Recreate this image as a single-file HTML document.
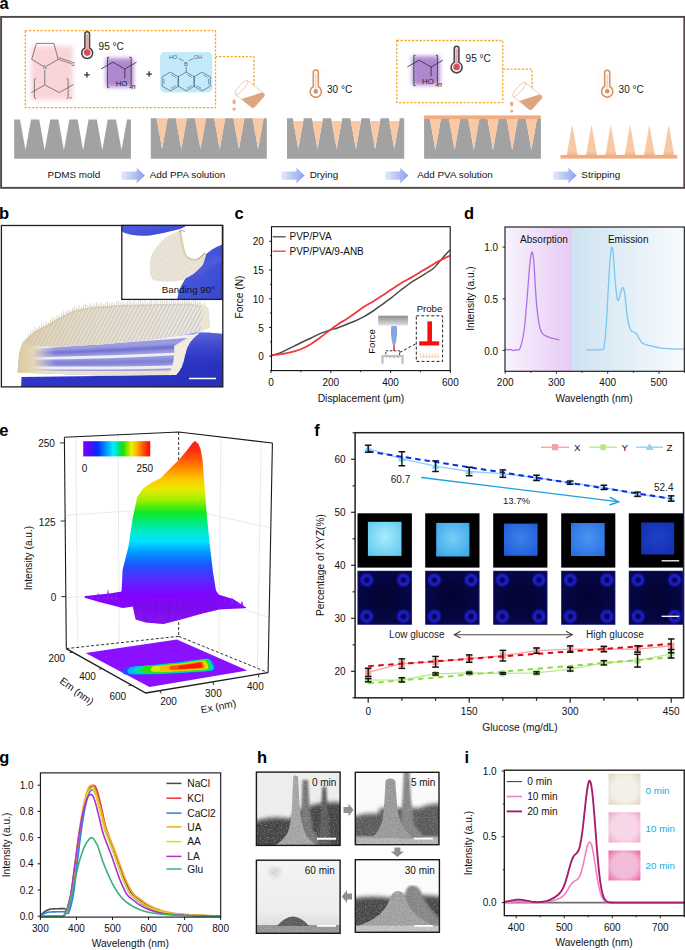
<!DOCTYPE html>
<html><head><meta charset="utf-8"><style>
html,body{margin:0;padding:0;background:#fff;}
svg{display:block;font-family:"Liberation Sans", sans-serif;}
</style></head><body>
<svg width="685" height="950" viewBox="0 0 685 950">
<rect width="685" height="950" fill="#fff"/>
<linearGradient id="arrowg" x1="0" x2="1" y1="0" y2="0"><stop offset="0" stop-color="#e6ebfb"/><stop offset="1" stop-color="#8aa0ee"/></linearGradient>
<filter id="blur2" x="-20%" y="-20%" width="140%" height="140%"><feGaussianBlur stdDeviation="2"/></filter>
<text x="-0.5" y="8.7" font-size="16.5" font-weight="bold" fill="#000">a</text>
<rect x="1.1" y="16.9" width="683.2" height="170.95" fill="none" stroke="#524747" stroke-width="1.9"/>
<rect x="25.3" y="30.6" width="190.2" height="77" fill="none" stroke="#f5a623" stroke-width="1.3" stroke-dasharray="2.2,1.6"/>
<path d="M215.5,56.6 L253.9,56.6 L253.9,86" fill="none" stroke="#f5a623" stroke-width="1.3" stroke-dasharray="2.2,1.6"/>
<rect x="396.8" y="40.5" width="106" height="62.2" fill="none" stroke="#f5a623" stroke-width="1.3" stroke-dasharray="2.2,1.6"/>
<path d="M502.8,69.2 L532,69.2 L532,90" fill="none" stroke="#f5a623" stroke-width="1.3" stroke-dasharray="2.2,1.6"/>
<rect x="31" y="46" width="42" height="54" fill="#f9d5da" filter="url(#blur2)"/>
<path d="M36.4,43.4 L53.9,43.4 L58.2,59.3 L44.8,67.2 L31.7,59.3 L36.4,43.4" fill="none" stroke="#5a5a5a" stroke-width="0.75"/>
<path d="M58.2,59.3 L71,63.6 M58.9,57.6 L71.6,61.9" fill="none" stroke="#5a5a5a" stroke-width="0.7"/>
<text x="71.2" y="66.4" font-size="4.6" fill="#444">O</text>
<rect x="43" y="64.8" width="4" height="4.5" fill="#f9d5da"/>
<text x="44.8" y="69.4" font-size="5" text-anchor="middle" fill="#444">N</text>
<path d="M44.8,70 L44.8,84.9 M31.4,92.6 L44.8,84.9 L59.4,92.6 L73.5,84.4" fill="none" stroke="#5a5a5a" stroke-width="0.75"/>
<path d="M36,78.5 Q34.4,78.5 34.4,80 L34.4,97 Q34.4,98.5 36,98.5" fill="none" stroke="#5a5a5a" stroke-width="0.75"/>
<path d="M66.5,78.5 Q68.1,78.5 68.1,80 L68.1,97 Q68.1,98.5 66.5,98.5" fill="none" stroke="#5a5a5a" stroke-width="0.75"/>
<text x="69.6" y="98.8" font-size="3.8" font-style="italic" fill="#444">n</text>
<path d="M84.9,34.1 L84.9,47.98 A5.5,5.5 0 1 0 89.5,47.98 L89.5,34.1 A2.3,2.3 0 0 0 84.9,34.1 Z" fill="#fdf4f5" stroke="#474747" stroke-width="1.6"/>
<rect x="86.05" y="34" width="2.3" height="17.8" fill="#eca3ac" rx="1"/>
<circle cx="87.2" cy="52.6" r="3.3" fill="#d84f5b"/>
<path d="M88.5,39.8 h0.8 M88.5,42.3 h0.8 M88.5,44.8 h0.8" fill="none" stroke="#7a5a5e" stroke-width="0.5"/>
<text x="98.6" y="50.2" font-size="10" fill="#1a1a1a">95 °C</text>
<path d="M84.2,74.9 h5.5 M86.95,72.1 v5.5 M146.4,74.1 h5.5 M149.15,71.3 v5.5" fill="none" stroke="#333" stroke-width="1.3"/>
<rect x="106" y="58.2" width="27.4" height="29" fill="#ad88d0" filter="url(#blur2)"/><path d="M109.2,57.3 L107.6,57.3 L107.6,87.6 L109.2,87.6" fill="none" stroke="#333" stroke-width="0.85"/><path d="M129.5,57.3 L131.1,57.3 L131.1,87.6 L129.5,87.6" fill="none" stroke="#333" stroke-width="0.85"/><path d="M101.1,68.9 L112.9,62.2 L124.8,69 L136.5,62.2 M124.8,69 L124.8,78.3" fill="none" stroke="#333" stroke-width="0.85"/><text x="115.8" y="85.6" font-size="7.7" fill="#222">HO</text><text x="131.6" y="88.7" font-size="7.2" font-style="italic" fill="#222">n</text>
<rect x="160.1" y="52.1" width="52.2" height="40.3" fill="#c4eafa" rx="4.5"/>
<path d="M170.3,72.1 L178.44,76.8 L178.44,86.2 L170.3,90.9 L162.16,86.2 L162.16,76.8 L170.3,72.1" fill="none" stroke="#466e82" stroke-width="0.75"/>
<path d="M186.2,72.1 L194.34,76.8 L194.34,86.2 L186.2,90.9 L178.06,86.2 L178.06,76.8 L186.2,72.1" fill="none" stroke="#466e82" stroke-width="0.75"/>
<path d="M202.1,72.1 L210.24,76.8 L210.24,86.2 L202.1,90.9 L193.96,86.2 L193.96,76.8 L202.1,72.1" fill="none" stroke="#466e82" stroke-width="0.75"/>
<path d="M171.06,74.61 L175.89,77.39 M163.95,84.29 L163.95,78.71 M175.89,85.61 L171.06,88.39 M186.96,74.61 L191.79,77.39 M191.79,85.61 L186.96,88.39 M202.86,74.61 L207.69,77.39 M208.45,78.71 L208.45,84.29 M201.34,88.39 L196.51,85.61 " fill="none" stroke="#466e82" stroke-width="0.6"/>
<path d="M186.2,72.1 L186.2,66.6" fill="none" stroke="#466e82" stroke-width="0.75"/>
<text x="186" y="65.8" font-size="5.8" text-anchor="middle" fill="#466e82">B</text>
<path d="M183.6,61 L178.6,58.4 M188.4,61 L193.4,58.4" fill="none" stroke="#466e82" stroke-width="0.7"/>
<text x="173.1" y="58.6" font-size="5.6" text-anchor="middle" fill="#466e82">HO</text>
<text x="197.9" y="58.6" font-size="5.6" text-anchor="middle" fill="#466e82">OH</text>
<g transform="translate(228,76)"><path d="M19.6,4.6 L36.2,17.8 Q37,19.5 35.6,21 L26.4,31.2 Q25.1,32.4 23.6,31.4 L7.4,18.4" fill="none" stroke="#e9b896" stroke-width="0.7"/><ellipse cx="13.5" cy="11.5" rx="9.2" ry="2.6" transform="rotate(-48.5 13.5 11.5)" fill="none" stroke="#e9b896" stroke-width="0.7"/><path d="M13.5,23 L33.7,16.6 L36.2,17.8 Q37,19.5 35.6,21 L26.4,31.2 Q25.1,32.4 23.6,31.4 Z" fill="#dda680"/><ellipse cx="6.1" cy="25.8" rx="1.6" ry="2.5" fill="#eeaa7d"/><circle cx="6.1" cy="33.1" r="1.6" fill="#eeaa7d"/></g>
<rect x="304.8" y="68" width="22" height="32" fill="#fefdfc"/>
<path d="M313.3,72.5 L313.3,86.77 A5.6,5.6 0 1 0 318.3,86.77 L318.3,72.5 A2.5,2.5 0 0 0 313.3,72.5 Z" fill="#ffffff" stroke="#d39468" stroke-width="1.6"/>
<line x1="315.8" y1="74" x2="315.8" y2="89.4" stroke="#e2b394" stroke-width="0.8"/>
<circle cx="315.8" cy="91.4" r="2.3" fill="#d39468"/>
<text x="327" y="92.7" font-size="10" fill="#1a1a1a">30 °C</text>
<rect x="412.3" y="56.2" width="27.4" height="29" fill="#ad88d0" filter="url(#blur2)"/><path d="M415.5,55.3 L413.9,55.3 L413.9,85.6 L415.5,85.6" fill="none" stroke="#333" stroke-width="0.85"/><path d="M435.8,55.3 L437.4,55.3 L437.4,85.6 L435.8,85.6" fill="none" stroke="#333" stroke-width="0.85"/><path d="M407.4,66.9 L419.2,60.2 L431.1,67 L442.8,60.2 M431.1,67 L431.1,76.3" fill="none" stroke="#333" stroke-width="0.85"/><text x="422.1" y="83.6" font-size="7.7" fill="#222">HO</text><text x="437.9" y="86.7" font-size="7.2" font-style="italic" fill="#222">n</text>
<path d="M454.3,48.5 L454.3,62.38 A5.5,5.5 0 1 0 458.9,62.38 L458.9,48.5 A2.3,2.3 0 0 0 454.3,48.5 Z" fill="#fdf4f5" stroke="#474747" stroke-width="1.6"/>
<rect x="455.45" y="48.4" width="2.3" height="17.8" fill="#eca3ac" rx="1"/>
<circle cx="456.6" cy="67" r="3.3" fill="#d84f5b"/>
<path d="M457.9,54.2 h0.8 M457.9,56.7 h0.8 M457.9,59.2 h0.8" fill="none" stroke="#7a5a5e" stroke-width="0.5"/>
<text x="465.6" y="62.1" font-size="10" fill="#1a1a1a">95 °C</text>
<g transform="translate(505.6,78)"><path d="M19.6,4.6 L36.2,17.8 Q37,19.5 35.6,21 L26.4,31.2 Q25.1,32.4 23.6,31.4 L7.4,18.4" fill="none" stroke="#e9b896" stroke-width="0.7"/><ellipse cx="13.5" cy="11.5" rx="9.2" ry="2.6" transform="rotate(-48.5 13.5 11.5)" fill="none" stroke="#e9b896" stroke-width="0.7"/><path d="M13.5,23 L33.7,16.6 L36.2,17.8 Q37,19.5 35.6,21 L26.4,31.2 Q25.1,32.4 23.6,31.4 Z" fill="#dda680"/><ellipse cx="6.1" cy="25.8" rx="1.6" ry="2.5" fill="#eeaa7d"/><circle cx="6.1" cy="33.1" r="1.6" fill="#eeaa7d"/></g>
<rect x="596.2" y="68.3" width="22" height="31.5" fill="#fefdfc"/>
<path d="M604.7,72.8 L604.7,86.57 A5.6,5.6 0 1 0 609.7,86.57 L609.7,72.8 A2.5,2.5 0 0 0 604.7,72.8 Z" fill="#ffffff" stroke="#d39468" stroke-width="1.6"/>
<line x1="607.2" y1="74.3" x2="607.2" y2="89.2" stroke="#e2b394" stroke-width="0.8"/>
<circle cx="607.2" cy="91.2" r="2.3" fill="#d39468"/>
<text x="618.6" y="92.8" font-size="10" fill="#1a1a1a">30 °C</text>
<path d="M14.2,158.8 L14.2,119.5 L20,119.5 L25.5,150.3 L31,119.5 L39.2,119.5 L44.7,150.3 L50.2,119.5 L58.4,119.5 L63.9,150.3 L69.4,119.5 L77.6,119.5 L83.1,150.3 L88.6,119.5 L96.8,119.5 L102.3,150.3 L107.8,119.5 L116,119.5 L121.5,150.3 L127,119.5 L130.9,119.5 L130.9,158.8Z" fill="#a2a2a2"/>
<path d="M150.8,158.8 L150.8,118.3 L156.6,118.3 L162.1,149.1 L167.6,118.3 L175.8,118.3 L181.3,149.1 L186.8,118.3 L195,118.3 L200.5,149.1 L206,118.3 L214.2,118.3 L219.7,149.1 L225.2,118.3 L233.4,118.3 L238.9,149.1 L244.4,118.3 L252.6,118.3 L258.1,149.1 L263.6,118.3 L266.8,118.3 L266.8,158.8Z" fill="#a2a2a2"/>
<path d="M156.6,118.3 L167.6,118.3 L162.1,149.1Z" fill="#f9c9a6"/>
<path d="M175.8,118.3 L186.8,118.3 L181.3,149.1Z" fill="#f9c9a6"/>
<path d="M195,118.3 L206,118.3 L200.5,149.1Z" fill="#f9c9a6"/>
<path d="M214.2,118.3 L225.2,118.3 L219.7,149.1Z" fill="#f9c9a6"/>
<path d="M233.4,118.3 L244.4,118.3 L238.9,149.1Z" fill="#f9c9a6"/>
<path d="M252.6,118.3 L263.6,118.3 L258.1,149.1Z" fill="#f9c9a6"/>
<path d="M287,158.8 L287,118.3 L292.8,118.3 L298.3,149.1 L303.8,118.3 L312,118.3 L317.5,149.1 L323,118.3 L331.2,118.3 L336.7,149.1 L342.2,118.3 L350.4,118.3 L355.9,149.1 L361.4,118.3 L369.6,118.3 L375.1,149.1 L380.6,118.3 L388.8,118.3 L394.3,149.1 L399.8,118.3 L404.2,118.3 L404.2,158.8Z" fill="#a2a2a2"/>
<path d="M293.26,120.9 L303.34,120.9 L298.3,149.1Z" fill="#f9c9a6"/>
<path d="M312.46,120.9 L322.54,120.9 L317.5,149.1Z" fill="#f9c9a6"/>
<path d="M331.66,120.9 L341.74,120.9 L336.7,149.1Z" fill="#f9c9a6"/>
<path d="M350.86,120.9 L360.94,120.9 L355.9,149.1Z" fill="#f9c9a6"/>
<path d="M370.06,120.9 L380.14,120.9 L375.1,149.1Z" fill="#f9c9a6"/>
<path d="M389.26,120.9 L399.34,120.9 L394.3,149.1Z" fill="#f9c9a6"/>
<rect x="424.1" y="115.4" width="116.8" height="3.8" fill="#f3ab7f"/>
<path d="M424.1,158.8 L424.1,119.1 L429.9,119.1 L435.4,149.9 L440.9,119.1 L449.1,119.1 L454.6,149.9 L460.1,119.1 L468.3,119.1 L473.8,149.9 L479.3,119.1 L487.5,119.1 L493,149.9 L498.5,119.1 L506.7,119.1 L512.2,149.9 L517.7,119.1 L525.9,119.1 L531.4,149.9 L536.9,119.1 L540.9,119.1 L540.9,158.8Z" fill="#a2a2a2"/>
<path d="M429.9,119.1 L440.9,119.1 L435.4,149.9Z" fill="#f9c9a6"/>
<path d="M449.1,119.1 L460.1,119.1 L454.6,149.9Z" fill="#f9c9a6"/>
<path d="M468.3,119.1 L479.3,119.1 L473.8,149.9Z" fill="#f9c9a6"/>
<path d="M487.5,119.1 L498.5,119.1 L493,149.9Z" fill="#f9c9a6"/>
<path d="M506.7,119.1 L517.7,119.1 L512.2,149.9Z" fill="#f9c9a6"/>
<path d="M525.9,119.1 L536.9,119.1 L531.4,149.9Z" fill="#f9c9a6"/>
<rect x="560.5" y="154.9" width="116.7" height="3.7" fill="#f3ab7f"/>
<path d="M566.8,155 L577.6,155 L572.2,124.6Z" fill="#f9c9a6"/>
<path d="M566.8,155 L577.6,155 L576.8,152.6 L567.6,152.6Z" fill="#f6bb92"/>
<path d="M586.1,155 L596.9,155 L591.5,124.6Z" fill="#f9c9a6"/>
<path d="M586.1,155 L596.9,155 L596.1,152.6 L586.9,152.6Z" fill="#f6bb92"/>
<path d="M605.4,155 L616.2,155 L610.8,124.6Z" fill="#f9c9a6"/>
<path d="M605.4,155 L616.2,155 L615.4,152.6 L606.2,152.6Z" fill="#f6bb92"/>
<path d="M624.7,155 L635.5,155 L630.1,124.6Z" fill="#f9c9a6"/>
<path d="M624.7,155 L635.5,155 L634.7,152.6 L625.5,152.6Z" fill="#f6bb92"/>
<path d="M644,155 L654.8,155 L649.4,124.6Z" fill="#f9c9a6"/>
<path d="M644,155 L654.8,155 L654,152.6 L644.8,152.6Z" fill="#f6bb92"/>
<path d="M663.3,155 L674.1,155 L668.7,124.6Z" fill="#f9c9a6"/>
<path d="M663.3,155 L674.1,155 L673.3,152.6 L664.1,152.6Z" fill="#f6bb92"/>
<text x="47.6" y="178.3" font-size="9.9" fill="#111">PDMS mold</text>
<path d="M121.2,171.5 L136.7,171.5 L136.7,167.7 L144.9,175.6 L136.7,183.5 L136.7,179.7 L121.2,179.7Z" fill="url(#arrowg)"/>
<text x="149.7" y="178.3" font-size="9.9" fill="#111">Add PPA solution</text>
<path d="M281.2,171.5 L296.4,171.5 L296.4,167.7 L304.6,175.6 L296.4,183.5 L296.4,179.7 L281.2,179.7Z" fill="url(#arrowg)"/>
<text x="309.7" y="178.3" font-size="9.9" fill="#111">Drying</text>
<path d="M384.8,171.5 L400.2,171.5 L400.2,167.7 L408.4,175.6 L400.2,183.5 L400.2,179.7 L384.8,179.7Z" fill="url(#arrowg)"/>
<text x="417.2" y="178.3" font-size="9.9" fill="#111">Add PVA solution</text>
<path d="M553,171.5 L568.4,171.5 L568.4,167.7 L576.6,175.6 L568.4,183.5 L568.4,179.7 L553,179.7Z" fill="url(#arrowg)"/>
<text x="581.3" y="178.3" font-size="9.9" fill="#111">Stripping</text>
<text x="234.5" y="219.2" font-size="16.5" font-weight="bold" fill="#000">c</text>
<clipPath id="clipc"><rect x="271.5" y="226.7" width="178.7" height="143.9"/></clipPath>
<g clip-path="url(#clipc)">
<path d="M270.6,355.7 C271.92,355.32 276.02,354.28 278.5,353.4 C280.98,352.52 282.87,351.62 285.5,350.4 C288.13,349.18 291.38,347.55 294.3,346.1 C297.22,344.65 300.08,343.1 303,341.7 C305.92,340.3 308.87,339.08 311.8,337.7 C314.73,336.32 317.68,334.63 320.6,333.4 C323.52,332.17 326.38,331.25 329.3,330.3 C332.22,329.35 335.18,328.72 338.1,327.7 C341.02,326.68 343.88,325.37 346.8,324.2 C349.72,323.03 352.67,322.02 355.6,320.7 C358.53,319.38 361.48,317.92 364.4,316.3 C367.32,314.68 370.18,312.93 373.1,311 C376.02,309.07 379,306.8 381.9,304.7 C384.8,302.6 387.32,300.85 390.5,298.4 C393.68,295.95 397.5,292.72 401,290 C404.5,287.28 408,284.47 411.5,282.1 C415,279.73 418.48,277.98 422,275.8 C425.52,273.62 429.97,271.02 432.6,269 C435.23,266.98 436.05,265.63 437.8,263.7 C439.55,261.77 441.52,259.23 443.1,257.4 C444.68,255.57 446.08,253.97 447.3,252.7 C448.52,251.43 449.88,250.28 450.4,249.8" fill="none" stroke="#4a4a4a" stroke-width="1.5"/>
<path d="M270.6,355.7 C271.92,355.5 276.02,354.88 278.5,354.5 C280.98,354.12 282.87,353.93 285.5,353.4 C288.13,352.87 291.38,352.15 294.3,351.3 C297.22,350.45 300.08,349.62 303,348.3 C305.92,346.98 308.87,345.23 311.8,343.4 C314.73,341.57 317.68,339.43 320.6,337.3 C323.52,335.17 326.38,332.78 329.3,330.6 C332.22,328.42 335.18,326.15 338.1,324.2 C341.02,322.25 343.88,320.8 346.8,318.9 C349.72,317 352.67,314.85 355.6,312.8 C358.53,310.75 361.48,308.5 364.4,306.6 C367.32,304.7 370.18,303.2 373.1,301.4 C376.02,299.6 379,297.7 381.9,295.8 C384.8,293.9 387.32,292.1 390.5,290 C393.68,287.9 397.5,285.3 401,283.2 C404.5,281.1 408,279.42 411.5,277.4 C415,275.38 418.48,273.2 422,271.1 C425.52,269 429.97,266.38 432.6,264.8 C435.23,263.22 436.05,262.57 437.8,261.6 C439.55,260.63 441.52,259.78 443.1,259 C444.68,258.22 446.08,257.45 447.3,256.9 C448.52,256.35 449.88,255.9 450.4,255.7" fill="none" stroke="#ee3a40" stroke-width="1.8"/>
</g>
<rect x="271.5" y="226.7" width="178.7" height="143.9" fill="none" stroke="#111" stroke-width="1.1"/>
<line x1="271" y1="370.6" x2="271" y2="373" stroke="#111" stroke-width="0.9"/>
<line x1="300.9" y1="370.6" x2="300.9" y2="372.1" stroke="#111" stroke-width="0.9"/>
<line x1="330.8" y1="370.6" x2="330.8" y2="373" stroke="#111" stroke-width="0.9"/>
<line x1="360.7" y1="370.6" x2="360.7" y2="372.1" stroke="#111" stroke-width="0.9"/>
<line x1="390.6" y1="370.6" x2="390.6" y2="373" stroke="#111" stroke-width="0.9"/>
<line x1="420.5" y1="370.6" x2="420.5" y2="372.1" stroke="#111" stroke-width="0.9"/>
<line x1="450.4" y1="370.6" x2="450.4" y2="373" stroke="#111" stroke-width="0.9"/>
<text x="271" y="386.3" font-size="10" text-anchor="middle" fill="#111">0</text>
<text x="330.8" y="386.3" font-size="10" text-anchor="middle" fill="#111">200</text>
<text x="390.6" y="386.3" font-size="10" text-anchor="middle" fill="#111">400</text>
<text x="450.4" y="386.3" font-size="10" text-anchor="middle" fill="#111">600</text>
<line x1="270" y1="370.56" x2="271.5" y2="370.56" stroke="#111" stroke-width="0.9"/>
<line x1="269.1" y1="356.2" x2="271.5" y2="356.2" stroke="#111" stroke-width="0.9"/>
<line x1="270" y1="341.84" x2="271.5" y2="341.84" stroke="#111" stroke-width="0.9"/>
<line x1="269.1" y1="327.47" x2="271.5" y2="327.47" stroke="#111" stroke-width="0.9"/>
<line x1="270" y1="313.11" x2="271.5" y2="313.11" stroke="#111" stroke-width="0.9"/>
<line x1="269.1" y1="298.75" x2="271.5" y2="298.75" stroke="#111" stroke-width="0.9"/>
<line x1="270" y1="284.39" x2="271.5" y2="284.39" stroke="#111" stroke-width="0.9"/>
<line x1="269.1" y1="270.02" x2="271.5" y2="270.02" stroke="#111" stroke-width="0.9"/>
<line x1="270" y1="255.66" x2="271.5" y2="255.66" stroke="#111" stroke-width="0.9"/>
<line x1="269.1" y1="241.3" x2="271.5" y2="241.3" stroke="#111" stroke-width="0.9"/>
<text x="263.8" y="360.3" font-size="10" text-anchor="end" fill="#111">0</text>
<text x="263.8" y="331.57" font-size="10" text-anchor="end" fill="#111">5</text>
<text x="263.8" y="302.85" font-size="10" text-anchor="end" fill="#111">10</text>
<text x="263.8" y="274.12" font-size="10" text-anchor="end" fill="#111">15</text>
<text x="263.8" y="245.4" font-size="10" text-anchor="end" fill="#111">20</text>
<text x="243.3" y="297" font-size="10.2" text-anchor="middle" fill="#111" transform="rotate(-90 243.3 297)">Force (N)</text>
<text x="361" y="401.8" font-size="10.3" text-anchor="middle" fill="#111">Displacement (μm)</text>
<line x1="272.7" y1="236.8" x2="285.7" y2="236.8" stroke="#4a4a4a" stroke-width="1.3"/>
<text x="289.5" y="240.2" font-size="10" fill="#111">PVP/PVA</text>
<line x1="272.7" y1="251.2" x2="285.7" y2="251.2" stroke="#ec3a3f" stroke-width="1.3"/>
<text x="289.5" y="254.6" font-size="10" fill="#111">PVP/PVA/9-ANB</text>
<linearGradient id="gbar" x1="0" x2="0" y1="0" y2="1"><stop offset="0" stop-color="#8c8c8c"/><stop offset="1" stop-color="#e0e0e0"/></linearGradient>
<rect x="378.2" y="315.7" width="29.7" height="9.8" fill="url(#gbar)"/>
<path d="M391.3,326 L396.8,326 Q398,333 395.4,344.5 L392.6,344.5 Q390,333 391.3,326 Z" fill="#88a6de"/>
<line x1="394" y1="344.5" x2="394" y2="351" stroke="#fb0d0d" stroke-width="1.3"/>
<text x="375.2" y="341.5" font-size="9.6" text-anchor="middle" fill="#111" transform="rotate(-90 375.2 341.5)">Force</text>
<rect x="385.8" y="350.8" width="13.8" height="6" fill="none" stroke="#222" stroke-width="0.9" stroke-dasharray="2.5,1.5"/>
<path d="M382.5,363.8 L382.5,356 L402.5,356 L402.5,363.8" fill="none" stroke="#b9bec8" stroke-width="2.2"/>
<line x1="386" y1="355.4" x2="399" y2="355.4" stroke="#f2b48d" stroke-width="1"/>
<path d="M399.6,352.5 L416.2,343.6" fill="none" stroke="#222" stroke-width="1" stroke-dasharray="3,2"/>
<rect x="416.3" y="315.8" width="26.3" height="45.6" fill="none" stroke="#222" stroke-width="1" stroke-dasharray="3,2"/>
<text x="429.5" y="311.8" font-size="9.6" text-anchor="middle" fill="#111">Probe</text>
<rect x="427.4" y="321.4" width="4.6" height="20.5" fill="#fb0d0d"/>
<rect x="419.2" y="341.3" width="20" height="4.2" fill="#fb0d0d"/>
<line x1="420.5" y1="353.5" x2="420.5" y2="356.8" stroke="#f5b48a" stroke-width="0.7"/>
<line x1="423.4" y1="353.5" x2="423.4" y2="356.8" stroke="#f5b48a" stroke-width="0.7"/>
<line x1="426.3" y1="353.5" x2="426.3" y2="356.8" stroke="#f5b48a" stroke-width="0.7"/>
<line x1="429.2" y1="353.5" x2="429.2" y2="356.8" stroke="#f5b48a" stroke-width="0.7"/>
<line x1="432.1" y1="353.5" x2="432.1" y2="356.8" stroke="#f5b48a" stroke-width="0.7"/>
<line x1="435" y1="353.5" x2="435" y2="356.8" stroke="#f5b48a" stroke-width="0.7"/>
<line x1="437.9" y1="353.5" x2="437.9" y2="356.8" stroke="#f5b48a" stroke-width="0.7"/>
<line x1="419.5" y1="357" x2="439.5" y2="357" stroke="#f8d2b8" stroke-width="1.2"/>
<text x="464" y="219" font-size="16.5" font-weight="bold" fill="#000">d</text>
<linearGradient id="gpur" x1="0" x2="1" y1="0" y2="0"><stop offset="0" stop-color="#f7f3fd"/><stop offset="1" stop-color="#e7caf4"/></linearGradient>
<linearGradient id="gblu" x1="0" x2="1" y1="0" y2="0"><stop offset="0" stop-color="#cde3f1"/><stop offset="1" stop-color="#f8fbfd"/></linearGradient>
<rect x="505" y="227" width="67" height="144.3" fill="url(#gpur)"/>
<rect x="572" y="227" width="112.3" height="144.3" fill="url(#gblu)"/>
<path d="M505.4,349.22 C505.85,349.31 507.2,349.72 508.1,349.76 C509,349.81 509.9,349.36 510.8,349.49 C511.7,349.63 512.6,350.53 513.5,350.57 C514.4,350.62 515.3,349.85 516.2,349.76 C517.1,349.67 518.23,350.35 518.9,350.03 C519.58,349.72 519.71,349.36 520.25,347.87 C520.79,346.39 521.47,344.27 522.14,341.12 C522.82,337.97 523.58,334.82 524.3,328.97 C525.02,323.12 525.79,313.89 526.47,306.02 C527.14,298.14 527.82,288.46 528.36,281.71 C528.9,274.96 529.26,270.01 529.71,265.51 C530.16,261.01 530.65,256.96 531.06,254.71 C531.46,252.46 531.78,251.78 532.14,252.01 C532.5,252.23 532.86,253.36 533.22,256.06 C533.58,258.76 533.94,263.03 534.3,268.21 C534.66,273.38 534.97,280.81 535.38,287.11 C535.78,293.41 536.23,300.61 536.73,306.02 C537.22,311.42 537.72,315.56 538.35,319.52 C538.98,323.48 539.7,327.3 540.51,329.78 C541.32,332.26 542.08,333.25 543.21,334.37 C544.33,335.5 545.68,335.86 547.26,336.53 C548.83,337.21 550.63,337.88 552.66,338.42 C554.69,338.96 558.29,339.55 559.41,339.77" fill="none" stroke="#b26ee6" stroke-width="1.3"/>
<path d="M586.42,349.76 C589.12,349.72 599.65,350.26 602.62,349.49 C605.59,348.73 603.7,348.37 604.24,345.17 C604.78,341.98 605.32,337.3 605.86,330.32 C606.4,323.34 606.94,312.77 607.48,303.31 C608.02,293.86 608.61,281.71 609.1,273.61 C609.6,265.51 610.05,258.98 610.45,254.71 C610.86,250.43 611.17,248.85 611.53,247.95 C611.89,247.05 612.25,247.28 612.61,249.3 C612.97,251.33 613.29,255.16 613.69,260.11 C614.1,265.06 614.55,273.16 615.04,279.01 C615.54,284.86 616.17,291.61 616.66,295.21 C617.16,298.81 617.56,300.16 618.01,300.61 C618.46,301.06 618.87,299.49 619.36,297.91 C619.86,296.34 620.44,292.87 620.98,291.16 C621.52,289.45 622.11,287.88 622.6,287.65 C623.1,287.43 623.5,288.1 623.95,289.81 C624.4,291.52 624.85,294.31 625.3,297.91 C625.75,301.51 626.16,307.37 626.65,311.42 C627.15,315.47 627.69,319.29 628.27,322.22 C628.86,325.14 629.49,327.39 630.16,328.97 C630.84,330.55 631.51,331.09 632.33,331.67 C633.14,332.26 634.26,332.03 635.03,332.48 C635.79,332.93 636.24,333.38 636.92,334.37 C637.59,335.36 638.27,337.07 639.08,338.42 C639.89,339.77 640.65,341.44 641.78,342.47 C642.9,343.51 644.25,344.05 645.83,344.63 C647.4,345.22 648.98,345.44 651.23,345.98 C653.48,346.52 656.63,347.42 659.33,347.87 C662.03,348.32 663.29,348.46 667.43,348.68 C671.57,348.91 681.38,349.13 684.17,349.22" fill="none" stroke="#79c6f2" stroke-width="1.3"/>
<rect x="505" y="227" width="179.3" height="144.3" fill="none" stroke="#111" stroke-width="1.1"/>
<line x1="505.2" y1="371.3" x2="505.2" y2="373.7" stroke="#111" stroke-width="0.9"/>
<line x1="530.82" y1="371.3" x2="530.82" y2="372.8" stroke="#111" stroke-width="0.9"/>
<line x1="556.45" y1="371.3" x2="556.45" y2="373.7" stroke="#111" stroke-width="0.9"/>
<line x1="582.08" y1="371.3" x2="582.08" y2="372.8" stroke="#111" stroke-width="0.9"/>
<line x1="607.7" y1="371.3" x2="607.7" y2="373.7" stroke="#111" stroke-width="0.9"/>
<line x1="633.33" y1="371.3" x2="633.33" y2="372.8" stroke="#111" stroke-width="0.9"/>
<line x1="658.95" y1="371.3" x2="658.95" y2="373.7" stroke="#111" stroke-width="0.9"/>
<line x1="684.57" y1="371.3" x2="684.57" y2="372.8" stroke="#111" stroke-width="0.9"/>
<text x="505.2" y="386.3" font-size="10" text-anchor="middle" fill="#111">200</text>
<text x="556.45" y="386.3" font-size="10" text-anchor="middle" fill="#111">300</text>
<text x="607.7" y="386.3" font-size="10" text-anchor="middle" fill="#111">400</text>
<text x="658.95" y="386.3" font-size="10" text-anchor="middle" fill="#111">500</text>
<line x1="502.6" y1="350.4" x2="505" y2="350.4" stroke="#111" stroke-width="0.9"/>
<line x1="502.6" y1="298.75" x2="505" y2="298.75" stroke="#111" stroke-width="0.9"/>
<line x1="502.6" y1="247.1" x2="505" y2="247.1" stroke="#111" stroke-width="0.9"/>
<text x="498.2" y="354.6" font-size="10" text-anchor="end" fill="#111">0.0</text>
<text x="498.2" y="302.95" font-size="10" text-anchor="end" fill="#111">0.5</text>
<text x="498.2" y="251.3" font-size="10" text-anchor="end" fill="#111">1.0</text>
<text x="473.5" y="298.5" font-size="10.2" text-anchor="middle" fill="#111" transform="rotate(-90 473.5 298.5)">Intensity (a.u.)</text>
<text x="594" y="401.6" font-size="10.2" text-anchor="middle" fill="#111">Wavelength (nm)</text>
<text x="544" y="243.2" font-size="10" text-anchor="middle" fill="#111">Absorption</text>
<text x="628.2" y="243.2" font-size="10" text-anchor="middle" fill="#111">Emission</text>
<text x="-1" y="218.8" font-size="16.5" font-weight="bold" fill="#000">b</text>
<clipPath id="clipb"><rect x="1.4" y="225.5" width="221.4" height="161.4"/></clipPath>
<linearGradient id="ggloveL" x1="0" x2="1" y1="0" y2="1"><stop offset="0" stop-color="#5060e4"/><stop offset="0.5" stop-color="#4454da"/><stop offset="1" stop-color="#3444cc"/></linearGradient>
<linearGradient id="gglove" x1="0" x2="1" y1="0" y2="1"><stop offset="0" stop-color="#3b43d6"/><stop offset="0.5" stop-color="#2e35c8"/><stop offset="1" stop-color="#2630b8"/></linearGradient>
<pattern id="pneedle" width="3.4" height="40" patternUnits="userSpaceOnUse" patternTransform="rotate(28)"><rect width="3.4" height="40" fill="#e4e1db"/><line x1="1.1" y1="0" x2="1.1" y2="40" stroke="#b3aea5" stroke-width="0.6"/><line x1="2.6" y1="0" x2="2.6" y2="40" stroke="#fbfaf8" stroke-width="0.8"/></pattern>
<linearGradient id="gfieldtint" x1="0" x2="1" y1="0" y2="0"><stop offset="0" stop-color="#d8c49a" stop-opacity="0.75"/><stop offset="0.35" stop-color="#d9ccb0" stop-opacity="0.45"/><stop offset="1" stop-color="#d6d2cc" stop-opacity="0.1"/></linearGradient>
<pattern id="pstripe" width="2.4" height="40" patternUnits="userSpaceOnUse" patternTransform="rotate(18)"><rect width="2.4" height="40" fill="#f0ebdf"/><line x1="0.7" y1="0" x2="0.7" y2="40" stroke="#c2bba9" stroke-width="0.5"/></pattern>
<filter id="bl1"><feGaussianBlur stdDeviation="0.8"/></filter>
<filter id="bl05b"><feGaussianBlur stdDeviation="0.45"/></filter>
<g clip-path="url(#clipb)">
<rect x="1.4" y="225.5" width="221.4" height="161.4" fill="#ffffff"/>
<path d="M182,337 Q190,333.5 196,332.6 Q210,332.6 224,334 L224,389 L21,389 L21.5,377 L100,376 L176,374.5 Z" fill="url(#gglove)"/>
<linearGradient id="gblhi" x1="0" x2="0" y1="332" y2="365" gradientUnits="userSpaceOnUse"><stop offset="0" stop-color="#6470e0" stop-opacity="0.85"/><stop offset="1" stop-color="#3a44cc" stop-opacity="0"/></linearGradient>
<path d="M182,337 Q190,333.5 196,332.6 Q210,332.6 224,334 L224,365 L182,365 Z" fill="url(#gblhi)"/>
<path d="M17.5,372.5 L19.3,352.8 L22.8,342.3 L30,346 L60,346.5 L100,344.5 L150,340 L201,332 Q188,340 185,355 Q183,368 176,375 L100,375.5 Z" fill="#9a9be0"/>
<clipPath id="clipbody"><path d="M17.5,372.5 L19.3,352.8 L22.8,342.3 L30,346 L60,346.5 L100,344.5 L150,340 L201,332 Q188,340 185,355 Q183,368 176,375 L100,375.5 Z"/></clipPath>
<g clip-path="url(#clipbody)">
<path d="M20,347 L200,334 L200,337 L20,350 Z" fill="#f2f1f4" filter="url(#bl05b)"/>
<path d="M30,352 Q110,349 195,344 L195,348 Q110,353 30,355 Z" fill="#6e70d2" filter="url(#bl1)"/>
<path d="M28,357.5 Q110,356 192,352 L191,354.5 Q110,359 28,360 Z" fill="#eeeef6" filter="url(#bl05b)"/>
<path d="M28,361 Q110,361 188,358 L186,363 Q110,365.5 28,365 Z" fill="#7f82d6" filter="url(#bl1)"/>
<path d="M24,366 Q110,367.5 184,365 L183,368 Q110,370.5 24,369 Z" fill="#f0eef0" filter="url(#bl05b)"/>
<path d="M20,370 Q110,372 180,370 L178,376 L18,376 Z" fill="#e8e2cf" filter="url(#bl05b)"/>
<linearGradient id="gbeige" x1="15" x2="55" y1="0" y2="0" gradientUnits="userSpaceOnUse"><stop offset="0" stop-color="#d8c89c"/><stop offset="0.45" stop-color="#e2d6b6"/><stop offset="1" stop-color="#e8e4dc" stop-opacity="0"/></linearGradient>
<rect x="15" y="338" width="45" height="40" fill="url(#gbeige)"/>
<path d="M174,346 Q186,338 201,331 Q190,342 187,356 Q185,369 178,376 L168,376 Q176,360 174,346 Z" fill="#f1ecdf" filter="url(#bl05b)"/>
</g>
<path d="M22.8,342.3 L35,331 L45.5,326 L57.8,318.5 L73.6,310.5 L91,307 L120,305 L190,303.5 L205,306 L208.3,308.5 L210,327.4 L199.6,331.8 L150,340 L100,344.5 L60,346.5 L30,346 Z" fill="url(#pneedle)"/>
<path d="M22.8,342.3 L35,331 L45.5,326 L57.8,318.5 L73.6,310.5 L91,307 L120,305 L190,303.5 L205,306 L208.3,308.5 L210,327.4 L199.6,331.8 L150,340 L100,344.5 L60,346.5 L30,346 Z" fill="url(#gfieldtint)"/>
<path d="M26,341.34 L26.3,337.14 M28.2,339.3 L28.5,333.9 M30.4,337.26 L30.7,330.66 M32.6,335.22 L32.9,330.42 M34.8,333.19 L35.1,327.19 M37,332.05 L37.3,327.85 M39.2,331 L39.5,325.6 M41.4,329.95 L41.7,323.35 M43.6,328.9 L43.9,324.1 M45.8,327.82 L46.1,321.82 M48,326.48 L48.3,322.28 M50.2,325.13 L50.5,319.73 M52.4,323.79 L52.7,317.19 M54.6,322.45 L54.9,317.65 M56.8,321.11 L57.1,315.11 M59,319.89 L59.3,315.69 M61.2,318.78 L61.5,313.38 M63.4,317.66 L63.7,311.06 M65.6,316.55 L65.9,311.75 M67.8,315.44 L68.1,309.44 M70,314.32 L70.3,310.12 M72.2,313.21 L72.5,307.81 M74.4,312.34 L74.7,305.74 M76.6,311.9 L76.9,307.1 M78.8,311.45 L79.1,305.45 M81,311.01 L81.3,306.81 M83.2,310.57 L83.5,305.17 M85.4,310.13 L85.7,303.53 M87.6,309.68 L87.9,304.88 M89.8,309.24 L90.1,303.24 M92,308.93 L92.3,304.73 M94.2,308.78 L94.5,303.38 M96.4,308.63 L96.7,302.03 M98.6,308.48 L98.9,303.68 M100.8,308.32 L101.1,302.32 M103,308.17 L103.3,303.97 M105.2,308.02 L105.5,302.62 M107.4,307.87 L107.7,301.27 M109.6,307.72 L109.9,302.92 M111.8,307.57 L112.1,301.57 M114,307.41 L114.3,303.21 M116.2,307.26 L116.5,301.86 M118.4,307.11 L118.7,300.51 M120.6,306.99 L120.9,302.19 M122.8,306.94 L123.1,300.94 M125,306.89 L125.3,302.69 M127.2,306.85 L127.5,301.45 M129.4,306.8 L129.7,300.2 M131.6,306.75 L131.9,301.95 M133.8,306.7 L134.1,300.7 M136,306.66 L136.3,302.46 M138.2,306.61 L138.5,301.21 M140.4,306.56 L140.7,299.96 M142.6,306.52 L142.9,301.72 M144.8,306.47 L145.1,300.47 M147,306.42 L147.3,302.22 M149.2,306.37 L149.5,300.97 M151.4,306.33 L151.7,299.73 M153.6,306.28 L153.9,301.48 M155.8,306.23 L156.1,300.23 M158,306.19 L158.3,301.99 M160.2,306.14 L160.5,300.74 M162.4,306.09 L162.7,299.49 M164.6,306.04 L164.9,301.24 M166.8,306 L167.1,300 M169,305.95 L169.3,301.75 M171.2,305.9 L171.5,300.5 M173.4,305.86 L173.7,299.26 M175.6,305.81 L175.9,301.01 M177.8,305.76 L178.1,299.76 M180,305.71 L180.3,301.51 M182.2,305.67 L182.5,300.27 M184.4,305.62 L184.7,299.02 M186.6,305.57 L186.9,300.77 M188.8,305.53 L189.1,299.53 M191,305.67 L191.3,301.47 M193.2,306.03 L193.5,300.63 M195.4,306.4 L195.7,299.8 M197.6,306.77 L197.9,301.97 M199.8,307.13 L200.1,301.13 M202,307.5 L202.3,303.3 M204.2,307.87 L204.5,302.47 " fill="none" stroke="#c2b597" stroke-width="0.55"/>
<path d="M199.6,331.8 L210,327.4 L208.3,308 L205,305 L201,306 L203,318 Z" fill="#ebe4d0" filter="url(#bl05b)"/>
<line x1="189" y1="378.5" x2="216" y2="378.5" stroke="#ffffff" stroke-width="1.5"/>
</g>
<rect x="1.4" y="225.5" width="221.4" height="161.4" fill="none" stroke="#231f20" stroke-width="1.3"/>
<clipPath id="clipbi"><rect x="121.8" y="225.4" width="100.6" height="74"/></clipPath>
<g clip-path="url(#clipbi)">
<rect x="121.8" y="225.4" width="100.6" height="74" fill="#ffffff"/>
<path d="M121,224 L188,224 Q186,227 180,229 Q165,233 150,235.5 Q140,236.5 130,234.5 Q124,233 121,231 Z" fill="url(#ggloveL)"/>
<path d="M177,301 Q178,290 184.4,280.2 Q188,273 192,268 Q196,263 201.2,258.8 Q206,254 212,249.6 Q217,246.5 224,244 L224,301 Z" fill="url(#ggloveL)"/>
<path d="M196,272 Q205,262 216,256 L222,255 L222,262 Q210,266 200,276 Z" fill="#5a64e0" opacity="0.5" filter="url(#bl1)"/>
<path d="M150.7,257.3 Q153,251 156.8,246.5 Q161,241 166,237.3 Q172,233.5 178.2,231.2 L181.3,229.7 Q183,240 185.9,257.3 Q190,261 193.6,260.3 Q199,260 205,252.7 Q206.5,254 205.8,255.7 Q204.5,261 202.8,264.9 Q198,270 193.6,274.1 Q188,278 181.3,280.2 Q173,282 166,281.8 Q159,281.5 153.7,280.2 Q150,277 149.9,272.6 Q149.5,264 150.7,257.3 Z" fill="url(#pstripe)"/>
<path d="M180,231 Q181,245 186,256 Q191,261 197,259.5 Q202,257 205,252.7" fill="none" stroke="#d8cba8" stroke-width="1.8"/>
<path d="M179,231.5 Q182.5,229 185,232" fill="none" stroke="#8f8a80" stroke-width="0.8"/>
<path d="M197,259.5 Q202,257 205,252.7" fill="none" stroke="#a9a08a" stroke-width="0.6"/>
</g>
<rect x="121.8" y="225.4" width="100.6" height="74" fill="none" stroke="#231f20" stroke-width="1.3"/>
<text x="161.7" y="292.9" font-size="9.8" fill="#111">Banding 90°</text>
<text x="-0.8" y="436.2" font-size="16.5" font-weight="bold" fill="#000">e</text>
<line x1="75.83" y1="436.68" x2="77.54" y2="647.37" stroke="#dcdcdc" stroke-width="0.6"/>
<line x1="118.12" y1="434.76" x2="119.13" y2="642.82" stroke="#dcdcdc" stroke-width="0.6"/>
<line x1="220.86" y1="436.95" x2="218.93" y2="652.63" stroke="#dcdcdc" stroke-width="0.6"/>
<line x1="261.16" y1="441.68" x2="257.37" y2="668.24" stroke="#dcdcdc" stroke-width="0.6"/>
<line x1="65.1" y1="515.42" x2="178.7" y2="507.59" stroke="#dcdcdc" stroke-width="0.6"/>
<line x1="178.7" y1="507.59" x2="270.81" y2="527.95" stroke="#dcdcdc" stroke-width="0.6"/>
<line x1="65.84" y1="597.86" x2="178.7" y2="587.27" stroke="#dcdcdc" stroke-width="0.6"/>
<line x1="178.7" y1="587.27" x2="269.13" y2="617.5" stroke="#dcdcdc" stroke-width="0.6"/>
<line x1="178.7" y1="432" x2="178.7" y2="636.3" stroke="#333" stroke-width="1" stroke-dasharray="3,2"/>
<line x1="66.3" y1="648.6" x2="178.7" y2="636.3" stroke="#333" stroke-width="1" stroke-dasharray="3,2"/>
<line x1="178.7" y1="636.3" x2="268.1" y2="672.6" stroke="#333" stroke-width="1" stroke-dasharray="3,2"/>
<linearGradient id="grain" gradientUnits="userSpaceOnUse" x1="0" y1="441" x2="0" y2="615"><stop offset="0" stop-color="#f01e1e"/><stop offset="0.06" stop-color="#ff3010"/><stop offset="0.14" stop-color="#ff7a00"/><stop offset="0.22" stop-color="#ffc800"/><stop offset="0.28" stop-color="#e8ea00"/><stop offset="0.34" stop-color="#9cf000"/><stop offset="0.41" stop-color="#10e820"/><stop offset="0.47" stop-color="#00ea80"/><stop offset="0.53" stop-color="#00e8d8"/><stop offset="0.58" stop-color="#00e0ff"/><stop offset="0.64" stop-color="#0098ff"/><stop offset="0.72" stop-color="#2050ff"/><stop offset="0.8" stop-color="#5a28ff"/><stop offset="0.89" stop-color="#8200ff"/><stop offset="1" stop-color="#8a10f0"/></linearGradient>
<linearGradient id="gcb" x1="0" x2="1" y1="0" y2="0"><stop offset="0" stop-color="#8000ff"/><stop offset="0.12" stop-color="#4010ff"/><stop offset="0.22" stop-color="#0030ff"/><stop offset="0.33" stop-color="#0090ff"/><stop offset="0.45" stop-color="#00f0ff"/><stop offset="0.55" stop-color="#00e060"/><stop offset="0.6" stop-color="#20e000"/><stop offset="0.72" stop-color="#f0f000"/><stop offset="0.8" stop-color="#ffb000"/><stop offset="0.9" stop-color="#ff5000"/><stop offset="1" stop-color="#ff0000"/></linearGradient>
<path d="M85.6,652.9 L176.9,639.4 L247.3,670.4 L149.5,686.9Z" fill="#8a10ff"/>
<filter id="bl06"><feGaussianBlur stdDeviation="0.6"/></filter>
<path d="M122.1,671.2 C122.35,670.84 123.27,669.09 124,668.5 C124.73,667.91 124.2,667.27 127.6,666.8 C131,666.33 142.69,665.64 149.5,665 C156.31,664.36 171.17,662.88 178.7,662 C186.23,661.12 201.63,658.64 206,658.4 C210.37,658.16 210.27,658.99 211.5,660.2 C212.73,661.41 215.2,666.03 215.2,667.5 C215.2,668.97 215.39,670.47 211.5,671.2 C207.61,671.93 194.27,672.52 186,673 C177.73,673.48 157.29,674.56 149.5,674.8 C141.71,675.04 131.11,674.97 127.6,674.8 C124.09,674.63 123.93,673.98 123.2,673.5 C122.47,673.02 122.25,671.51 122.1,671.2Z" fill="#2a50ff" filter="url(#bl06)"/>
<path d="M127.34,670.84 C127.58,670.5 128.43,668.86 129.11,668.3 C129.79,667.75 129.3,667.14 132.46,666.7 C135.62,666.27 146.49,665.61 152.82,665.01 C159.16,664.41 172.97,663.02 179.98,662.19 C186.99,661.36 201.3,659.03 205.37,658.8 C209.44,658.58 209.34,659.36 210.49,660.5 C211.63,661.64 213.93,665.98 213.93,667.36 C213.93,668.74 214.11,670.15 210.49,670.84 C206.86,671.53 194.46,672.08 186.77,672.54 C179.08,672.99 160.07,674 152.82,674.23 C145.58,674.45 135.72,674.39 132.46,674.23 C129.2,674.07 129.05,673.46 128.37,673.01 C127.68,672.55 127.48,671.13 127.34,670.84Z" fill="#00b8ff" filter="url(#bl06)"/>
<path d="M134.08,670.38 C134.3,670.07 135.06,668.56 135.68,668.05 C136.3,667.54 135.85,666.99 138.7,666.58 C141.56,666.18 151.38,665.58 157.1,665.03 C162.82,664.47 175.3,663.2 181.63,662.44 C187.96,661.67 200.89,659.53 204.56,659.32 C208.23,659.12 208.15,659.83 209.18,660.88 C210.21,661.93 212.29,665.92 212.29,667.19 C212.29,668.45 212.45,669.75 209.18,670.38 C205.91,671.02 194.7,671.52 187.76,671.94 C180.82,672.35 163.64,673.29 157.1,673.49 C150.56,673.7 141.65,673.64 138.7,673.49 C135.76,673.34 135.62,672.79 135.01,672.37 C134.39,671.96 134.21,670.65 134.08,670.38Z" fill="#00e0a0" filter="url(#bl06)"/>
<path d="M141.57,669.87 C141.76,669.59 142.44,668.23 142.98,667.77 C143.52,667.31 143.13,666.81 145.64,666.45 C148.16,666.08 156.81,665.54 161.85,665.04 C166.89,664.55 177.88,663.39 183.46,662.71 C189.03,662.02 200.42,660.09 203.66,659.9 C206.9,659.72 206.82,660.36 207.73,661.31 C208.64,662.25 210.47,665.85 210.47,666.99 C210.47,668.13 210.61,669.3 207.73,669.87 C204.85,670.45 194.98,670.9 188.86,671.28 C182.74,671.65 167.61,672.49 161.85,672.68 C156.09,672.87 148.24,672.81 145.64,672.68 C143.05,672.54 142.93,672.04 142.39,671.67 C141.85,671.29 141.68,670.11 141.57,669.87Z" fill="#30e000" filter="url(#bl06)"/>
<path d="M150.56,669.26 C150.72,669.02 151.29,667.83 151.74,667.43 C152.19,667.04 151.86,666.6 153.97,666.28 C156.08,665.97 163.33,665.5 167.55,665.06 C171.77,664.63 180.98,663.63 185.65,663.03 C190.32,662.44 199.87,660.76 202.58,660.6 C205.29,660.43 205.23,660.99 205.99,661.82 C206.75,662.64 208.28,665.76 208.28,666.76 C208.28,667.75 208.4,668.77 205.99,669.26 C203.58,669.76 195.31,670.16 190.18,670.48 C185.05,670.81 172.38,671.54 167.55,671.7 C162.72,671.86 156.15,671.82 153.97,671.7 C151.8,671.58 151.7,671.14 151.24,670.82 C150.79,670.49 150.65,669.47 150.56,669.26Z" fill="#d8ec00" filter="url(#bl06)"/>
<path d="M159.55,668.65 C159.68,668.44 160.13,667.43 160.5,667.1 C160.87,666.76 160.6,666.39 162.3,666.12 C164,665.85 169.84,665.45 173.25,665.09 C176.66,664.72 184.08,663.87 187.85,663.36 C191.62,662.85 199.31,661.43 201.5,661.29 C203.69,661.15 203.64,661.63 204.25,662.33 C204.86,663.02 206.1,665.68 206.1,666.52 C206.1,667.37 206.2,668.23 204.25,668.65 C202.3,669.07 195.63,669.41 191.5,669.69 C187.37,669.96 177.14,670.58 173.25,670.72 C169.36,670.86 164.05,670.82 162.3,670.72 C160.55,670.62 160.47,670.25 160.1,669.97 C159.73,669.7 159.62,668.83 159.55,668.65Z" fill="#ffb000" filter="url(#bl06)"/>
<path d="M169.29,667.99 C169.38,667.82 169.72,667.01 169.99,666.73 C170.26,666.46 170.06,666.16 171.32,665.94 C172.58,665.73 176.9,665.4 179.43,665.11 C181.95,664.81 187.44,664.12 190.23,663.71 C193.02,663.3 198.71,662.15 200.33,662.04 C201.95,661.93 201.91,662.31 202.37,662.88 C202.82,663.44 203.73,665.59 203.73,666.27 C203.73,666.95 203.81,667.65 202.37,667.99 C200.92,668.33 195.99,668.6 192.93,668.82 C189.87,669.05 182.31,669.55 179.43,669.66 C176.54,669.77 172.62,669.74 171.32,669.66 C170.02,669.58 169.97,669.28 169.69,669.06 C169.42,668.83 169.34,668.13 169.29,667.99Z" fill="#ff5000" filter="url(#bl06)"/>
<path d="M178.28,667.38 C178.34,667.24 178.57,666.61 178.75,666.4 C178.93,666.18 178.8,665.95 179.65,665.78 C180.5,665.61 183.42,665.36 185.12,665.13 C186.83,664.9 190.54,664.36 192.43,664.04 C194.31,663.72 198.16,662.82 199.25,662.74 C200.34,662.65 200.32,662.95 200.62,663.39 C200.93,663.83 201.55,665.5 201.55,666.03 C201.55,666.57 201.6,667.11 200.62,667.38 C199.65,667.64 196.32,667.85 194.25,668.03 C192.18,668.2 187.07,668.59 185.12,668.68 C183.18,668.77 180.53,668.74 179.65,668.68 C178.77,668.62 178.73,668.38 178.55,668.21 C178.37,668.03 178.31,667.49 178.28,667.38Z" fill="#ff1800" filter="url(#bl06)"/>
<path d="M84.6,596.3 L100,594.5 L110,593.5 L121.5,591.5 L122.6,570 L128.4,546.8 L132.8,517.6 L137.2,497 L143,488.4 L151.8,482.6 L160.5,478.2 L166.4,472.3 L172.2,466.5 L179.5,459.2 L186.8,450.4 L192.5,443 L195,441.1 L198.5,444 L200.5,449 L202.5,459.2 L204.5,485 L207,517.6 L210,546.8 L213,572 L216,590.4 L218.9,594.8 L233.5,599.2 L246.6,608 L218.9,609.4 L201.4,613.8 L181,619.6 L163.4,624 L145.9,622.6 L135.7,619.6 L132.8,606.5 L122.6,608 L99.2,602.1 L84.6,597.7Z" fill="url(#grain)"/>
<clipPath id="clipmt"><path d="M84.6,596.3 L100,594.5 L110,593.5 L121.5,591.5 L122.6,570 L128.4,546.8 L132.8,517.6 L137.2,497 L143,488.4 L151.8,482.6 L160.5,478.2 L166.4,472.3 L172.2,466.5 L179.5,459.2 L186.8,450.4 L192.5,443 L195,441.1 L198.5,444 L200.5,449 L202.5,459.2 L204.5,485 L207,517.6 L210,546.8 L213,572 L216,590.4 L218.9,594.8 L233.5,599.2 L246.6,608 L218.9,609.4 L201.4,613.8 L181,619.6 L163.4,624 L145.9,622.6 L135.7,619.6 L132.8,606.5 L122.6,608 L99.2,602.1 L84.6,597.7Z"/></clipPath>
<g clip-path="url(#clipmt)"><path d="M120,604 Q150,598 218.9,593.5 L250,606 L250,630 L120,630 Z" fill="#7a10f0" opacity="0.35"/><path d="M134.32,600.91 L134.62,618.51 M136.17,603.22 L136.47,615.66 M138.26,603.04 L138.56,612.37 M140.73,600.42 L141.03,612.91 M142.82,604.96 L143.12,613.24 M144.72,603.76 L145.02,621.48 M147.18,602.38 L147.48,621.76 M148.75,605.15 L149.05,614.9 M150.94,600.71 L151.24,615.08 M153.72,601.08 L154.02,617.82 M155.64,602.23 L155.94,617.48 M157.16,600.36 L157.46,614.06 M159.88,602.57 L160.18,615.14 M161.89,602.72 L162.19,614.85 M164.19,604.19 L164.49,614.11 M166.07,603.15 L166.37,620.27 M168.33,601.73 L168.63,621.14 M169.82,602.51 L170.12,618.79 M171.95,602.93 L172.25,611.44 M174.57,604.59 L174.87,616.56 M176.88,601.88 L177.18,617.6 M178.69,603.48 L178.99,615.07 M181.04,605.67 L181.34,615.06 M182.96,600.36 L183.26,617.18 M185.05,605.96 L185.35,618.22 M186.78,602.31 L187.08,616.54 M188.62,602.77 L188.92,611.39 M190.82,600.35 L191.12,617.22 M192.93,601.49 L193.23,613.28 M195.77,600.48 L196.07,613.63 M197.55,605.3 L197.85,617.19 M199.96,601.67 L200.26,612.96 M201.56,605.31 L201.86,618.25 M203.45,601.06 L203.75,610.84 M205.63,602.91 L205.93,614.24 M207.76,600.02 L208.06,612.37 M209.97,603.4 L210.27,617.53 M212.39,603.09 L212.69,613.98 M214.48,600.32 L214.78,616.64 M216.68,605.25 L216.98,615.44 " fill="none" stroke="#6a08d8" stroke-width="0.7" opacity="0.55"/></g>
<path d="M90.4,599.12 L92,595.12 L93.6,599.12 Z M96.4,599.24 L98,592.24 L99.6,599.24 Z M102.4,599.36 L104,594.36 L105.6,599.36 Z M106.4,599.44 L108,588.44 L109.6,599.44 Z M110.4,599.52 L112,593.52 L113.6,599.52 Z M114.4,599.6 L116,591.6 L117.6,599.6 Z M223.4,602.25 L225,597.25 L226.6,602.25 Z M230.4,604 L232,597 L233.6,604 Z M236.4,605.5 L238,601.5 L239.6,605.5 Z M240.4,606.5 L242,600.5 L243.6,606.5 Z " fill="#8a18f8"/>
<path d="M64.4,437.2 L178.7,432 L272.4,443" fill="none" stroke="#1a1a1a" stroke-width="1.1"/>
<line x1="64.4" y1="437.2" x2="66.3" y2="648.6" stroke="#1a1a1a" stroke-width="1.1"/>
<line x1="272.4" y1="443" x2="268.1" y2="672.6" stroke="#1a1a1a" stroke-width="1.1"/>
<path d="M66.3,648.6 L145.8,693 L268.1,672.6" fill="none" stroke="#1a1a1a" stroke-width="1.3"/>
<line x1="59.95" y1="442.9" x2="64.45" y2="442.9" stroke="#1a1a1a" stroke-width="0.9"/>
<text x="54.85" y="447.4" font-size="10" text-anchor="end" fill="#111">250</text>
<line x1="60.65" y1="521" x2="65.15" y2="521" stroke="#1a1a1a" stroke-width="0.9"/>
<text x="55.55" y="525.5" font-size="10" text-anchor="end" fill="#111">125</text>
<line x1="61.33" y1="596.6" x2="65.83" y2="596.6" stroke="#1a1a1a" stroke-width="0.9"/>
<text x="56.23" y="601.1" font-size="10" text-anchor="end" fill="#111">0</text>
<text x="32.3" y="558" font-size="10.2" text-anchor="middle" fill="#111" transform="rotate(-90 32.3 558)">Intensity (a.u.)</text>
<line x1="72.66" y1="652.15" x2="69.66" y2="652.65" stroke="#1a1a1a" stroke-width="0.9"/>
<line x1="102.08" y1="668.58" x2="99.08" y2="669.08" stroke="#1a1a1a" stroke-width="0.9"/>
<line x1="131.49" y1="685.01" x2="128.49" y2="685.51" stroke="#1a1a1a" stroke-width="0.9"/>
<text x="56.8" y="661.6" font-size="10" text-anchor="middle" fill="#111">200</text>
<text x="87.6" y="680.4" font-size="10" text-anchor="middle" fill="#111">400</text>
<text x="117.8" y="699.6" font-size="10" text-anchor="middle" fill="#111">600</text>
<text x="74.7" y="694" font-size="10.2" text-anchor="middle" fill="#111" transform="rotate(36 74.7 694)">Em (nm)</text>
<line x1="160.48" y1="690.55" x2="160.98" y2="693.55" stroke="#1a1a1a" stroke-width="0.9"/>
<line x1="213.07" y1="681.78" x2="213.57" y2="684.78" stroke="#1a1a1a" stroke-width="0.9"/>
<line x1="258.32" y1="674.23" x2="258.82" y2="677.23" stroke="#1a1a1a" stroke-width="0.9"/>
<text x="168.6" y="704.8" font-size="10" text-anchor="middle" fill="#111">200</text>
<text x="213.4" y="697.4" font-size="10" text-anchor="middle" fill="#111">300</text>
<text x="255.4" y="689.6" font-size="10" text-anchor="middle" fill="#111">400</text>
<text x="219" y="710" font-size="10.2" text-anchor="middle" fill="#111" transform="rotate(-11 219 710)">Ex (nm)</text>
<rect x="83.2" y="441.2" width="67" height="15.2" fill="url(#gcb)"/>
<text x="81.7" y="472.2" font-size="10" fill="#111">0</text>
<text x="153.2" y="472.2" font-size="10" text-anchor="end" fill="#111">250</text>
<text x="314.2" y="436.2" font-size="16.5" font-weight="bold" fill="#000">f</text>
<rect x="355.1" y="432.7" width="328.5" height="265.1" fill="none" stroke="#222" stroke-width="1.5"/>
<line x1="368.2" y1="697.8" x2="368.2" y2="702.8" stroke="#222" stroke-width="1.2"/>
<line x1="401.87" y1="697.8" x2="401.87" y2="700.8" stroke="#222" stroke-width="1.2"/>
<line x1="435.53" y1="697.8" x2="435.53" y2="700.8" stroke="#222" stroke-width="1.2"/>
<line x1="469.2" y1="697.8" x2="469.2" y2="702.8" stroke="#222" stroke-width="1.2"/>
<line x1="502.87" y1="697.8" x2="502.87" y2="700.8" stroke="#222" stroke-width="1.2"/>
<line x1="536.53" y1="697.8" x2="536.53" y2="700.8" stroke="#222" stroke-width="1.2"/>
<line x1="570.2" y1="697.8" x2="570.2" y2="702.8" stroke="#222" stroke-width="1.2"/>
<line x1="603.87" y1="697.8" x2="603.87" y2="700.8" stroke="#222" stroke-width="1.2"/>
<line x1="637.53" y1="697.8" x2="637.53" y2="700.8" stroke="#222" stroke-width="1.2"/>
<line x1="671.2" y1="697.8" x2="671.2" y2="702.8" stroke="#222" stroke-width="1.2"/>
<text x="368.2" y="715" font-size="10" text-anchor="middle" fill="#111">0</text>
<text x="469.2" y="715" font-size="10" text-anchor="middle" fill="#111">150</text>
<text x="570.2" y="715" font-size="10" text-anchor="middle" fill="#111">300</text>
<text x="671.2" y="715" font-size="10" text-anchor="middle" fill="#111">450</text>
<line x1="352.6" y1="697.8" x2="355.1" y2="697.8" stroke="#222" stroke-width="1.2"/>
<line x1="351.1" y1="671.3" x2="355.1" y2="671.3" stroke="#222" stroke-width="1.2"/>
<line x1="352.6" y1="644.8" x2="355.1" y2="644.8" stroke="#222" stroke-width="1.2"/>
<line x1="351.1" y1="618.3" x2="355.1" y2="618.3" stroke="#222" stroke-width="1.2"/>
<line x1="352.6" y1="591.8" x2="355.1" y2="591.8" stroke="#222" stroke-width="1.2"/>
<line x1="351.1" y1="565.3" x2="355.1" y2="565.3" stroke="#222" stroke-width="1.2"/>
<line x1="352.6" y1="538.8" x2="355.1" y2="538.8" stroke="#222" stroke-width="1.2"/>
<line x1="351.1" y1="512.3" x2="355.1" y2="512.3" stroke="#222" stroke-width="1.2"/>
<line x1="352.6" y1="485.8" x2="355.1" y2="485.8" stroke="#222" stroke-width="1.2"/>
<line x1="351.1" y1="459.3" x2="355.1" y2="459.3" stroke="#222" stroke-width="1.2"/>
<line x1="352.6" y1="432.8" x2="355.1" y2="432.8" stroke="#222" stroke-width="1.2"/>
<text x="345.5" y="674.9" font-size="10" text-anchor="end" fill="#111">20</text>
<text x="345.5" y="621.9" font-size="10" text-anchor="end" fill="#111">30</text>
<text x="345.5" y="568.9" font-size="10" text-anchor="end" fill="#111">40</text>
<text x="345.5" y="515.9" font-size="10" text-anchor="end" fill="#111">50</text>
<text x="345.5" y="462.9" font-size="10" text-anchor="end" fill="#111">60</text>
<text x="323.8" y="565" font-size="10.2" text-anchor="middle" fill="#111" transform="rotate(-90 323.8 565)">Percentage of XYZ(%)</text>
<text x="520" y="730.5" font-size="10.2" text-anchor="middle" fill="#111">Glucose (mg/dL)</text>
<filter id="glow"><feGaussianBlur stdDeviation="0.7"/></filter>
<radialGradient id="gnavy" cx="0.5" cy="0.5" r="0.7"><stop offset="0" stop-color="#030330"/><stop offset="1" stop-color="#080850"/></radialGradient>
<filter id="glow2" x="-50%" y="-50%" width="200%" height="200%"><feGaussianBlur stdDeviation="1.0"/></filter>
<rect x="357.5" y="513.3" width="54.4" height="54.3" fill="#000000"/>
<radialGradient id="gsq0" cx="0.5" cy="0.45" r="0.7"><stop offset="0" stop-color="#a8ecfb"/><stop offset="1" stop-color="#5cc8f0"/></radialGradient>
<rect x="367.9" y="521.8" width="33.6" height="34.1" fill="url(#gsq0)" filter="url(#glow)"/>
<rect x="357.5" y="570.8" width="54.4" height="53.9" fill="url(#gnavy)"/>
<rect x="358" y="571.3" width="53.4" height="52.9" fill="none" stroke="#2a2ad0" stroke-width="0.8" opacity="0.35"/>
<circle cx="366.7" cy="580" r="4.7" fill="none" stroke="#2626ff" stroke-width="2.7" filter="url(#glow2)"/>
<circle cx="366.7" cy="616.4" r="4.7" fill="none" stroke="#2626ff" stroke-width="2.7" filter="url(#glow2)"/>
<circle cx="403.5" cy="580" r="4.7" fill="none" stroke="#2626ff" stroke-width="2.7" filter="url(#glow2)"/>
<circle cx="403.5" cy="616.4" r="4.7" fill="none" stroke="#2626ff" stroke-width="2.7" filter="url(#glow2)"/>
<rect x="425.2" y="513.3" width="54.3" height="54.3" fill="#000000"/>
<radialGradient id="gsq1" cx="0.5" cy="0.45" r="0.7"><stop offset="0" stop-color="#78cdf6"/><stop offset="1" stop-color="#3aa6ea"/></radialGradient>
<rect x="436.2" y="522.9" width="33.2" height="33.6" fill="url(#gsq1)" filter="url(#glow)"/>
<rect x="425.2" y="570.8" width="54.3" height="53.9" fill="url(#gnavy)"/>
<rect x="425.7" y="571.3" width="53.3" height="52.9" fill="none" stroke="#2a2ad0" stroke-width="0.8" opacity="0.35"/>
<circle cx="434.4" cy="580" r="4.7" fill="none" stroke="#2626ff" stroke-width="2.7" filter="url(#glow2)"/>
<circle cx="434.4" cy="616.4" r="4.7" fill="none" stroke="#2626ff" stroke-width="2.7" filter="url(#glow2)"/>
<circle cx="471.1" cy="580" r="4.7" fill="none" stroke="#2626ff" stroke-width="2.7" filter="url(#glow2)"/>
<circle cx="471.1" cy="616.4" r="4.7" fill="none" stroke="#2626ff" stroke-width="2.7" filter="url(#glow2)"/>
<rect x="493.2" y="513.3" width="54.2" height="54.3" fill="#000000"/>
<radialGradient id="gsq2" cx="0.5" cy="0.45" r="0.7"><stop offset="0" stop-color="#3c82ea"/><stop offset="1" stop-color="#1f5ad8"/></radialGradient>
<rect x="504" y="523.6" width="33.6" height="32.2" fill="url(#gsq2)" filter="url(#glow)"/>
<rect x="493.2" y="570.8" width="54.2" height="53.9" fill="url(#gnavy)"/>
<rect x="493.7" y="571.3" width="53.2" height="52.9" fill="none" stroke="#2a2ad0" stroke-width="0.8" opacity="0.35"/>
<circle cx="502.4" cy="580" r="4.7" fill="none" stroke="#2626ff" stroke-width="2.7" filter="url(#glow2)"/>
<circle cx="502.4" cy="616.4" r="4.7" fill="none" stroke="#2626ff" stroke-width="2.7" filter="url(#glow2)"/>
<circle cx="539" cy="580" r="4.7" fill="none" stroke="#2626ff" stroke-width="2.7" filter="url(#glow2)"/>
<circle cx="539" cy="616.4" r="4.7" fill="none" stroke="#2626ff" stroke-width="2.7" filter="url(#glow2)"/>
<rect x="561.2" y="513.3" width="54.1" height="54.3" fill="#000000"/>
<radialGradient id="gsq3" cx="0.5" cy="0.45" r="0.7"><stop offset="0" stop-color="#4a96f0"/><stop offset="1" stop-color="#276ee2"/></radialGradient>
<rect x="571" y="523" width="33.7" height="33" fill="url(#gsq3)" filter="url(#glow)"/>
<rect x="561.2" y="570.8" width="54.1" height="53.9" fill="url(#gnavy)"/>
<rect x="561.7" y="571.3" width="53.1" height="52.9" fill="none" stroke="#2a2ad0" stroke-width="0.8" opacity="0.35"/>
<circle cx="570.4" cy="580" r="4.7" fill="none" stroke="#2626ff" stroke-width="2.7" filter="url(#glow2)"/>
<circle cx="570.4" cy="616.4" r="4.7" fill="none" stroke="#2626ff" stroke-width="2.7" filter="url(#glow2)"/>
<circle cx="606.9" cy="580" r="4.7" fill="none" stroke="#2626ff" stroke-width="2.7" filter="url(#glow2)"/>
<circle cx="606.9" cy="616.4" r="4.7" fill="none" stroke="#2626ff" stroke-width="2.7" filter="url(#glow2)"/>
<rect x="628.8" y="513.3" width="54.2" height="54.3" fill="#000000"/>
<radialGradient id="gsq4" cx="0.5" cy="0.45" r="0.7"><stop offset="0" stop-color="#1e40c8"/><stop offset="1" stop-color="#1530b0"/></radialGradient>
<rect x="641.2" y="522.5" width="33" height="32" fill="url(#gsq4)" filter="url(#glow)"/>
<rect x="628.8" y="570.8" width="54.2" height="53.9" fill="url(#gnavy)"/>
<rect x="629.3" y="571.3" width="53.2" height="52.9" fill="none" stroke="#2a2ad0" stroke-width="0.8" opacity="0.35"/>
<circle cx="638" cy="580" r="4.7" fill="none" stroke="#2626ff" stroke-width="2.7" filter="url(#glow2)"/>
<circle cx="638" cy="616.4" r="4.7" fill="none" stroke="#2626ff" stroke-width="2.7" filter="url(#glow2)"/>
<circle cx="674.6" cy="580" r="4.7" fill="none" stroke="#2626ff" stroke-width="2.7" filter="url(#glow2)"/>
<circle cx="674.6" cy="616.4" r="4.7" fill="none" stroke="#2626ff" stroke-width="2.7" filter="url(#glow2)"/>
<line x1="661.6" y1="560.8" x2="679.2" y2="560.8" stroke="#ffffff" stroke-width="1.3"/>
<line x1="661.6" y1="616.3" x2="679.2" y2="616.3" stroke="#ffffff" stroke-width="1.3"/>
<text x="400.5" y="482.5" font-size="10" text-anchor="middle" fill="#222">60.7</text>
<text x="663.8" y="490.9" font-size="10" text-anchor="middle" fill="#222">52.4</text>
<text x="516.5" y="503.6" font-size="9.6" text-anchor="middle" fill="#222">13.7%</text>
<line x1="421.2" y1="477.5" x2="617.5" y2="501.6" stroke="#1f9fe3" stroke-width="1.4"/>
<path d="M609.8,497.2 L618.6,501.8 L609.4,505.0" fill="none" stroke="#1f9fe3" stroke-width="1.4"/>
<text x="416.9" y="637.9" font-size="10" text-anchor="middle" fill="#222">Low glucose</text>
<text x="614.9" y="637.9" font-size="10" text-anchor="middle" fill="#222">High glucose</text>
<line x1="455" y1="634.7" x2="571.5" y2="634.7" stroke="#4a4040" stroke-width="1.1"/>
<path d="M460.5,631.3 L454.2,634.7 L460.5,638.1 M566,631.3 L572.3,634.7 L566,638.1" fill="none" stroke="#4a4040" stroke-width="1.1"/>
<path d="M368.2,448.7 L401.87,458.77 L435.53,466.19 L469.2,471.49 L502.87,473.61 L536.53,477.85 L570.2,482.62 L603.87,487.39 L637.53,494.28 L671.2,498.52" fill="none" stroke="#8ed2f7" stroke-width="1.3"/><path d="M364.1,451.3 L372.3,451.3 L368.2,444.8Z" fill="#8ed2f7"/><path d="M397.77,461.37 L405.97,461.37 L401.87,454.87Z" fill="#8ed2f7"/><path d="M431.43,468.79 L439.63,468.79 L435.53,462.29Z" fill="#8ed2f7"/><path d="M465.1,474.09 L473.3,474.09 L469.2,467.59Z" fill="#8ed2f7"/><path d="M498.77,476.21 L506.97,476.21 L502.87,469.71Z" fill="#8ed2f7"/><path d="M532.43,480.45 L540.63,480.45 L536.53,473.95Z" fill="#8ed2f7"/><path d="M566.1,485.22 L574.3,485.22 L570.2,478.72Z" fill="#8ed2f7"/><path d="M599.77,489.99 L607.97,489.99 L603.87,483.49Z" fill="#8ed2f7"/><path d="M633.43,496.88 L641.63,496.88 L637.53,490.38Z" fill="#8ed2f7"/><path d="M667.1,501.12 L675.3,501.12 L671.2,494.62Z" fill="#8ed2f7"/>
<path d="M368.2,672.36 L401.87,663.62 L435.53,661.76 L469.2,658.58 L502.87,655.66 L536.53,650.63 L570.2,649.04 L603.87,649.04 L637.53,649.04 L671.2,645.86" fill="none" stroke="#f8a0a0" stroke-width="1.3"/><rect x="365.1" y="669.06" width="6.2" height="6.6" fill="#f8a0a0"/><rect x="398.77" y="660.32" width="6.2" height="6.6" fill="#f8a0a0"/><rect x="432.43" y="658.46" width="6.2" height="6.6" fill="#f8a0a0"/><rect x="466.1" y="655.28" width="6.2" height="6.6" fill="#f8a0a0"/><rect x="499.77" y="652.37" width="6.2" height="6.6" fill="#f8a0a0"/><rect x="533.43" y="647.33" width="6.2" height="6.6" fill="#f8a0a0"/><rect x="567.1" y="645.74" width="6.2" height="6.6" fill="#f8a0a0"/><rect x="600.77" y="645.74" width="6.2" height="6.6" fill="#f8a0a0"/><rect x="634.43" y="645.74" width="6.2" height="6.6" fill="#f8a0a0"/><rect x="668.1" y="642.56" width="6.2" height="6.6" fill="#f8a0a0"/>
<path d="M368.2,680.2 L401.87,679.89 L435.53,673.95 L469.2,672.89 L502.87,673.42 L536.53,672.89 L570.2,669.18 L603.87,662.82 L637.53,660.7 L671.2,653.81" fill="none" stroke="#b6ea88" stroke-width="1.3"/><circle cx="368.2" cy="680.2" r="3.3" fill="#b6ea88"/><circle cx="401.87" cy="679.89" r="3.3" fill="#b6ea88"/><circle cx="435.53" cy="673.95" r="3.3" fill="#b6ea88"/><circle cx="469.2" cy="672.89" r="3.3" fill="#b6ea88"/><circle cx="502.87" cy="673.42" r="3.3" fill="#b6ea88"/><circle cx="536.53" cy="672.89" r="3.3" fill="#b6ea88"/><circle cx="570.2" cy="669.18" r="3.3" fill="#b6ea88"/><circle cx="603.87" cy="662.82" r="3.3" fill="#b6ea88"/><circle cx="637.53" cy="660.7" r="3.3" fill="#b6ea88"/><circle cx="671.2" cy="653.81" r="3.3" fill="#b6ea88"/>
<line x1="368.2" y1="451.51" x2="671.2" y2="498.68" stroke="#1428e6" stroke-width="2" stroke-dasharray="5.5,4"/>
<line x1="368.2" y1="666.21" x2="671.2" y2="644" stroke="#d40a14" stroke-width="2" stroke-dasharray="5.5,4.5"/>
<line x1="368.2" y1="683.28" x2="671.2" y2="657.2" stroke="#8ed84a" stroke-width="2" stroke-dasharray="5.5,4.5"/>
<line x1="368.2" y1="445.2" x2="368.2" y2="452.2" stroke="#111" stroke-width="1.4"/><line x1="364.9" y1="445.2" x2="371.5" y2="445.2" stroke="#111" stroke-width="1.5"/><line x1="364.9" y1="452.2" x2="371.5" y2="452.2" stroke="#111" stroke-width="1.5"/><line x1="401.87" y1="451.77" x2="401.87" y2="465.77" stroke="#111" stroke-width="1.4"/><line x1="398.57" y1="451.77" x2="405.17" y2="451.77" stroke="#111" stroke-width="1.5"/><line x1="398.57" y1="465.77" x2="405.17" y2="465.77" stroke="#111" stroke-width="1.5"/><line x1="435.53" y1="460.89" x2="435.53" y2="471.49" stroke="#111" stroke-width="1.4"/><line x1="432.23" y1="460.89" x2="438.83" y2="460.89" stroke="#111" stroke-width="1.5"/><line x1="432.23" y1="471.49" x2="438.83" y2="471.49" stroke="#111" stroke-width="1.5"/><line x1="469.2" y1="467.25" x2="469.2" y2="475.73" stroke="#111" stroke-width="1.4"/><line x1="465.9" y1="467.25" x2="472.5" y2="467.25" stroke="#111" stroke-width="1.5"/><line x1="465.9" y1="475.73" x2="472.5" y2="475.73" stroke="#111" stroke-width="1.5"/><line x1="502.87" y1="469.9" x2="502.87" y2="477.32" stroke="#111" stroke-width="1.4"/><line x1="499.57" y1="469.9" x2="506.17" y2="469.9" stroke="#111" stroke-width="1.5"/><line x1="499.57" y1="477.32" x2="506.17" y2="477.32" stroke="#111" stroke-width="1.5"/><line x1="536.53" y1="475.2" x2="536.53" y2="480.5" stroke="#111" stroke-width="1.4"/><line x1="533.23" y1="475.2" x2="539.83" y2="475.2" stroke="#111" stroke-width="1.5"/><line x1="533.23" y1="480.5" x2="539.83" y2="480.5" stroke="#111" stroke-width="1.5"/><line x1="570.2" y1="481.03" x2="570.2" y2="484.21" stroke="#111" stroke-width="1.4"/><line x1="566.9" y1="481.03" x2="573.5" y2="481.03" stroke="#111" stroke-width="1.5"/><line x1="566.9" y1="484.21" x2="573.5" y2="484.21" stroke="#111" stroke-width="1.5"/><line x1="603.87" y1="485.27" x2="603.87" y2="489.51" stroke="#111" stroke-width="1.4"/><line x1="600.57" y1="485.27" x2="607.17" y2="485.27" stroke="#111" stroke-width="1.5"/><line x1="600.57" y1="489.51" x2="607.17" y2="489.51" stroke="#111" stroke-width="1.5"/><line x1="637.53" y1="492.16" x2="637.53" y2="496.4" stroke="#111" stroke-width="1.4"/><line x1="634.23" y1="492.16" x2="640.83" y2="492.16" stroke="#111" stroke-width="1.5"/><line x1="634.23" y1="496.4" x2="640.83" y2="496.4" stroke="#111" stroke-width="1.5"/><line x1="671.2" y1="495.87" x2="671.2" y2="501.17" stroke="#111" stroke-width="1.4"/><line x1="667.9" y1="495.87" x2="674.5" y2="495.87" stroke="#111" stroke-width="1.5"/><line x1="667.9" y1="501.17" x2="674.5" y2="501.17" stroke="#111" stroke-width="1.5"/>
<line x1="368.2" y1="668.23" x2="368.2" y2="676.49" stroke="#111" stroke-width="1.4"/><line x1="364.9" y1="668.23" x2="371.5" y2="668.23" stroke="#111" stroke-width="1.5"/><line x1="364.9" y1="676.49" x2="371.5" y2="676.49" stroke="#111" stroke-width="1.5"/><line x1="401.87" y1="658.84" x2="401.87" y2="668.38" stroke="#111" stroke-width="1.4"/><line x1="398.57" y1="658.84" x2="405.17" y2="658.84" stroke="#111" stroke-width="1.5"/><line x1="398.57" y1="668.38" x2="405.17" y2="668.38" stroke="#111" stroke-width="1.5"/><line x1="435.53" y1="656.46" x2="435.53" y2="667.06" stroke="#111" stroke-width="1.4"/><line x1="432.23" y1="656.46" x2="438.83" y2="656.46" stroke="#111" stroke-width="1.5"/><line x1="432.23" y1="667.06" x2="438.83" y2="667.06" stroke="#111" stroke-width="1.5"/><line x1="469.2" y1="654.87" x2="469.2" y2="662.29" stroke="#111" stroke-width="1.4"/><line x1="465.9" y1="654.87" x2="472.5" y2="654.87" stroke="#111" stroke-width="1.5"/><line x1="465.9" y1="662.29" x2="472.5" y2="662.29" stroke="#111" stroke-width="1.5"/><line x1="502.87" y1="650.37" x2="502.87" y2="660.96" stroke="#111" stroke-width="1.4"/><line x1="499.57" y1="650.37" x2="506.17" y2="650.37" stroke="#111" stroke-width="1.5"/><line x1="499.57" y1="660.96" x2="506.17" y2="660.96" stroke="#111" stroke-width="1.5"/><line x1="536.53" y1="647.98" x2="536.53" y2="653.28" stroke="#111" stroke-width="1.4"/><line x1="533.23" y1="647.98" x2="539.83" y2="647.98" stroke="#111" stroke-width="1.5"/><line x1="533.23" y1="653.28" x2="539.83" y2="653.28" stroke="#111" stroke-width="1.5"/><line x1="570.2" y1="645.86" x2="570.2" y2="652.22" stroke="#111" stroke-width="1.4"/><line x1="566.9" y1="645.86" x2="573.5" y2="645.86" stroke="#111" stroke-width="1.5"/><line x1="566.9" y1="652.22" x2="573.5" y2="652.22" stroke="#111" stroke-width="1.5"/><line x1="603.87" y1="646.39" x2="603.87" y2="651.69" stroke="#111" stroke-width="1.4"/><line x1="600.57" y1="646.39" x2="607.17" y2="646.39" stroke="#111" stroke-width="1.5"/><line x1="600.57" y1="651.69" x2="607.17" y2="651.69" stroke="#111" stroke-width="1.5"/><line x1="637.53" y1="645.86" x2="637.53" y2="652.22" stroke="#111" stroke-width="1.4"/><line x1="634.23" y1="645.86" x2="640.83" y2="645.86" stroke="#111" stroke-width="1.5"/><line x1="634.23" y1="652.22" x2="640.83" y2="652.22" stroke="#111" stroke-width="1.5"/><line x1="671.2" y1="638.97" x2="671.2" y2="652.75" stroke="#111" stroke-width="1.4"/><line x1="667.9" y1="638.97" x2="674.5" y2="638.97" stroke="#111" stroke-width="1.5"/><line x1="667.9" y1="652.75" x2="674.5" y2="652.75" stroke="#111" stroke-width="1.5"/>
<line x1="368.2" y1="678.61" x2="368.2" y2="681.79" stroke="#111" stroke-width="1.4"/><line x1="364.9" y1="678.61" x2="371.5" y2="678.61" stroke="#111" stroke-width="1.5"/><line x1="364.9" y1="681.79" x2="371.5" y2="681.79" stroke="#111" stroke-width="1.5"/><line x1="401.87" y1="677.77" x2="401.87" y2="682.01" stroke="#111" stroke-width="1.4"/><line x1="398.57" y1="677.77" x2="405.17" y2="677.77" stroke="#111" stroke-width="1.5"/><line x1="398.57" y1="682.01" x2="405.17" y2="682.01" stroke="#111" stroke-width="1.5"/><line x1="435.53" y1="672.89" x2="435.53" y2="675.01" stroke="#111" stroke-width="1.4"/><line x1="432.23" y1="672.89" x2="438.83" y2="672.89" stroke="#111" stroke-width="1.5"/><line x1="432.23" y1="675.01" x2="438.83" y2="675.01" stroke="#111" stroke-width="1.5"/><line x1="469.2" y1="672.09" x2="469.2" y2="673.68" stroke="#111" stroke-width="1.4"/><line x1="465.9" y1="672.09" x2="472.5" y2="672.09" stroke="#111" stroke-width="1.5"/><line x1="465.9" y1="673.68" x2="472.5" y2="673.68" stroke="#111" stroke-width="1.5"/><line x1="502.87" y1="672.62" x2="502.87" y2="674.21" stroke="#111" stroke-width="1.4"/><line x1="499.57" y1="672.62" x2="506.17" y2="672.62" stroke="#111" stroke-width="1.5"/><line x1="499.57" y1="674.21" x2="506.17" y2="674.21" stroke="#111" stroke-width="1.5"/><line x1="536.53" y1="671.83" x2="536.53" y2="673.95" stroke="#111" stroke-width="1.4"/><line x1="533.23" y1="671.83" x2="539.83" y2="671.83" stroke="#111" stroke-width="1.5"/><line x1="533.23" y1="673.95" x2="539.83" y2="673.95" stroke="#111" stroke-width="1.5"/><line x1="570.2" y1="667.32" x2="570.2" y2="671.03" stroke="#111" stroke-width="1.4"/><line x1="566.9" y1="667.32" x2="573.5" y2="667.32" stroke="#111" stroke-width="1.5"/><line x1="566.9" y1="671.03" x2="573.5" y2="671.03" stroke="#111" stroke-width="1.5"/><line x1="603.87" y1="660.7" x2="603.87" y2="664.94" stroke="#111" stroke-width="1.4"/><line x1="600.57" y1="660.7" x2="607.17" y2="660.7" stroke="#111" stroke-width="1.5"/><line x1="600.57" y1="664.94" x2="607.17" y2="664.94" stroke="#111" stroke-width="1.5"/><line x1="637.53" y1="654.34" x2="637.53" y2="667.06" stroke="#111" stroke-width="1.4"/><line x1="634.23" y1="654.34" x2="640.83" y2="654.34" stroke="#111" stroke-width="1.5"/><line x1="634.23" y1="667.06" x2="640.83" y2="667.06" stroke="#111" stroke-width="1.5"/><line x1="671.2" y1="649.57" x2="671.2" y2="658.05" stroke="#111" stroke-width="1.4"/><line x1="667.9" y1="649.57" x2="674.5" y2="649.57" stroke="#111" stroke-width="1.5"/><line x1="667.9" y1="658.05" x2="674.5" y2="658.05" stroke="#111" stroke-width="1.5"/>
<line x1="541" y1="447.2" x2="569" y2="447.2" stroke="#f8a0a0" stroke-width="1.4"/>
<rect x="552" y="444.1" width="6.2" height="6.2" fill="#f8a0a0"/>
<text x="574" y="450.5" font-size="9.8" fill="#111">X</text>
<line x1="589.5" y1="447.2" x2="617" y2="447.2" stroke="#b6ea88" stroke-width="1.4"/>
<circle cx="603.2" cy="447.2" r="3.3" fill="#b6ea88"/>
<text x="621.6" y="450.5" font-size="9.8" fill="#111">Y</text>
<line x1="636.2" y1="447.2" x2="663" y2="447.2" stroke="#8ed2f7" stroke-width="1.4"/>
<path d="M645.5,450 L653.7,450 L649.6,443.3Z" fill="#8ed2f7"/>
<text x="666.6" y="450.5" font-size="9.8" fill="#111">Z</text>
<text x="-0.8" y="763.2" font-size="16.5" font-weight="bold" fill="#000">g</text>
<clipPath id="clipg"><rect x="40.4" y="772.9" width="180.3" height="144.2"/></clipPath>
<g clip-path="url(#clipg)">
<path d="M40.4,915.15 C40.52,915.05 40.88,914.73 41.12,914.52 C41.36,914.32 41.6,914.11 41.84,913.92 C42.08,913.72 42.32,913.52 42.56,913.34 C42.8,913.15 43.04,912.96 43.28,912.79 C43.52,912.61 43.76,912.44 44,912.27 C44.25,912.1 44.49,911.93 44.73,911.76 C44.97,911.58 45.21,911.41 45.45,911.24 C45.69,911.06 45.93,910.89 46.17,910.73 C46.41,910.58 46.65,910.42 46.89,910.28 C47.13,910.15 47.37,910.02 47.61,909.91 C47.85,909.81 48.09,909.73 48.33,909.65 C48.57,909.57 48.81,909.52 49.05,909.46 C49.29,909.4 49.53,909.35 49.77,909.3 C50.01,909.25 50.25,909.2 50.49,909.16 C50.73,909.12 50.97,909.09 51.21,909.06 C51.46,909.03 51.7,909.01 51.94,909 C52.18,908.98 52.42,908.97 52.66,908.95 C52.9,908.94 53.14,908.92 53.38,908.91 C53.62,908.9 53.86,908.88 54.1,908.87 C54.34,908.86 54.58,908.85 54.82,908.83 C55.06,908.82 55.3,908.81 55.54,908.8 C55.78,908.79 56.02,908.78 56.26,908.77 C56.5,908.76 56.74,908.75 56.98,908.74 C57.22,908.73 57.46,908.72 57.7,908.71 C57.94,908.71 58.18,908.7 58.42,908.69 C58.67,908.68 58.91,908.68 59.15,908.67 C59.39,908.66 59.63,908.66 59.87,908.65 C60.11,908.65 60.35,908.64 60.59,908.64 C60.83,908.63 61.07,908.63 61.31,908.62 C61.55,908.62 61.79,908.62 62.03,908.61 C62.27,908.61 62.51,908.61 62.75,908.61 C62.99,908.61 63.23,908.6 63.47,908.6 C63.71,908.6 63.95,908.56 64.19,908.6 C64.43,908.65 64.67,908.71 64.91,908.87 C65.15,909.02 65.39,909.27 65.63,909.51 C65.88,909.75 66.12,910.01 66.36,910.31 C66.6,910.6 66.84,911.25 67.08,911.3 C67.32,911.36 67.56,911.11 67.8,910.65 C68.04,910.19 68.28,909.31 68.52,908.54 C68.76,907.77 69,906.93 69.24,906.04 C69.48,905.15 69.72,904.19 69.96,903.19 C70.2,902.19 70.44,901.13 70.68,900.03 C70.92,898.93 71.16,897.81 71.4,896.6 C71.64,895.39 71.88,894.19 72.12,892.75 C72.36,891.32 72.6,889.69 72.84,887.98 C73.09,886.27 73.33,884.39 73.57,882.5 C73.81,880.6 74.05,878.59 74.29,876.6 C74.53,874.61 74.77,872.56 75.01,870.58 C75.25,868.6 75.49,866.63 75.73,864.72 C75.97,862.81 76.21,861.01 76.45,859.12 C76.69,857.22 76.93,855.27 77.17,853.33 C77.41,851.39 77.65,849.4 77.89,847.45 C78.13,845.5 78.37,843.54 78.61,841.63 C78.85,839.72 79.09,837.83 79.33,836.01 C79.57,834.19 79.81,832.42 80.06,830.74 C80.3,829.06 80.54,827.5 80.78,825.93 C81.02,824.35 81.26,822.82 81.5,821.31 C81.74,819.8 81.98,818.3 82.22,816.86 C82.46,815.41 82.7,813.99 82.94,812.63 C83.18,811.27 83.42,809.96 83.66,808.71 C83.9,807.47 84.14,806.28 84.38,805.17 C84.62,804.06 84.86,803.07 85.1,802.06 C85.34,801.04 85.58,800.07 85.82,799.1 C86.06,798.14 86.3,797.17 86.54,796.27 C86.78,795.36 87.02,794.47 87.26,793.66 C87.51,792.85 87.75,792.08 87.99,791.4 C88.23,790.72 88.47,790.09 88.71,789.58 C88.95,789.06 89.19,788.68 89.43,788.31 C89.67,787.93 89.91,787.61 90.15,787.31 C90.39,787 90.63,786.71 90.87,786.49 C91.11,786.26 91.35,786.06 91.59,785.96 C91.83,785.87 92.07,785.86 92.31,785.9 C92.55,785.94 92.79,786.07 93.03,786.21 C93.27,786.35 93.51,786.45 93.75,786.72 C93.99,786.99 94.23,787.38 94.47,787.82 C94.72,788.26 94.96,788.81 95.2,789.35 C95.44,789.89 95.68,790.43 95.92,791.06 C96.16,791.69 96.4,792.4 96.64,793.16 C96.88,793.91 97.12,794.74 97.36,795.59 C97.6,796.44 97.84,797.35 98.08,798.26 C98.32,799.18 98.56,800.13 98.8,801.07 C99.04,802.01 99.28,802.98 99.52,803.92 C99.76,804.86 100,805.76 100.24,806.7 C100.48,807.65 100.72,808.58 100.96,809.56 C101.2,810.55 101.44,811.58 101.69,812.61 C101.93,813.65 102.17,814.71 102.41,815.76 C102.65,816.8 102.89,817.86 103.13,818.88 C103.37,819.9 103.61,820.92 103.85,821.88 C104.09,822.84 104.33,823.78 104.57,824.65 C104.81,825.52 105.05,826.32 105.29,827.1 C105.53,827.87 105.77,828.6 106.01,829.31 C106.25,830.02 106.49,830.71 106.73,831.37 C106.97,832.04 107.21,832.69 107.45,833.33 C107.69,833.97 107.93,834.59 108.17,835.22 C108.41,835.84 108.65,836.46 108.9,837.08 C109.14,837.7 109.38,838.33 109.62,838.96 C109.86,839.58 110.1,840.22 110.34,840.84 C110.58,841.46 110.82,842.07 111.06,842.67 C111.3,843.28 111.54,843.87 111.78,844.47 C112.02,845.07 112.26,845.66 112.5,846.26 C112.74,846.85 112.98,847.45 113.22,848.06 C113.46,848.67 113.7,849.28 113.94,849.91 C114.18,850.53 114.42,851.17 114.66,851.82 C114.9,852.47 115.14,853.14 115.38,853.82 C115.62,854.5 115.86,855.19 116.1,855.89 C116.35,856.59 116.59,857.3 116.83,858.01 C117.07,858.71 117.31,859.43 117.55,860.13 C117.79,860.84 118.03,861.55 118.27,862.25 C118.51,862.95 118.75,863.64 118.99,864.32 C119.23,865 119.47,865.66 119.71,866.34 C119.95,867.01 120.19,867.69 120.43,868.38 C120.67,869.06 120.91,869.74 121.15,870.42 C121.39,871.11 121.63,871.79 121.87,872.47 C122.11,873.14 122.35,873.82 122.59,874.48 C122.83,875.14 123.07,875.8 123.31,876.44 C123.56,877.08 123.8,877.72 124.04,878.33 C124.28,878.94 124.52,879.55 124.76,880.12 C125,880.7 125.24,881.26 125.48,881.8 C125.72,882.35 125.96,882.86 126.2,883.38 C126.44,883.9 126.68,884.43 126.92,884.94 C127.16,885.46 127.4,885.97 127.64,886.47 C127.88,886.97 128.12,887.47 128.36,887.95 C128.6,888.43 128.84,888.91 129.08,889.36 C129.32,889.82 129.56,890.26 129.8,890.68 C130.04,891.1 130.28,891.51 130.53,891.89 C130.77,892.27 131.01,892.64 131.25,892.97 C131.49,893.3 131.73,893.61 131.97,893.9 C132.21,894.18 132.45,894.44 132.69,894.68 C132.93,894.93 133.17,895.16 133.41,895.38 C133.65,895.61 133.89,895.82 134.13,896.02 C134.37,896.22 134.61,896.41 134.85,896.6 C135.09,896.79 135.33,896.96 135.57,897.14 C135.81,897.32 136.05,897.49 136.29,897.66 C136.53,897.83 136.77,898 137.01,898.17 C137.25,898.35 137.49,898.52 137.73,898.69 C137.98,898.87 138.22,899.05 138.46,899.24 C138.7,899.42 138.94,899.62 139.18,899.81 C139.42,900 139.66,900.19 139.9,900.38 C140.14,900.57 140.38,900.76 140.62,900.95 C140.86,901.14 141.1,901.33 141.34,901.52 C141.58,901.71 141.82,901.9 142.06,902.08 C142.3,902.27 142.54,902.45 142.78,902.63 C143.02,902.8 143.26,902.98 143.5,903.15 C143.74,903.32 143.98,903.49 144.22,903.65 C144.46,903.82 144.7,903.97 144.94,904.12 C145.19,904.28 145.43,904.42 145.67,904.56 C145.91,904.71 146.15,904.85 146.39,904.99 C146.63,905.13 146.87,905.27 147.11,905.41 C147.35,905.55 147.59,905.68 147.83,905.81 C148.07,905.95 148.31,906.08 148.55,906.21 C148.79,906.34 149.03,906.47 149.27,906.59 C149.51,906.72 149.75,906.84 149.99,906.96 C150.23,907.08 150.47,907.2 150.71,907.32 C150.95,907.44 151.19,907.55 151.43,907.66 C151.67,907.78 151.91,907.89 152.16,908 C152.4,908.1 152.64,908.21 152.88,908.31 C153.12,908.42 153.36,908.52 153.6,908.62 C153.84,908.72 154.08,908.81 154.32,908.91 C154.56,909 154.8,909.09 155.04,909.18 C155.28,909.28 155.52,909.36 155.76,909.45 C156,909.54 156.24,909.63 156.48,909.71 C156.72,909.8 156.96,909.88 157.2,909.97 C157.44,910.05 157.68,910.13 157.92,910.21 C158.16,910.29 158.4,910.37 158.64,910.45 C158.88,910.53 159.12,910.61 159.36,910.68 C159.61,910.76 159.85,910.83 160.09,910.9 C160.33,910.98 160.57,911.05 160.81,911.12 C161.05,911.19 161.29,911.25 161.53,911.32 C161.77,911.39 162.01,911.45 162.25,911.51 C162.49,911.58 162.73,911.64 162.97,911.7 C163.21,911.76 163.45,911.82 163.69,911.87 C163.93,911.93 164.17,911.98 164.41,912.04 C164.65,912.09 164.89,912.14 165.13,912.2 C165.37,912.25 165.61,912.3 165.85,912.35 C166.09,912.4 166.33,912.45 166.57,912.5 C166.82,912.55 167.06,912.6 167.3,912.65 C167.54,912.7 167.78,912.74 168.02,912.79 C168.26,912.84 168.5,912.88 168.74,912.92 C168.98,912.97 169.22,913.01 169.46,913.05 C169.7,913.1 169.94,913.14 170.18,913.18 C170.42,913.22 170.66,913.26 170.9,913.3 C171.14,913.33 171.38,913.37 171.62,913.4 C171.86,913.44 172.1,913.47 172.34,913.51 C172.58,913.54 172.82,913.57 173.06,913.6 C173.3,913.63 173.54,913.66 173.78,913.69 C174.03,913.72 174.27,913.74 174.51,913.77 C174.75,913.79 174.99,913.82 175.23,913.84 C175.47,913.87 175.71,913.89 175.95,913.92 C176.19,913.94 176.43,913.96 176.67,913.99 C176.91,914.01 177.15,914.03 177.39,914.06 C177.63,914.08 177.87,914.1 178.11,914.12 C178.35,914.15 178.59,914.17 178.83,914.19 C179.07,914.21 179.31,914.23 179.55,914.25 C179.79,914.27 180.03,914.29 180.27,914.31 C180.51,914.34 180.75,914.35 181,914.37 C181.24,914.39 181.48,914.41 181.72,914.43 C181.96,914.45 182.2,914.47 182.44,914.49 C182.68,914.51 182.92,914.52 183.16,914.54 C183.4,914.56 183.64,914.58 183.88,914.6 C184.12,914.61 184.36,914.63 184.6,914.65 C184.84,914.66 185.08,914.68 185.32,914.7 C185.56,914.71 185.8,914.73 186.04,914.74 C186.28,914.76 186.52,914.77 186.76,914.79 C187,914.8 187.24,914.82 187.48,914.83 C187.72,914.85 187.96,914.86 188.21,914.88 C188.45,914.89 188.69,914.91 188.93,914.92 C189.17,914.93 189.41,914.95 189.65,914.96 C189.89,914.97 190.13,914.99 190.37,915 C190.61,915.01 190.85,915.02 191.09,915.04 C191.33,915.05 191.57,915.06 191.81,915.07 C192.05,915.08 192.29,915.1 192.53,915.11 C192.77,915.12 193.01,915.13 193.25,915.14 C193.49,915.15 193.73,915.16 193.97,915.18 C194.21,915.19 194.45,915.2 194.69,915.21 C194.93,915.22 195.17,915.23 195.41,915.24 C195.66,915.25 195.9,915.26 196.14,915.27 C196.38,915.28 196.62,915.29 196.86,915.3 C197.1,915.31 197.34,915.32 197.58,915.33 C197.82,915.34 198.06,915.35 198.3,915.36 C198.54,915.37 198.78,915.38 199.02,915.39 C199.26,915.4 199.5,915.41 199.74,915.42 C199.98,915.43 200.22,915.44 200.46,915.45 C200.7,915.46 200.94,915.47 201.18,915.48 C201.42,915.49 201.66,915.49 201.9,915.5 C202.14,915.51 202.38,915.52 202.62,915.53 C202.87,915.54 203.11,915.55 203.35,915.55 C203.59,915.56 203.83,915.57 204.07,915.58 C204.31,915.59 204.55,915.59 204.79,915.6 C205.03,915.61 205.27,915.62 205.51,915.62 C205.75,915.63 205.99,915.64 206.23,915.65 C206.47,915.65 206.71,915.66 206.95,915.67 C207.19,915.67 207.43,915.68 207.67,915.69 C207.91,915.69 208.15,915.7 208.39,915.71 C208.63,915.71 208.87,915.72 209.11,915.73 C209.35,915.73 209.59,915.74 209.84,915.74 C210.08,915.75 210.32,915.75 210.56,915.76 C210.8,915.76 211.04,915.77 211.28,915.77 C211.52,915.78 211.76,915.78 212,915.79 C212.24,915.79 212.48,915.8 212.72,915.8 C212.96,915.81 213.2,915.81 213.44,915.82 C213.68,915.82 213.92,915.82 214.16,915.83 C214.4,915.83 214.64,915.84 214.88,915.84 C215.12,915.85 215.36,915.85 215.6,915.85 C215.84,915.86 216.08,915.86 216.32,915.87 C216.56,915.87 216.8,915.87 217.04,915.88 C217.29,915.88 217.53,915.89 217.77,915.89 C218.01,915.9 218.25,915.9 218.49,915.9 C218.73,915.91 218.97,915.91 219.21,915.92 C219.45,915.92 219.69,915.92 219.93,915.93 C220.17,915.93 220.53,915.94 220.65,915.94" fill="none" stroke="#4b4b4b" stroke-width="1.6"/>
<path d="M40.4,916.2 C40.52,916.2 40.88,916.2 41.12,916.2 C41.36,916.2 41.6,916.2 41.84,916.2 C42.08,916.2 42.32,916.2 42.56,916.2 C42.8,916.2 43.04,916.2 43.28,916.2 C43.52,916.2 43.76,916.2 44,916.2 C44.25,916.2 44.49,916.2 44.73,916.2 C44.97,916.2 45.21,916.2 45.45,916.2 C45.69,916.2 45.93,916.2 46.17,916.2 C46.41,916.2 46.65,916.2 46.89,916.2 C47.13,916.2 47.37,916.2 47.61,916.2 C47.85,916.2 48.09,916.2 48.33,916.2 C48.57,916.2 48.81,916.2 49.05,916.2 C49.29,916.2 49.53,916.2 49.77,916.2 C50.01,916.2 50.25,916.2 50.49,916.2 C50.73,916.2 50.97,916.2 51.21,916.2 C51.46,916.2 51.7,916.2 51.94,916.2 C52.18,916.2 52.42,916.2 52.66,916.2 C52.9,916.2 53.14,916.2 53.38,916.2 C53.62,916.2 53.86,916.2 54.1,916.2 C54.34,916.2 54.58,916.2 54.82,916.2 C55.06,916.2 55.3,916.2 55.54,916.2 C55.78,916.2 56.02,916.2 56.26,916.2 C56.5,916.2 56.74,916.2 56.98,916.2 C57.22,916.2 57.46,916.2 57.7,916.2 C57.94,916.2 58.18,916.2 58.42,916.2 C58.67,916.2 58.91,916.2 59.15,916.2 C59.39,916.2 59.63,916.2 59.87,916.2 C60.11,916.2 60.35,916.2 60.59,916.2 C60.83,916.2 61.07,916.2 61.31,916.2 C61.55,916.2 61.79,916.2 62.03,916.2 C62.27,916.2 62.51,916.27 62.75,916.2 C62.99,916.13 63.23,916.02 63.47,915.8 C63.71,915.57 63.95,915.21 64.19,914.83 C64.43,914.46 64.67,913.99 64.91,913.54 C65.15,913.08 65.39,912.62 65.63,912.12 C65.88,911.63 66.12,911.16 66.36,910.59 C66.6,910.02 66.84,909.39 67.08,908.71 C67.32,908.03 67.56,907.29 67.8,906.51 C68.04,905.73 68.28,904.9 68.52,904.03 C68.76,903.16 69,902.24 69.24,901.29 C69.48,900.33 69.72,899.34 69.96,898.32 C70.2,897.29 70.44,896.3 70.68,895.15 C70.92,894 71.16,892.8 71.4,891.44 C71.64,890.08 71.88,888.56 72.12,886.99 C72.36,885.42 72.6,883.73 72.84,882.02 C73.09,880.31 73.33,878.51 73.57,876.72 C73.81,874.94 74.05,873.1 74.29,871.32 C74.53,869.53 74.77,867.73 75.01,866 C75.25,864.28 75.49,862.65 75.73,860.96 C75.97,859.26 76.21,857.57 76.45,855.84 C76.69,854.11 76.93,852.34 77.17,850.59 C77.41,848.84 77.65,847.06 77.89,845.32 C78.13,843.57 78.37,841.83 78.61,840.13 C78.85,838.43 79.09,836.74 79.33,835.12 C79.57,833.5 79.81,831.91 80.06,830.4 C80.3,828.89 80.54,827.48 80.78,826.06 C81.02,824.64 81.26,823.27 81.5,821.9 C81.74,820.53 81.98,819.17 82.22,817.85 C82.46,816.53 82.7,815.23 82.94,813.97 C83.18,812.72 83.42,811.49 83.66,810.31 C83.9,809.14 84.14,808 84.38,806.92 C84.62,805.84 84.86,804.81 85.1,803.85 C85.34,802.88 85.58,802.01 85.82,801.11 C86.06,800.21 86.3,799.33 86.54,798.46 C86.78,797.59 87.02,796.73 87.26,795.91 C87.51,795.09 87.75,794.29 87.99,793.54 C88.23,792.79 88.47,792.07 88.71,791.42 C88.95,790.77 89.19,790.16 89.43,789.63 C89.67,789.1 89.91,788.64 90.15,788.25 C90.39,787.86 90.63,787.58 90.87,787.27 C91.11,786.97 91.35,786.67 91.59,786.42 C91.83,786.16 92.07,785.91 92.31,785.73 C92.55,785.54 92.79,785.37 93.03,785.29 C93.27,785.21 93.51,785.2 93.75,785.25 C93.99,785.31 94.23,785.44 94.47,785.61 C94.72,785.77 94.96,785.91 95.2,786.24 C95.44,786.57 95.68,787.07 95.92,787.58 C96.16,788.09 96.4,788.68 96.64,789.3 C96.88,789.93 97.12,790.57 97.36,791.31 C97.6,792.06 97.84,792.9 98.08,793.78 C98.32,794.65 98.56,795.61 98.8,796.57 C99.04,797.54 99.28,798.57 99.52,799.58 C99.76,800.6 100,801.65 100.24,802.67 C100.48,803.69 100.72,804.7 100.96,805.71 C101.2,806.73 101.44,807.72 101.69,808.79 C101.93,809.85 102.17,810.97 102.41,812.09 C102.65,813.21 102.89,814.37 103.13,815.5 C103.37,816.64 103.61,817.79 103.85,818.89 C104.09,819.99 104.33,821.08 104.57,822.1 C104.81,823.12 105.05,824.11 105.29,825.02 C105.53,825.92 105.77,826.75 106.01,827.56 C106.25,828.37 106.49,829.14 106.73,829.89 C106.97,830.64 107.21,831.35 107.45,832.06 C107.69,832.77 107.93,833.45 108.17,834.13 C108.41,834.82 108.65,835.48 108.9,836.16 C109.14,836.83 109.38,837.51 109.62,838.19 C109.86,838.87 110.1,839.57 110.34,840.24 C110.58,840.91 110.82,841.57 111.06,842.23 C111.3,842.89 111.54,843.53 111.78,844.18 C112.02,844.83 112.26,845.47 112.5,846.12 C112.74,846.77 112.98,847.42 113.22,848.08 C113.46,848.75 113.7,849.42 113.94,850.1 C114.18,850.79 114.42,851.49 114.66,852.21 C114.9,852.93 115.14,853.67 115.38,854.42 C115.62,855.16 115.86,855.93 116.1,856.69 C116.35,857.45 116.59,858.23 116.83,859 C117.07,859.77 117.31,860.54 117.55,861.3 C117.79,862.06 118.03,862.82 118.27,863.57 C118.51,864.31 118.75,865.03 118.99,865.76 C119.23,866.5 119.47,867.23 119.71,867.97 C119.95,868.71 120.19,869.45 120.43,870.19 C120.67,870.93 120.91,871.68 121.15,872.41 C121.39,873.14 121.63,873.87 121.87,874.59 C122.11,875.3 122.35,876.01 122.59,876.7 C122.83,877.39 123.07,878.07 123.31,878.73 C123.56,879.38 123.8,880.02 124.04,880.63 C124.28,881.24 124.52,881.82 124.76,882.4 C125,882.97 125.24,883.53 125.48,884.1 C125.72,884.66 125.96,885.22 126.2,885.77 C126.44,886.32 126.68,886.87 126.92,887.4 C127.16,887.93 127.4,888.45 127.64,888.95 C127.88,889.45 128.12,889.94 128.36,890.4 C128.6,890.86 128.84,891.31 129.08,891.72 C129.32,892.14 129.56,892.53 129.8,892.89 C130.04,893.25 130.28,893.58 130.53,893.89 C130.77,894.19 131.01,894.46 131.25,894.72 C131.49,894.99 131.73,895.23 131.97,895.46 C132.21,895.7 132.45,895.92 132.69,896.13 C132.93,896.34 133.17,896.55 133.41,896.74 C133.65,896.94 133.89,897.13 134.13,897.32 C134.37,897.51 134.61,897.69 134.85,897.88 C135.09,898.06 135.33,898.25 135.57,898.44 C135.81,898.63 136.05,898.82 136.29,899.02 C136.53,899.22 136.77,899.43 137.01,899.63 C137.25,899.84 137.49,900.04 137.73,900.25 C137.98,900.46 138.22,900.67 138.46,900.87 C138.7,901.08 138.94,901.29 139.18,901.49 C139.42,901.7 139.66,901.9 139.9,902.1 C140.14,902.3 140.38,902.49 140.62,902.69 C140.86,902.88 141.1,903.07 141.34,903.25 C141.58,903.43 141.82,903.61 142.06,903.78 C142.3,903.95 142.54,904.12 142.78,904.28 C143.02,904.44 143.26,904.59 143.5,904.75 C143.74,904.9 143.98,905.05 144.22,905.2 C144.46,905.35 144.7,905.5 144.94,905.65 C145.19,905.79 145.43,905.94 145.67,906.08 C145.91,906.22 146.15,906.36 146.39,906.5 C146.63,906.63 146.87,906.77 147.11,906.9 C147.35,907.03 147.59,907.16 147.83,907.29 C148.07,907.42 148.31,907.54 148.55,907.66 C148.79,907.78 149.03,907.9 149.27,908.02 C149.51,908.14 149.75,908.25 149.99,908.36 C150.23,908.47 150.47,908.58 150.71,908.69 C150.95,908.79 151.19,908.89 151.43,909 C151.67,909.1 151.91,909.19 152.16,909.29 C152.4,909.39 152.64,909.48 152.88,909.58 C153.12,909.67 153.36,909.76 153.6,909.86 C153.84,909.95 154.08,910.04 154.32,910.13 C154.56,910.21 154.8,910.3 155.04,910.39 C155.28,910.47 155.52,910.55 155.76,910.64 C156,910.72 156.24,910.8 156.48,910.88 C156.72,910.96 156.96,911.03 157.2,911.11 C157.44,911.18 157.68,911.26 157.92,911.33 C158.16,911.4 158.4,911.47 158.64,911.54 C158.88,911.6 159.12,911.67 159.36,911.73 C159.61,911.8 159.85,911.86 160.09,911.92 C160.33,911.98 160.57,912.04 160.81,912.09 C161.05,912.15 161.29,912.21 161.53,912.26 C161.77,912.32 162.01,912.38 162.25,912.43 C162.49,912.48 162.73,912.54 162.97,912.59 C163.21,912.64 163.45,912.69 163.69,912.74 C163.93,912.79 164.17,912.84 164.41,912.89 C164.65,912.94 164.89,912.99 165.13,913.03 C165.37,913.08 165.61,913.12 165.85,913.17 C166.09,913.21 166.33,913.25 166.57,913.29 C166.82,913.33 167.06,913.37 167.3,913.41 C167.54,913.45 167.78,913.49 168.02,913.52 C168.26,913.56 168.5,913.59 168.74,913.62 C168.98,913.65 169.22,913.68 169.46,913.71 C169.7,913.74 169.94,913.77 170.18,913.79 C170.42,913.82 170.66,913.85 170.9,913.88 C171.14,913.9 171.38,913.93 171.62,913.95 C171.86,913.98 172.1,914 172.34,914.03 C172.58,914.05 172.82,914.08 173.06,914.1 C173.3,914.13 173.54,914.15 173.78,914.17 C174.03,914.2 174.27,914.22 174.51,914.24 C174.75,914.27 174.99,914.29 175.23,914.31 C175.47,914.33 175.71,914.35 175.95,914.37 C176.19,914.4 176.43,914.42 176.67,914.44 C176.91,914.46 177.15,914.48 177.39,914.5 C177.63,914.52 177.87,914.54 178.11,914.56 C178.35,914.57 178.59,914.59 178.83,914.61 C179.07,914.63 179.31,914.65 179.55,914.67 C179.79,914.68 180.03,914.7 180.27,914.72 C180.51,914.74 180.75,914.75 181,914.77 C181.24,914.79 181.48,914.8 181.72,914.82 C181.96,914.83 182.2,914.85 182.44,914.87 C182.68,914.88 182.92,914.9 183.16,914.91 C183.4,914.93 183.64,914.94 183.88,914.95 C184.12,914.97 184.36,914.98 184.6,915 C184.84,915.01 185.08,915.02 185.32,915.04 C185.56,915.05 185.8,915.06 186.04,915.08 C186.28,915.09 186.52,915.1 186.76,915.12 C187,915.13 187.24,915.14 187.48,915.15 C187.72,915.16 187.96,915.18 188.21,915.19 C188.45,915.2 188.69,915.21 188.93,915.22 C189.17,915.23 189.41,915.25 189.65,915.26 C189.89,915.27 190.13,915.28 190.37,915.29 C190.61,915.3 190.85,915.31 191.09,915.32 C191.33,915.34 191.57,915.35 191.81,915.36 C192.05,915.37 192.29,915.38 192.53,915.39 C192.77,915.4 193.01,915.41 193.25,915.42 C193.49,915.43 193.73,915.44 193.97,915.45 C194.21,915.46 194.45,915.47 194.69,915.48 C194.93,915.49 195.17,915.5 195.41,915.51 C195.66,915.52 195.9,915.53 196.14,915.54 C196.38,915.54 196.62,915.55 196.86,915.56 C197.1,915.57 197.34,915.58 197.58,915.59 C197.82,915.6 198.06,915.6 198.3,915.61 C198.54,915.62 198.78,915.63 199.02,915.64 C199.26,915.64 199.5,915.65 199.74,915.66 C199.98,915.67 200.22,915.68 200.46,915.68 C200.7,915.69 200.94,915.7 201.18,915.7 C201.42,915.71 201.66,915.72 201.9,915.72 C202.14,915.73 202.38,915.74 202.62,915.74 C202.87,915.75 203.11,915.75 203.35,915.76 C203.59,915.77 203.83,915.77 204.07,915.78 C204.31,915.78 204.55,915.79 204.79,915.79 C205.03,915.8 205.27,915.8 205.51,915.81 C205.75,915.81 205.99,915.82 206.23,915.82 C206.47,915.83 206.71,915.83 206.95,915.83 C207.19,915.84 207.43,915.84 207.67,915.85 C207.91,915.85 208.15,915.86 208.39,915.86 C208.63,915.87 208.87,915.87 209.11,915.88 C209.35,915.88 209.59,915.88 209.84,915.89 C210.08,915.89 210.32,915.9 210.56,915.9 C210.8,915.91 211.04,915.91 211.28,915.92 C211.52,915.92 211.76,915.92 212,915.93 C212.24,915.93 212.48,915.94 212.72,915.94 C212.96,915.95 213.2,915.95 213.44,915.95 C213.68,915.96 213.92,915.96 214.16,915.97 C214.4,915.97 214.64,915.97 214.88,915.98 C215.12,915.98 215.36,915.99 215.6,915.99 C215.84,915.99 216.08,916 216.32,916 C216.56,916.01 216.8,916.01 217.04,916.01 C217.29,916.02 217.53,916.02 217.77,916.03 C218.01,916.03 218.25,916.03 218.49,916.04 C218.73,916.04 218.97,916.04 219.21,916.05 C219.45,916.05 219.69,916.05 219.93,916.06 C220.17,916.06 220.53,916.07 220.65,916.07" fill="none" stroke="#e8333a" stroke-width="1.6"/>
<path d="M40.4,915.68 C40.52,915.6 40.88,915.36 41.12,915.21 C41.36,915.05 41.6,914.91 41.84,914.76 C42.08,914.62 42.32,914.48 42.56,914.35 C42.8,914.22 43.04,914.09 43.28,913.97 C43.52,913.85 43.76,913.73 44,913.62 C44.25,913.51 44.49,913.41 44.73,913.31 C44.97,913.22 45.21,913.13 45.45,913.04 C45.69,912.96 45.93,912.89 46.17,912.81 C46.41,912.74 46.65,912.66 46.89,912.59 C47.13,912.52 47.37,912.44 47.61,912.38 C47.85,912.31 48.09,912.25 48.33,912.2 C48.57,912.15 48.81,912.11 49.05,912.07 C49.29,912.04 49.53,912.02 49.77,912.01 C50.01,911.99 50.25,911.99 50.49,911.98 C50.73,911.97 50.97,911.96 51.21,911.96 C51.46,911.95 51.7,911.94 51.94,911.93 C52.18,911.92 52.42,911.92 52.66,911.91 C52.9,911.9 53.14,911.9 53.38,911.89 C53.62,911.88 53.86,911.88 54.1,911.87 C54.34,911.86 54.58,911.86 54.82,911.85 C55.06,911.85 55.3,911.84 55.54,911.84 C55.78,911.83 56.02,911.83 56.26,911.82 C56.5,911.82 56.74,911.81 56.98,911.81 C57.22,911.81 57.46,911.8 57.7,911.8 C57.94,911.79 58.18,911.79 58.42,911.79 C58.67,911.78 58.91,911.78 59.15,911.78 C59.39,911.78 59.63,911.77 59.87,911.77 C60.11,911.77 60.35,911.77 60.59,911.76 C60.83,911.76 61.07,911.76 61.31,911.76 C61.55,911.76 61.79,911.76 62.03,911.75 C62.27,911.75 62.51,911.75 62.75,911.75 C62.99,911.75 63.23,911.75 63.47,911.75 C63.71,911.75 63.95,911.75 64.19,911.75 C64.43,911.75 64.67,911.72 64.91,911.75 C65.15,911.78 65.39,911.82 65.63,911.93 C65.88,912.04 66.12,912.22 66.36,912.39 C66.6,912.57 66.84,912.79 67.08,912.99 C67.32,913.19 67.56,913.56 67.8,913.58 C68.04,913.6 68.28,913.49 68.52,913.14 C68.76,912.79 69,912.09 69.24,911.47 C69.48,910.85 69.72,910.18 69.96,909.42 C70.2,908.66 70.44,907.81 70.68,906.91 C70.92,906.01 71.16,905.03 71.4,904 C71.64,902.97 71.88,901.88 72.12,900.74 C72.36,899.6 72.6,898.44 72.84,897.17 C73.09,895.9 73.33,894.64 73.57,893.12 C73.81,891.6 74.05,889.85 74.29,888.04 C74.53,886.22 74.77,884.22 75.01,882.22 C75.25,880.21 75.49,878.08 75.73,876 C75.97,873.93 76.21,871.78 76.45,869.75 C76.69,867.72 76.93,865.78 77.17,863.8 C77.41,861.82 77.65,859.87 77.89,857.87 C78.13,855.86 78.37,853.8 78.61,851.76 C78.85,849.73 79.09,847.66 79.33,845.66 C79.57,843.65 79.81,841.64 80.06,839.72 C80.3,837.8 80.54,835.91 80.78,834.14 C81.02,832.36 81.26,830.71 81.5,829.06 C81.74,827.41 81.98,825.82 82.22,824.24 C82.46,822.67 82.7,821.1 82.94,819.6 C83.18,818.1 83.42,816.63 83.66,815.23 C83.9,813.82 84.14,812.47 84.38,811.2 C84.62,809.93 84.86,808.74 85.1,807.61 C85.34,806.49 85.58,805.49 85.82,804.46 C86.06,803.42 86.3,802.4 86.54,801.41 C86.78,800.43 87.02,799.46 87.26,798.56 C87.51,797.66 87.75,796.79 87.99,796.02 C88.23,795.25 88.47,794.54 88.71,793.94 C88.95,793.34 89.19,792.86 89.43,792.43 C89.67,792 89.91,791.69 90.15,791.37 C90.39,791.04 90.63,790.72 90.87,790.47 C91.11,790.23 91.35,790.01 91.59,789.9 C91.83,789.8 92.07,789.79 92.31,789.83 C92.55,789.87 92.79,790.01 93.03,790.15 C93.27,790.29 93.51,790.4 93.75,790.68 C93.99,790.96 94.23,791.38 94.47,791.83 C94.72,792.28 94.96,792.83 95.2,793.38 C95.44,793.93 95.68,794.48 95.92,795.13 C96.16,795.78 96.4,796.51 96.64,797.28 C96.88,798.06 97.12,798.9 97.36,799.77 C97.6,800.63 97.84,801.55 98.08,802.47 C98.32,803.39 98.56,804.35 98.8,805.29 C99.04,806.23 99.28,807.19 99.52,808.13 C99.76,809.06 100,809.94 100.24,810.89 C100.48,811.84 100.72,812.81 100.96,813.82 C101.2,814.82 101.44,815.87 101.69,816.91 C101.93,817.95 102.17,819.01 102.41,820.05 C102.65,821.08 102.89,822.13 103.13,823.13 C103.37,824.12 103.61,825.11 103.85,826.03 C104.09,826.95 104.33,827.82 104.57,828.64 C104.81,829.46 105.05,830.2 105.29,830.94 C105.53,831.68 105.77,832.38 106.01,833.06 C106.25,833.75 106.49,834.4 106.73,835.05 C106.97,835.7 107.21,836.33 107.45,836.96 C107.69,837.59 107.93,838.2 108.17,838.82 C108.41,839.44 108.65,840.06 108.9,840.68 C109.14,841.31 109.38,841.95 109.62,842.57 C109.86,843.19 110.1,843.81 110.34,844.41 C110.58,845.02 110.82,845.61 111.06,846.21 C111.3,846.81 111.54,847.4 111.78,847.99 C112.02,848.59 112.26,849.18 112.5,849.79 C112.74,850.39 112.98,851 113.22,851.62 C113.46,852.24 113.7,852.87 113.94,853.52 C114.18,854.17 114.42,854.83 114.66,855.5 C114.9,856.18 115.14,856.87 115.38,857.57 C115.62,858.26 115.86,858.97 116.1,859.67 C116.35,860.38 116.59,861.09 116.83,861.8 C117.07,862.5 117.31,863.21 117.55,863.91 C117.79,864.6 118.03,865.29 118.27,865.97 C118.51,866.65 118.75,867.31 118.99,867.98 C119.23,868.66 119.47,869.34 119.71,870.02 C119.95,870.7 120.19,871.38 120.43,872.06 C120.67,872.74 120.91,873.42 121.15,874.09 C121.39,874.77 121.63,875.44 121.87,876.09 C122.11,876.75 122.35,877.4 122.59,878.04 C122.83,878.67 123.07,879.3 123.31,879.9 C123.56,880.51 123.8,881.1 124.04,881.67 C124.28,882.23 124.52,882.77 124.76,883.3 C125,883.84 125.24,884.35 125.48,884.87 C125.72,885.39 125.96,885.91 126.2,886.42 C126.44,886.93 126.68,887.43 126.92,887.93 C127.16,888.42 127.4,888.91 127.64,889.38 C127.88,889.85 128.12,890.31 128.36,890.75 C128.6,891.19 128.84,891.62 129.08,892.02 C129.32,892.42 129.56,892.81 129.8,893.16 C130.04,893.52 130.28,893.86 130.53,894.16 C130.77,894.47 131.01,894.74 131.25,895.01 C131.49,895.27 131.73,895.51 131.97,895.74 C132.21,895.97 132.45,896.19 132.69,896.4 C132.93,896.61 133.17,896.8 133.41,896.99 C133.65,897.18 133.89,897.37 134.13,897.55 C134.37,897.72 134.61,897.9 134.85,898.07 C135.09,898.24 135.33,898.41 135.57,898.58 C135.81,898.75 136.05,898.92 136.29,899.1 C136.53,899.27 136.77,899.45 137.01,899.63 C137.25,899.82 137.49,900.01 137.73,900.2 C137.98,900.39 138.22,900.58 138.46,900.77 C138.7,900.96 138.94,901.15 139.18,901.34 C139.42,901.53 139.66,901.72 139.9,901.91 C140.14,902.1 140.38,902.28 140.62,902.47 C140.86,902.65 141.1,902.83 141.34,903.01 C141.58,903.19 141.82,903.37 142.06,903.54 C142.3,903.71 142.54,903.88 142.78,904.04 C143.02,904.2 143.26,904.36 143.5,904.51 C143.74,904.66 143.98,904.8 144.22,904.95 C144.46,905.09 144.7,905.23 144.94,905.37 C145.19,905.51 145.43,905.65 145.67,905.78 C145.91,905.92 146.15,906.06 146.39,906.19 C146.63,906.32 146.87,906.45 147.11,906.58 C147.35,906.71 147.59,906.83 147.83,906.96 C148.07,907.08 148.31,907.2 148.55,907.33 C148.79,907.45 149.03,907.56 149.27,907.68 C149.51,907.79 149.75,907.91 149.99,908.02 C150.23,908.13 150.47,908.24 150.71,908.35 C150.95,908.45 151.19,908.56 151.43,908.66 C151.67,908.76 151.91,908.86 152.16,908.96 C152.4,909.05 152.64,909.15 152.88,909.24 C153.12,909.33 153.36,909.42 153.6,909.51 C153.84,909.6 154.08,909.69 154.32,909.78 C154.56,909.86 154.8,909.95 155.04,910.03 C155.28,910.12 155.52,910.2 155.76,910.28 C156,910.36 156.24,910.45 156.48,910.52 C156.72,910.6 156.96,910.68 157.2,910.76 C157.44,910.83 157.68,910.91 157.92,910.98 C158.16,911.05 158.4,911.13 158.64,911.2 C158.88,911.27 159.12,911.34 159.36,911.4 C159.61,911.47 159.85,911.54 160.09,911.6 C160.33,911.66 160.57,911.73 160.81,911.79 C161.05,911.85 161.29,911.91 161.53,911.96 C161.77,912.02 162.01,912.08 162.25,912.13 C162.49,912.18 162.73,912.24 162.97,912.29 C163.21,912.34 163.45,912.39 163.69,912.44 C163.93,912.5 164.17,912.55 164.41,912.6 C164.65,912.64 164.89,912.69 165.13,912.74 C165.37,912.79 165.61,912.84 165.85,912.88 C166.09,912.93 166.33,912.97 166.57,913.02 C166.82,913.06 167.06,913.11 167.3,913.15 C167.54,913.19 167.78,913.23 168.02,913.27 C168.26,913.31 168.5,913.35 168.74,913.39 C168.98,913.42 169.22,913.46 169.46,913.5 C169.7,913.53 169.94,913.57 170.18,913.6 C170.42,913.63 170.66,913.66 170.9,913.69 C171.14,913.72 171.38,913.75 171.62,913.78 C171.86,913.8 172.1,913.83 172.34,913.85 C172.58,913.88 172.82,913.9 173.06,913.93 C173.3,913.95 173.54,913.98 173.78,914 C174.03,914.03 174.27,914.05 174.51,914.07 C174.75,914.1 174.99,914.12 175.23,914.14 C175.47,914.16 175.71,914.19 175.95,914.21 C176.19,914.23 176.43,914.25 176.67,914.27 C176.91,914.29 177.15,914.31 177.39,914.34 C177.63,914.36 177.87,914.38 178.11,914.4 C178.35,914.42 178.59,914.44 178.83,914.45 C179.07,914.47 179.31,914.49 179.55,914.51 C179.79,914.53 180.03,914.55 180.27,914.57 C180.51,914.58 180.75,914.6 181,914.62 C181.24,914.64 181.48,914.65 181.72,914.67 C181.96,914.69 182.2,914.7 182.44,914.72 C182.68,914.74 182.92,914.75 183.16,914.77 C183.4,914.79 183.64,914.8 183.88,914.82 C184.12,914.83 184.36,914.85 184.6,914.86 C184.84,914.88 185.08,914.89 185.32,914.9 C185.56,914.92 185.8,914.93 186.04,914.95 C186.28,914.96 186.52,914.97 186.76,914.99 C187,915 187.24,915.01 187.48,915.03 C187.72,915.04 187.96,915.05 188.21,915.06 C188.45,915.08 188.69,915.09 188.93,915.1 C189.17,915.11 189.41,915.13 189.65,915.14 C189.89,915.15 190.13,915.16 190.37,915.17 C190.61,915.18 190.85,915.19 191.09,915.2 C191.33,915.22 191.57,915.23 191.81,915.24 C192.05,915.25 192.29,915.26 192.53,915.27 C192.77,915.28 193.01,915.29 193.25,915.3 C193.49,915.31 193.73,915.32 193.97,915.33 C194.21,915.34 194.45,915.35 194.69,915.36 C194.93,915.37 195.17,915.38 195.41,915.39 C195.66,915.4 195.9,915.41 196.14,915.42 C196.38,915.43 196.62,915.44 196.86,915.45 C197.1,915.46 197.34,915.47 197.58,915.48 C197.82,915.49 198.06,915.49 198.3,915.5 C198.54,915.51 198.78,915.52 199.02,915.53 C199.26,915.54 199.5,915.55 199.74,915.56 C199.98,915.56 200.22,915.57 200.46,915.58 C200.7,915.59 200.94,915.6 201.18,915.6 C201.42,915.61 201.66,915.62 201.9,915.63 C202.14,915.63 202.38,915.64 202.62,915.65 C202.87,915.66 203.11,915.66 203.35,915.67 C203.59,915.68 203.83,915.69 204.07,915.69 C204.31,915.7 204.55,915.71 204.79,915.71 C205.03,915.72 205.27,915.72 205.51,915.73 C205.75,915.74 205.99,915.74 206.23,915.75 C206.47,915.75 206.71,915.76 206.95,915.77 C207.19,915.77 207.43,915.78 207.67,915.78 C207.91,915.79 208.15,915.79 208.39,915.8 C208.63,915.8 208.87,915.81 209.11,915.81 C209.35,915.82 209.59,915.82 209.84,915.82 C210.08,915.83 210.32,915.83 210.56,915.84 C210.8,915.84 211.04,915.84 211.28,915.85 C211.52,915.85 211.76,915.86 212,915.86 C212.24,915.87 212.48,915.87 212.72,915.87 C212.96,915.88 213.2,915.88 213.44,915.89 C213.68,915.89 213.92,915.89 214.16,915.9 C214.4,915.9 214.64,915.91 214.88,915.91 C215.12,915.91 215.36,915.92 215.6,915.92 C215.84,915.93 216.08,915.93 216.32,915.93 C216.56,915.94 216.8,915.94 217.04,915.95 C217.29,915.95 217.53,915.95 217.77,915.96 C218.01,915.96 218.25,915.97 218.49,915.97 C218.73,915.97 218.97,915.98 219.21,915.98 C219.45,915.99 219.69,915.99 219.93,915.99 C220.17,916 220.53,916 220.65,916" fill="none" stroke="#2f7fe0" stroke-width="1.6"/>
<path d="M40.4,916.2 C40.52,916.2 40.88,916.2 41.12,916.2 C41.36,916.2 41.6,916.2 41.84,916.2 C42.08,916.2 42.32,916.2 42.56,916.2 C42.8,916.2 43.04,916.2 43.28,916.2 C43.52,916.2 43.76,916.2 44,916.2 C44.25,916.2 44.49,916.2 44.73,916.2 C44.97,916.2 45.21,916.2 45.45,916.2 C45.69,916.2 45.93,916.2 46.17,916.2 C46.41,916.2 46.65,916.2 46.89,916.2 C47.13,916.2 47.37,916.2 47.61,916.2 C47.85,916.2 48.09,916.2 48.33,916.2 C48.57,916.2 48.81,916.2 49.05,916.2 C49.29,916.2 49.53,916.2 49.77,916.2 C50.01,916.2 50.25,916.2 50.49,916.2 C50.73,916.2 50.97,916.2 51.21,916.2 C51.46,916.2 51.7,916.2 51.94,916.2 C52.18,916.2 52.42,916.2 52.66,916.2 C52.9,916.2 53.14,916.2 53.38,916.2 C53.62,916.2 53.86,916.2 54.1,916.2 C54.34,916.2 54.58,916.2 54.82,916.2 C55.06,916.2 55.3,916.2 55.54,916.2 C55.78,916.2 56.02,916.2 56.26,916.2 C56.5,916.2 56.74,916.2 56.98,916.2 C57.22,916.2 57.46,916.2 57.7,916.2 C57.94,916.2 58.18,916.2 58.42,916.2 C58.67,916.2 58.91,916.2 59.15,916.2 C59.39,916.2 59.63,916.2 59.87,916.2 C60.11,916.2 60.35,916.2 60.59,916.2 C60.83,916.2 61.07,916.2 61.31,916.2 C61.55,916.2 61.79,916.2 62.03,916.2 C62.27,916.2 62.51,916.2 62.75,916.2 C62.99,916.2 63.23,916.22 63.47,916.2 C63.71,916.18 63.95,916.24 64.19,916.08 C64.43,915.92 64.67,915.62 64.91,915.25 C65.15,914.89 65.39,914.38 65.63,913.89 C65.88,913.4 66.12,912.87 66.36,912.32 C66.6,911.78 66.84,911.26 67.08,910.62 C67.32,909.99 67.56,909.28 67.8,908.5 C68.04,907.73 68.28,906.89 68.52,905.99 C68.76,905.09 69,904.13 69.24,903.12 C69.48,902.12 69.72,901.05 69.96,899.95 C70.2,898.84 70.44,897.72 70.68,896.5 C70.92,895.28 71.16,894.08 71.4,892.64 C71.64,891.19 71.88,889.55 72.12,887.83 C72.36,886.12 72.6,884.23 72.84,882.33 C73.09,880.42 73.33,878.4 73.57,876.4 C73.81,874.4 74.05,872.34 74.29,870.35 C74.53,868.36 74.77,866.38 75.01,864.46 C75.25,862.54 75.49,860.74 75.73,858.83 C75.97,856.92 76.21,854.97 76.45,853.01 C76.69,851.06 76.93,849.07 77.17,847.11 C77.41,845.15 77.65,843.17 77.89,841.26 C78.13,839.34 78.37,837.43 78.61,835.61 C78.85,833.78 79.09,832 79.33,830.31 C79.57,828.62 79.81,827.05 80.06,825.47 C80.3,823.89 80.54,822.35 80.78,820.83 C81.02,819.31 81.26,817.81 81.5,816.36 C81.74,814.9 81.98,813.48 82.22,812.11 C82.46,810.75 82.7,809.42 82.94,808.17 C83.18,806.92 83.42,805.73 83.66,804.61 C83.9,803.5 84.14,802.5 84.38,801.48 C84.62,800.47 84.86,799.48 85.1,798.51 C85.34,797.54 85.58,796.58 85.82,795.66 C86.06,794.75 86.3,793.86 86.54,793.05 C86.78,792.23 87.02,791.45 87.26,790.77 C87.51,790.08 87.75,789.46 87.99,788.94 C88.23,788.42 88.47,788.04 88.71,787.66 C88.95,787.28 89.19,786.97 89.43,786.66 C89.67,786.36 89.91,786.06 90.15,785.83 C90.39,785.61 90.63,785.41 90.87,785.31 C91.11,785.21 91.35,785.21 91.59,785.24 C91.83,785.28 92.07,785.4 92.31,785.52 C92.55,785.65 92.79,785.74 93.03,785.97 C93.27,786.21 93.51,786.54 93.75,786.93 C93.99,787.32 94.23,787.83 94.47,788.33 C94.72,788.82 94.96,789.32 95.2,789.9 C95.44,790.47 95.68,791.09 95.92,791.78 C96.16,792.46 96.4,793.21 96.64,793.99 C96.88,794.77 97.12,795.6 97.36,796.45 C97.6,797.29 97.84,798.18 98.08,799.07 C98.32,799.96 98.56,800.87 98.8,801.77 C99.04,802.67 99.28,803.58 99.52,804.47 C99.76,805.36 100,806.2 100.24,807.11 C100.48,808.01 100.72,808.94 100.96,809.9 C101.2,810.85 101.44,811.85 101.69,812.84 C101.93,813.83 102.17,814.84 102.41,815.83 C102.65,816.83 102.89,817.83 103.13,818.8 C103.37,819.77 103.61,820.73 103.85,821.64 C104.09,822.55 104.33,823.44 104.57,824.26 C104.81,825.09 105.05,825.85 105.29,826.59 C105.53,827.33 105.77,828.02 106.01,828.7 C106.25,829.39 106.49,830.04 106.73,830.68 C106.97,831.33 107.21,831.94 107.45,832.56 C107.69,833.17 107.93,833.77 108.17,834.36 C108.41,834.96 108.65,835.55 108.9,836.14 C109.14,836.73 109.38,837.32 109.62,837.92 C109.86,838.52 110.1,839.13 110.34,839.72 C110.58,840.32 110.82,840.91 111.06,841.49 C111.3,842.07 111.54,842.64 111.78,843.21 C112.02,843.78 112.26,844.34 112.5,844.91 C112.74,845.48 112.98,846.04 113.22,846.62 C113.46,847.19 113.7,847.76 113.94,848.35 C114.18,848.93 114.42,849.52 114.66,850.12 C114.9,850.72 115.14,851.34 115.38,851.96 C115.62,852.59 115.86,853.24 116.1,853.89 C116.35,854.54 116.59,855.2 116.83,855.87 C117.07,856.53 117.31,857.21 117.55,857.88 C117.79,858.56 118.03,859.24 118.27,859.91 C118.51,860.58 118.75,861.26 118.99,861.92 C119.23,862.59 119.47,863.25 119.71,863.9 C119.95,864.55 120.19,865.18 120.43,865.82 C120.67,866.46 120.91,867.11 121.15,867.76 C121.39,868.4 121.63,869.06 121.87,869.71 C122.11,870.36 122.35,871.01 122.59,871.65 C122.83,872.3 123.07,872.95 123.31,873.58 C123.56,874.22 123.8,874.85 124.04,875.47 C124.28,876.09 124.52,876.7 124.76,877.3 C125,877.9 125.24,878.49 125.48,879.05 C125.72,879.62 125.96,880.18 126.2,880.71 C126.44,881.25 126.68,881.75 126.92,882.26 C127.16,882.77 127.4,883.26 127.64,883.75 C127.88,884.25 128.12,884.75 128.36,885.23 C128.6,885.72 128.84,886.21 129.08,886.68 C129.32,887.15 129.56,887.62 129.8,888.08 C130.04,888.53 130.28,888.98 130.53,889.41 C130.77,889.84 131.01,890.25 131.25,890.65 C131.49,891.05 131.73,891.44 131.97,891.8 C132.21,892.16 132.45,892.51 132.69,892.83 C132.93,893.15 133.17,893.44 133.41,893.72 C133.65,893.99 133.89,894.24 134.13,894.48 C134.37,894.72 134.61,894.94 134.85,895.16 C135.09,895.37 135.33,895.57 135.57,895.77 C135.81,895.97 136.05,896.15 136.29,896.34 C136.53,896.52 136.77,896.69 137.01,896.86 C137.25,897.03 137.49,897.2 137.73,897.36 C137.98,897.53 138.22,897.69 138.46,897.85 C138.7,898.01 138.94,898.18 139.18,898.34 C139.42,898.51 139.66,898.67 139.9,898.85 C140.14,899.02 140.38,899.2 140.62,899.38 C140.86,899.56 141.1,899.74 141.34,899.92 C141.58,900.1 141.82,900.28 142.06,900.47 C142.3,900.65 142.54,900.83 142.78,901.01 C143.02,901.19 143.26,901.37 143.5,901.55 C143.74,901.73 143.98,901.91 144.22,902.08 C144.46,902.26 144.7,902.43 144.94,902.6 C145.19,902.77 145.43,902.94 145.67,903.1 C145.91,903.26 146.15,903.42 146.39,903.58 C146.63,903.73 146.87,903.88 147.11,904.03 C147.35,904.17 147.59,904.31 147.83,904.45 C148.07,904.59 148.31,904.72 148.55,904.86 C148.79,904.99 149.03,905.12 149.27,905.26 C149.51,905.39 149.75,905.52 149.99,905.64 C150.23,905.77 150.47,905.9 150.71,906.02 C150.95,906.15 151.19,906.27 151.43,906.39 C151.67,906.51 151.91,906.63 152.16,906.75 C152.4,906.87 152.64,906.98 152.88,907.1 C153.12,907.21 153.36,907.32 153.6,907.43 C153.84,907.54 154.08,907.65 154.32,907.75 C154.56,907.86 154.8,907.96 155.04,908.07 C155.28,908.17 155.52,908.27 155.76,908.36 C156,908.46 156.24,908.56 156.48,908.65 C156.72,908.74 156.96,908.83 157.2,908.92 C157.44,909.01 157.68,909.1 157.92,909.19 C158.16,909.27 158.4,909.36 158.64,909.44 C158.88,909.52 159.12,909.61 159.36,909.69 C159.61,909.77 159.85,909.85 160.09,909.93 C160.33,910.01 160.57,910.09 160.81,910.16 C161.05,910.24 161.29,910.32 161.53,910.39 C161.77,910.47 162.01,910.54 162.25,910.61 C162.49,910.68 162.73,910.76 162.97,910.82 C163.21,910.89 163.45,910.96 163.69,911.03 C163.93,911.1 164.17,911.16 164.41,911.23 C164.65,911.29 164.89,911.35 165.13,911.41 C165.37,911.48 165.61,911.54 165.85,911.59 C166.09,911.65 166.33,911.71 166.57,911.77 C166.82,911.82 167.06,911.87 167.3,911.93 C167.54,911.98 167.78,912.03 168.02,912.08 C168.26,912.13 168.5,912.18 168.74,912.23 C168.98,912.28 169.22,912.33 169.46,912.38 C169.7,912.42 169.94,912.47 170.18,912.52 C170.42,912.57 170.66,912.61 170.9,912.66 C171.14,912.7 171.38,912.75 171.62,912.79 C171.86,912.83 172.1,912.88 172.34,912.92 C172.58,912.96 172.82,913 173.06,913.04 C173.3,913.08 173.54,913.12 173.78,913.16 C174.03,913.2 174.27,913.24 174.51,913.27 C174.75,913.31 174.99,913.34 175.23,913.38 C175.47,913.41 175.71,913.44 175.95,913.48 C176.19,913.51 176.43,913.54 176.67,913.57 C176.91,913.6 177.15,913.62 177.39,913.65 C177.63,913.68 177.87,913.7 178.11,913.73 C178.35,913.75 178.59,913.78 178.83,913.8 C179.07,913.82 179.31,913.85 179.55,913.87 C179.79,913.9 180.03,913.92 180.27,913.94 C180.51,913.96 180.75,913.99 181,914.01 C181.24,914.03 181.48,914.05 181.72,914.07 C181.96,914.09 182.2,914.12 182.44,914.14 C182.68,914.16 182.92,914.18 183.16,914.2 C183.4,914.22 183.64,914.24 183.88,914.26 C184.12,914.28 184.36,914.3 184.6,914.32 C184.84,914.34 185.08,914.35 185.32,914.37 C185.56,914.39 185.8,914.41 186.04,914.43 C186.28,914.45 186.52,914.46 186.76,914.48 C187,914.5 187.24,914.52 187.48,914.53 C187.72,914.55 187.96,914.57 188.21,914.58 C188.45,914.6 188.69,914.62 188.93,914.63 C189.17,914.65 189.41,914.66 189.65,914.68 C189.89,914.69 190.13,914.71 190.37,914.72 C190.61,914.74 190.85,914.75 191.09,914.77 C191.33,914.78 191.57,914.8 191.81,914.81 C192.05,914.83 192.29,914.84 192.53,914.85 C192.77,914.87 193.01,914.88 193.25,914.89 C193.49,914.91 193.73,914.92 193.97,914.93 C194.21,914.95 194.45,914.96 194.69,914.97 C194.93,914.98 195.17,915 195.41,915.01 C195.66,915.02 195.9,915.03 196.14,915.04 C196.38,915.05 196.62,915.07 196.86,915.08 C197.1,915.09 197.34,915.1 197.58,915.11 C197.82,915.12 198.06,915.13 198.3,915.14 C198.54,915.15 198.78,915.16 199.02,915.17 C199.26,915.19 199.5,915.2 199.74,915.21 C199.98,915.22 200.22,915.23 200.46,915.24 C200.7,915.25 200.94,915.26 201.18,915.27 C201.42,915.28 201.66,915.29 201.9,915.3 C202.14,915.31 202.38,915.32 202.62,915.33 C202.87,915.33 203.11,915.34 203.35,915.35 C203.59,915.36 203.83,915.37 204.07,915.38 C204.31,915.39 204.55,915.4 204.79,915.41 C205.03,915.42 205.27,915.43 205.51,915.44 C205.75,915.44 205.99,915.45 206.23,915.46 C206.47,915.47 206.71,915.48 206.95,915.49 C207.19,915.5 207.43,915.5 207.67,915.51 C207.91,915.52 208.15,915.53 208.39,915.54 C208.63,915.54 208.87,915.55 209.11,915.56 C209.35,915.57 209.59,915.58 209.84,915.58 C210.08,915.59 210.32,915.6 210.56,915.61 C210.8,915.61 211.04,915.62 211.28,915.63 C211.52,915.63 211.76,915.64 212,915.65 C212.24,915.65 212.48,915.66 212.72,915.67 C212.96,915.67 213.2,915.68 213.44,915.69 C213.68,915.69 213.92,915.7 214.16,915.7 C214.4,915.71 214.64,915.72 214.88,915.72 C215.12,915.73 215.36,915.73 215.6,915.74 C215.84,915.74 216.08,915.75 216.32,915.75 C216.56,915.76 216.8,915.77 217.04,915.77 C217.29,915.77 217.53,915.78 217.77,915.78 C218.01,915.79 218.25,915.79 218.49,915.8 C218.73,915.8 218.97,915.81 219.21,915.81 C219.45,915.81 219.69,915.82 219.93,915.82 C220.17,915.83 220.53,915.83 220.65,915.83" fill="none" stroke="#f0a92a" stroke-width="1.6"/>
<path d="M40.4,916.2 C40.52,916.2 40.88,916.2 41.12,916.2 C41.36,916.2 41.6,916.2 41.84,916.2 C42.08,916.2 42.32,916.2 42.56,916.2 C42.8,916.2 43.04,916.2 43.28,916.2 C43.52,916.2 43.76,916.2 44,916.2 C44.25,916.2 44.49,916.2 44.73,916.2 C44.97,916.2 45.21,916.2 45.45,916.2 C45.69,916.2 45.93,916.2 46.17,916.2 C46.41,916.2 46.65,916.2 46.89,916.2 C47.13,916.2 47.37,916.2 47.61,916.2 C47.85,916.2 48.09,916.2 48.33,916.2 C48.57,916.2 48.81,916.2 49.05,916.2 C49.29,916.2 49.53,916.2 49.77,916.2 C50.01,916.2 50.25,916.2 50.49,916.2 C50.73,916.2 50.97,916.2 51.21,916.2 C51.46,916.2 51.7,916.2 51.94,916.2 C52.18,916.2 52.42,916.2 52.66,916.2 C52.9,916.2 53.14,916.2 53.38,916.2 C53.62,916.2 53.86,916.2 54.1,916.2 C54.34,916.2 54.58,916.2 54.82,916.2 C55.06,916.2 55.3,916.2 55.54,916.2 C55.78,916.2 56.02,916.2 56.26,916.2 C56.5,916.2 56.74,916.2 56.98,916.2 C57.22,916.2 57.46,916.2 57.7,916.2 C57.94,916.2 58.18,916.2 58.42,916.2 C58.67,916.2 58.91,916.2 59.15,916.2 C59.39,916.2 59.63,916.2 59.87,916.2 C60.11,916.2 60.35,916.2 60.59,916.2 C60.83,916.2 61.07,916.2 61.31,916.2 C61.55,916.2 61.79,916.2 62.03,916.2 C62.27,916.2 62.51,916.2 62.75,916.2 C62.99,916.2 63.23,916.22 63.47,916.2 C63.71,916.18 63.95,916.24 64.19,916.08 C64.43,915.93 64.67,915.63 64.91,915.28 C65.15,914.92 65.39,914.43 65.63,913.95 C65.88,913.47 66.12,912.95 66.36,912.42 C66.6,911.89 66.84,911.38 67.08,910.76 C67.32,910.14 67.56,909.45 67.8,908.7 C68.04,907.94 68.28,907.12 68.52,906.24 C68.76,905.37 69,904.43 69.24,903.45 C69.48,902.47 69.72,901.43 69.96,900.35 C70.2,899.28 70.44,898.18 70.68,896.99 C70.92,895.81 71.16,894.63 71.4,893.22 C71.64,891.82 71.88,890.22 72.12,888.54 C72.36,886.87 72.6,885.03 72.84,883.17 C73.09,881.31 73.33,879.34 73.57,877.4 C73.81,875.45 74.05,873.44 74.29,871.49 C74.53,869.55 74.77,867.62 75.01,865.75 C75.25,863.88 75.49,862.12 75.73,860.26 C75.97,858.4 76.21,856.5 76.45,854.59 C76.69,852.69 76.93,850.74 77.17,848.83 C77.41,846.92 77.65,845 77.89,843.13 C78.13,841.26 78.37,839.4 78.61,837.62 C78.85,835.84 79.09,834.1 79.33,832.45 C79.57,830.81 79.81,829.28 80.06,827.74 C80.3,826.2 80.54,824.7 80.78,823.22 C81.02,821.74 81.26,820.27 81.5,818.85 C81.74,817.43 81.98,816.04 82.22,814.71 C82.46,813.38 82.7,812.09 82.94,810.87 C83.18,809.65 83.42,808.49 83.66,807.4 C83.9,806.31 84.14,805.34 84.38,804.35 C84.62,803.36 84.86,802.4 85.1,801.46 C85.34,800.51 85.58,799.57 85.82,798.68 C86.06,797.79 86.3,796.92 86.54,796.13 C86.78,795.33 87.02,794.57 87.26,793.9 C87.51,793.24 87.75,792.63 87.99,792.12 C88.23,791.62 88.47,791.25 88.71,790.88 C88.95,790.51 89.19,790.2 89.43,789.9 C89.67,789.6 89.91,789.31 90.15,789.09 C90.39,788.87 90.63,788.68 90.87,788.58 C91.11,788.49 91.35,788.48 91.59,788.52 C91.83,788.56 92.07,788.69 92.31,788.83 C92.55,788.96 92.79,789.07 93.03,789.34 C93.27,789.61 93.51,790.01 93.75,790.44 C93.99,790.88 94.23,791.43 94.47,791.97 C94.72,792.51 94.96,793.04 95.2,793.67 C95.44,794.3 95.68,795.01 95.92,795.77 C96.16,796.52 96.4,797.35 96.64,798.19 C96.88,799.04 97.12,799.94 97.36,800.85 C97.6,801.76 97.84,802.7 98.08,803.63 C98.32,804.57 98.56,805.52 98.8,806.45 C99.04,807.37 99.28,808.26 99.52,809.19 C99.76,810.13 100,811.06 100.24,812.05 C100.48,813.03 100.72,814.06 100.96,815.08 C101.2,816.11 101.44,817.16 101.69,818.19 C101.93,819.23 102.17,820.27 102.41,821.27 C102.65,822.28 102.89,823.28 103.13,824.21 C103.37,825.15 103.61,826.06 103.85,826.91 C104.09,827.75 104.33,828.52 104.57,829.27 C104.81,830.03 105.05,830.74 105.29,831.44 C105.53,832.13 105.77,832.8 106.01,833.45 C106.25,834.11 106.49,834.74 106.73,835.37 C106.97,836 107.21,836.61 107.45,837.23 C107.69,837.85 107.93,838.45 108.17,839.07 C108.41,839.69 108.65,840.32 108.9,840.94 C109.14,841.56 109.38,842.18 109.62,842.79 C109.86,843.4 110.1,843.99 110.34,844.59 C110.58,845.18 110.82,845.77 111.06,846.36 C111.3,846.95 111.54,847.54 111.78,848.13 C112.02,848.72 112.26,849.32 112.5,849.92 C112.74,850.53 112.98,851.14 113.22,851.77 C113.46,852.39 113.7,853.03 113.94,853.68 C114.18,854.34 114.42,855.01 114.66,855.69 C114.9,856.36 115.14,857.06 115.38,857.75 C115.62,858.44 115.86,859.15 116.1,859.85 C116.35,860.55 116.59,861.25 116.83,861.95 C117.07,862.65 117.31,863.35 117.55,864.03 C117.79,864.72 118.03,865.39 118.27,866.06 C118.51,866.73 118.75,867.39 118.99,868.06 C119.23,868.73 119.47,869.4 119.71,870.08 C119.95,870.75 120.19,871.43 120.43,872.1 C120.67,872.78 120.91,873.45 121.15,874.11 C121.39,874.78 121.63,875.44 121.87,876.09 C122.11,876.74 122.35,877.38 122.59,878 C122.83,878.63 123.07,879.24 123.31,879.83 C123.56,880.43 123.8,881.01 124.04,881.56 C124.28,882.12 124.52,882.64 124.76,883.17 C125,883.7 125.24,884.21 125.48,884.72 C125.72,885.24 125.96,885.75 126.2,886.25 C126.44,886.76 126.68,887.26 126.92,887.75 C127.16,888.23 127.4,888.72 127.64,889.18 C127.88,889.65 128.12,890.1 128.36,890.54 C128.6,890.97 128.84,891.39 129.08,891.79 C129.32,892.19 129.56,892.57 129.8,892.93 C130.04,893.28 130.28,893.61 130.53,893.92 C130.77,894.22 131.01,894.5 131.25,894.76 C131.49,895.02 131.73,895.26 131.97,895.49 C132.21,895.72 132.45,895.94 132.69,896.14 C132.93,896.35 133.17,896.55 133.41,896.74 C133.65,896.93 133.89,897.11 134.13,897.29 C134.37,897.47 134.61,897.64 134.85,897.81 C135.09,897.98 135.33,898.15 135.57,898.32 C135.81,898.49 136.05,898.66 136.29,898.83 C136.53,899 136.77,899.18 137.01,899.36 C137.25,899.54 137.49,899.73 137.73,899.91 C137.98,900.1 138.22,900.29 138.46,900.48 C138.7,900.67 138.94,900.86 139.18,901.05 C139.42,901.23 139.66,901.42 139.9,901.61 C140.14,901.8 140.38,901.98 140.62,902.17 C140.86,902.35 141.1,902.53 141.34,902.71 C141.58,902.89 141.82,903.07 142.06,903.24 C142.3,903.41 142.54,903.58 142.78,903.75 C143.02,903.91 143.26,904.07 143.5,904.22 C143.74,904.38 143.98,904.52 144.22,904.67 C144.46,904.81 144.7,904.95 144.94,905.09 C145.19,905.23 145.43,905.37 145.67,905.51 C145.91,905.64 146.15,905.78 146.39,905.91 C146.63,906.04 146.87,906.17 147.11,906.3 C147.35,906.43 147.59,906.56 147.83,906.69 C148.07,906.81 148.31,906.93 148.55,907.05 C148.79,907.18 149.03,907.29 149.27,907.41 C149.51,907.53 149.75,907.64 149.99,907.76 C150.23,907.87 150.47,907.98 150.71,908.09 C150.95,908.2 151.19,908.3 151.43,908.41 C151.67,908.51 151.91,908.61 152.16,908.71 C152.4,908.81 152.64,908.9 152.88,909 C153.12,909.09 153.36,909.18 153.6,909.27 C153.84,909.36 154.08,909.45 154.32,909.54 C154.56,909.63 154.8,909.72 155.04,909.8 C155.28,909.89 155.52,909.97 155.76,910.05 C156,910.14 156.24,910.22 156.48,910.3 C156.72,910.38 156.96,910.46 157.2,910.53 C157.44,910.61 157.68,910.69 157.92,910.76 C158.16,910.84 158.4,910.91 158.64,910.98 C158.88,911.05 159.12,911.13 159.36,911.19 C159.61,911.26 159.85,911.33 160.09,911.4 C160.33,911.46 160.57,911.53 160.81,911.59 C161.05,911.65 161.29,911.71 161.53,911.77 C161.77,911.83 162.01,911.89 162.25,911.95 C162.49,912 162.73,912.06 162.97,912.11 C163.21,912.16 163.45,912.22 163.69,912.27 C163.93,912.32 164.17,912.37 164.41,912.42 C164.65,912.47 164.89,912.52 165.13,912.57 C165.37,912.62 165.61,912.67 165.85,912.72 C166.09,912.76 166.33,912.81 166.57,912.85 C166.82,912.9 167.06,912.95 167.3,912.99 C167.54,913.03 167.78,913.08 168.02,913.12 C168.26,913.16 168.5,913.2 168.74,913.24 C168.98,913.28 169.22,913.32 169.46,913.35 C169.7,913.39 169.94,913.43 170.18,913.46 C170.42,913.5 170.66,913.53 170.9,913.56 C171.14,913.6 171.38,913.63 171.62,913.66 C171.86,913.69 172.1,913.72 172.34,913.74 C172.58,913.77 172.82,913.79 173.06,913.82 C173.3,913.85 173.54,913.87 173.78,913.9 C174.03,913.92 174.27,913.94 174.51,913.97 C174.75,913.99 174.99,914.02 175.23,914.04 C175.47,914.06 175.71,914.08 175.95,914.11 C176.19,914.13 176.43,914.15 176.67,914.17 C176.91,914.2 177.15,914.22 177.39,914.24 C177.63,914.26 177.87,914.28 178.11,914.3 C178.35,914.32 178.59,914.34 178.83,914.36 C179.07,914.38 179.31,914.4 179.55,914.42 C179.79,914.44 180.03,914.46 180.27,914.48 C180.51,914.5 180.75,914.51 181,914.53 C181.24,914.55 181.48,914.57 181.72,914.58 C181.96,914.6 182.2,914.62 182.44,914.64 C182.68,914.65 182.92,914.67 183.16,914.69 C183.4,914.7 183.64,914.72 183.88,914.74 C184.12,914.75 184.36,914.77 184.6,914.78 C184.84,914.8 185.08,914.81 185.32,914.83 C185.56,914.84 185.8,914.86 186.04,914.87 C186.28,914.89 186.52,914.9 186.76,914.91 C187,914.93 187.24,914.94 187.48,914.95 C187.72,914.97 187.96,914.98 188.21,914.99 C188.45,915.01 188.69,915.02 188.93,915.03 C189.17,915.05 189.41,915.06 189.65,915.07 C189.89,915.08 190.13,915.09 190.37,915.11 C190.61,915.12 190.85,915.13 191.09,915.14 C191.33,915.15 191.57,915.16 191.81,915.17 C192.05,915.18 192.29,915.2 192.53,915.21 C192.77,915.22 193.01,915.23 193.25,915.24 C193.49,915.25 193.73,915.26 193.97,915.27 C194.21,915.28 194.45,915.29 194.69,915.3 C194.93,915.31 195.17,915.32 195.41,915.33 C195.66,915.34 195.9,915.35 196.14,915.36 C196.38,915.37 196.62,915.38 196.86,915.39 C197.1,915.4 197.34,915.41 197.58,915.42 C197.82,915.43 198.06,915.44 198.3,915.45 C198.54,915.46 198.78,915.47 199.02,915.47 C199.26,915.48 199.5,915.49 199.74,915.5 C199.98,915.51 200.22,915.52 200.46,915.53 C200.7,915.54 200.94,915.54 201.18,915.55 C201.42,915.56 201.66,915.57 201.9,915.58 C202.14,915.58 202.38,915.59 202.62,915.6 C202.87,915.61 203.11,915.62 203.35,915.62 C203.59,915.63 203.83,915.64 204.07,915.65 C204.31,915.65 204.55,915.66 204.79,915.67 C205.03,915.67 205.27,915.68 205.51,915.69 C205.75,915.69 205.99,915.7 206.23,915.71 C206.47,915.71 206.71,915.72 206.95,915.73 C207.19,915.73 207.43,915.74 207.67,915.74 C207.91,915.75 208.15,915.75 208.39,915.76 C208.63,915.77 208.87,915.77 209.11,915.78 C209.35,915.78 209.59,915.79 209.84,915.79 C210.08,915.8 210.32,915.8 210.56,915.81 C210.8,915.81 211.04,915.81 211.28,915.82 C211.52,915.82 211.76,915.83 212,915.83 C212.24,915.84 212.48,915.84 212.72,915.84 C212.96,915.85 213.2,915.85 213.44,915.86 C213.68,915.86 213.92,915.86 214.16,915.87 C214.4,915.87 214.64,915.88 214.88,915.88 C215.12,915.88 215.36,915.89 215.6,915.89 C215.84,915.9 216.08,915.9 216.32,915.9 C216.56,915.91 216.8,915.91 217.04,915.92 C217.29,915.92 217.53,915.92 217.77,915.93 C218.01,915.93 218.25,915.94 218.49,915.94 C218.73,915.94 218.97,915.95 219.21,915.95 C219.45,915.96 219.69,915.96 219.93,915.96 C220.17,915.97 220.53,915.97 220.65,915.97" fill="none" stroke="#e6d62a" stroke-width="1.6"/>
<path d="M40.4,916.2 C40.52,916.2 40.88,916.2 41.12,916.2 C41.36,916.2 41.6,916.2 41.84,916.2 C42.08,916.2 42.32,916.2 42.56,916.2 C42.8,916.2 43.04,916.2 43.28,916.2 C43.52,916.2 43.76,916.2 44,916.2 C44.25,916.2 44.49,916.2 44.73,916.2 C44.97,916.2 45.21,916.2 45.45,916.2 C45.69,916.2 45.93,916.2 46.17,916.2 C46.41,916.2 46.65,916.2 46.89,916.2 C47.13,916.2 47.37,916.2 47.61,916.2 C47.85,916.2 48.09,916.2 48.33,916.2 C48.57,916.2 48.81,916.2 49.05,916.2 C49.29,916.2 49.53,916.2 49.77,916.2 C50.01,916.2 50.25,916.2 50.49,916.2 C50.73,916.2 50.97,916.2 51.21,916.2 C51.46,916.2 51.7,916.2 51.94,916.2 C52.18,916.2 52.42,916.2 52.66,916.2 C52.9,916.2 53.14,916.2 53.38,916.2 C53.62,916.2 53.86,916.2 54.1,916.2 C54.34,916.2 54.58,916.2 54.82,916.2 C55.06,916.2 55.3,916.2 55.54,916.2 C55.78,916.2 56.02,916.2 56.26,916.2 C56.5,916.2 56.74,916.2 56.98,916.2 C57.22,916.2 57.46,916.2 57.7,916.2 C57.94,916.2 58.18,916.2 58.42,916.2 C58.67,916.2 58.91,916.2 59.15,916.2 C59.39,916.2 59.63,916.2 59.87,916.2 C60.11,916.2 60.35,916.2 60.59,916.2 C60.83,916.2 61.07,916.2 61.31,916.2 C61.55,916.2 61.79,916.2 62.03,916.2 C62.27,916.2 62.51,916.21 62.75,916.2 C62.99,916.19 63.23,916.27 63.47,916.15 C63.71,916.02 63.95,915.79 64.19,915.47 C64.43,915.16 64.67,914.71 64.91,914.26 C65.15,913.82 65.39,913.31 65.63,912.81 C65.88,912.31 66.12,911.85 66.36,911.28 C66.6,910.7 66.84,910.06 67.08,909.36 C67.32,908.66 67.56,907.89 67.8,907.08 C68.04,906.26 68.28,905.38 68.52,904.46 C68.76,903.53 69,902.56 69.24,901.54 C69.48,900.53 69.72,899.49 69.96,898.38 C70.2,897.26 70.44,896.19 70.68,894.88 C70.92,893.58 71.16,892.1 71.4,890.54 C71.64,888.97 71.88,887.25 72.12,885.5 C72.36,883.75 72.6,881.88 72.84,880.03 C73.09,878.18 73.33,876.26 73.57,874.4 C73.81,872.54 74.05,870.68 74.29,868.88 C74.53,867.09 74.77,865.41 75.01,863.64 C75.25,861.87 75.49,860.07 75.73,858.26 C75.97,856.44 76.21,854.59 76.45,852.77 C76.69,850.94 76.93,849.1 77.17,847.31 C77.41,845.52 77.65,843.73 77.89,842.02 C78.13,840.31 78.37,838.62 78.61,837.03 C78.85,835.44 79.09,833.96 79.33,832.48 C79.57,831 79.81,829.57 80.06,828.15 C80.3,826.73 80.54,825.32 80.78,823.96 C81.02,822.59 81.26,821.26 81.5,819.97 C81.74,818.69 81.98,817.44 82.22,816.26 C82.46,815.08 82.7,813.95 82.94,812.89 C83.18,811.84 83.42,810.89 83.66,809.93 C83.9,808.97 84.14,808.07 84.38,807.16 C84.62,806.25 84.86,805.35 85.1,804.49 C85.34,803.63 85.58,802.79 85.82,802.02 C86.06,801.24 86.3,800.5 86.54,799.84 C86.78,799.19 87.02,798.58 87.26,798.07 C87.51,797.57 87.75,797.18 87.99,796.81 C88.23,796.44 88.47,796.15 88.71,795.86 C88.95,795.57 89.19,795.28 89.43,795.06 C89.67,794.84 89.91,794.63 90.15,794.52 C90.39,794.41 90.63,794.37 90.87,794.4 C91.11,794.42 91.35,794.55 91.59,794.69 C91.83,794.82 92.07,794.93 92.31,795.21 C92.55,795.48 92.79,795.91 93.03,796.36 C93.27,796.82 93.51,797.38 93.75,797.94 C93.99,798.5 94.23,799.07 94.47,799.74 C94.72,800.42 94.96,801.18 95.2,801.98 C95.44,802.78 95.68,803.65 95.92,804.54 C96.16,805.43 96.4,806.38 96.64,807.32 C96.88,808.26 97.12,809.23 97.36,810.19 C97.6,811.14 97.84,812.09 98.08,813.03 C98.32,813.98 98.56,814.88 98.8,815.86 C99.04,816.84 99.28,817.87 99.52,818.91 C99.76,819.95 100,821.02 100.24,822.08 C100.48,823.13 100.72,824.2 100.96,825.23 C101.2,826.26 101.44,827.29 101.69,828.25 C101.93,829.22 102.17,830.15 102.41,831.01 C102.65,831.88 102.89,832.66 103.13,833.42 C103.37,834.19 103.61,834.91 103.85,835.61 C104.09,836.32 104.33,836.99 104.57,837.65 C104.81,838.32 105.05,838.95 105.29,839.59 C105.53,840.23 105.77,840.85 106.01,841.48 C106.25,842.11 106.49,842.73 106.73,843.36 C106.97,844 107.21,844.65 107.45,845.27 C107.69,845.9 107.93,846.52 108.17,847.13 C108.41,847.75 108.65,848.35 108.9,848.95 C109.14,849.55 109.38,850.15 109.62,850.75 C109.86,851.36 110.1,851.96 110.34,852.58 C110.58,853.19 110.82,853.81 111.06,854.44 C111.3,855.08 111.54,855.73 111.78,856.39 C112.02,857.05 112.26,857.74 112.5,858.43 C112.74,859.12 112.98,859.83 113.22,860.54 C113.46,861.24 113.7,861.96 113.94,862.68 C114.18,863.39 114.42,864.11 114.66,864.82 C114.9,865.53 115.14,866.24 115.38,866.94 C115.62,867.63 115.86,868.31 116.1,868.99 C116.35,869.67 116.59,870.35 116.83,871.04 C117.07,871.72 117.31,872.42 117.55,873.1 C117.79,873.79 118.03,874.49 118.27,875.17 C118.51,875.85 118.75,876.53 118.99,877.2 C119.23,877.87 119.47,878.53 119.71,879.18 C119.95,879.82 120.19,880.46 120.43,881.07 C120.67,881.69 120.91,882.29 121.15,882.87 C121.39,883.44 121.63,883.98 121.87,884.52 C122.11,885.06 122.35,885.58 122.59,886.11 C122.83,886.63 123.07,887.16 123.31,887.67 C123.56,888.19 123.8,888.7 124.04,889.19 C124.28,889.69 124.52,890.18 124.76,890.65 C125,891.12 125.24,891.57 125.48,892.01 C125.72,892.45 125.96,892.87 126.2,893.26 C126.44,893.65 126.68,894.03 126.92,894.37 C127.16,894.71 127.4,895.03 127.64,895.32 C127.88,895.61 128.12,895.87 128.36,896.12 C128.6,896.36 128.84,896.6 129.08,896.82 C129.32,897.04 129.56,897.25 129.8,897.45 C130.04,897.65 130.28,897.84 130.53,898.02 C130.77,898.21 131.01,898.38 131.25,898.56 C131.49,898.74 131.73,898.91 131.97,899.08 C132.21,899.25 132.45,899.42 132.69,899.6 C132.93,899.78 133.17,899.95 133.41,900.14 C133.65,900.32 133.89,900.51 134.13,900.7 C134.37,900.9 134.61,901.09 134.85,901.28 C135.09,901.47 135.33,901.67 135.57,901.86 C135.81,902.05 136.05,902.25 136.29,902.44 C136.53,902.63 136.77,902.82 137.01,903 C137.25,903.19 137.49,903.37 137.73,903.55 C137.98,903.73 138.22,903.91 138.46,904.08 C138.7,904.25 138.94,904.42 139.18,904.58 C139.42,904.74 139.66,904.9 139.9,905.05 C140.14,905.2 140.38,905.34 140.62,905.48 C140.86,905.63 141.1,905.77 141.34,905.91 C141.58,906.05 141.82,906.19 142.06,906.33 C142.3,906.46 142.54,906.6 142.78,906.73 C143.02,906.86 143.26,906.99 143.5,907.12 C143.74,907.25 143.98,907.37 144.22,907.5 C144.46,907.62 144.7,907.74 144.94,907.86 C145.19,907.98 145.43,908.09 145.67,908.21 C145.91,908.32 146.15,908.43 146.39,908.54 C146.63,908.65 146.87,908.76 147.11,908.86 C147.35,908.97 147.59,909.07 147.83,909.17 C148.07,909.27 148.31,909.36 148.55,909.46 C148.79,909.55 149.03,909.64 149.27,909.73 C149.51,909.82 149.75,909.91 149.99,910 C150.23,910.09 150.47,910.18 150.71,910.26 C150.95,910.35 151.19,910.43 151.43,910.51 C151.67,910.6 151.91,910.68 152.16,910.76 C152.4,910.84 152.64,910.91 152.88,910.99 C153.12,911.07 153.36,911.14 153.6,911.22 C153.84,911.29 154.08,911.36 154.32,911.43 C154.56,911.5 154.8,911.57 155.04,911.64 C155.28,911.7 155.52,911.77 155.76,911.83 C156,911.9 156.24,911.96 156.48,912.02 C156.72,912.08 156.96,912.14 157.2,912.19 C157.44,912.25 157.68,912.3 157.92,912.36 C158.16,912.41 158.4,912.46 158.64,912.52 C158.88,912.57 159.12,912.62 159.36,912.67 C159.61,912.72 159.85,912.77 160.09,912.82 C160.33,912.87 160.57,912.92 160.81,912.96 C161.05,913.01 161.29,913.06 161.53,913.1 C161.77,913.15 162.01,913.19 162.25,913.24 C162.49,913.28 162.73,913.32 162.97,913.36 C163.21,913.4 163.45,913.44 163.69,913.48 C163.93,913.52 164.17,913.56 164.41,913.59 C164.65,913.63 164.89,913.66 165.13,913.69 C165.37,913.73 165.61,913.76 165.85,913.79 C166.09,913.82 166.33,913.85 166.57,913.87 C166.82,913.9 167.06,913.93 167.3,913.95 C167.54,913.98 167.78,914 168.02,914.03 C168.26,914.05 168.5,914.08 168.74,914.1 C168.98,914.12 169.22,914.15 169.46,914.17 C169.7,914.19 169.94,914.22 170.18,914.24 C170.42,914.26 170.66,914.28 170.9,914.31 C171.14,914.33 171.38,914.35 171.62,914.37 C171.86,914.39 172.1,914.41 172.34,914.43 C172.58,914.45 172.82,914.47 173.06,914.49 C173.3,914.51 173.54,914.53 173.78,914.55 C174.03,914.57 174.27,914.59 174.51,914.61 C174.75,914.63 174.99,914.64 175.23,914.66 C175.47,914.68 175.71,914.7 175.95,914.72 C176.19,914.73 176.43,914.75 176.67,914.77 C176.91,914.78 177.15,914.8 177.39,914.82 C177.63,914.83 177.87,914.85 178.11,914.86 C178.35,914.88 178.59,914.89 178.83,914.91 C179.07,914.92 179.31,914.94 179.55,914.95 C179.79,914.97 180.03,914.98 180.27,914.99 C180.51,915.01 180.75,915.02 181,915.04 C181.24,915.05 181.48,915.06 181.72,915.08 C181.96,915.09 182.2,915.1 182.44,915.11 C182.68,915.13 182.92,915.14 183.16,915.15 C183.4,915.16 183.64,915.17 183.88,915.19 C184.12,915.2 184.36,915.21 184.6,915.22 C184.84,915.23 185.08,915.24 185.32,915.25 C185.56,915.26 185.8,915.28 186.04,915.29 C186.28,915.3 186.52,915.31 186.76,915.32 C187,915.33 187.24,915.34 187.48,915.35 C187.72,915.36 187.96,915.37 188.21,915.38 C188.45,915.39 188.69,915.4 188.93,915.41 C189.17,915.42 189.41,915.43 189.65,915.44 C189.89,915.45 190.13,915.46 190.37,915.47 C190.61,915.48 190.85,915.49 191.09,915.5 C191.33,915.51 191.57,915.52 191.81,915.53 C192.05,915.53 192.29,915.54 192.53,915.55 C192.77,915.56 193.01,915.57 193.25,915.58 C193.49,915.59 193.73,915.59 193.97,915.6 C194.21,915.61 194.45,915.62 194.69,915.63 C194.93,915.64 195.17,915.64 195.41,915.65 C195.66,915.66 195.9,915.67 196.14,915.67 C196.38,915.68 196.62,915.69 196.86,915.69 C197.1,915.7 197.34,915.71 197.58,915.72 C197.82,915.72 198.06,915.73 198.3,915.74 C198.54,915.74 198.78,915.75 199.02,915.75 C199.26,915.76 199.5,915.77 199.74,915.77 C199.98,915.78 200.22,915.78 200.46,915.79 C200.7,915.79 200.94,915.8 201.18,915.8 C201.42,915.81 201.66,915.81 201.9,915.82 C202.14,915.82 202.38,915.83 202.62,915.83 C202.87,915.84 203.11,915.84 203.35,915.85 C203.59,915.85 203.83,915.85 204.07,915.86 C204.31,915.86 204.55,915.87 204.79,915.87 C205.03,915.88 205.27,915.88 205.51,915.88 C205.75,915.89 205.99,915.89 206.23,915.9 C206.47,915.9 206.71,915.9 206.95,915.91 C207.19,915.91 207.43,915.92 207.67,915.92 C207.91,915.93 208.15,915.93 208.39,915.93 C208.63,915.94 208.87,915.94 209.11,915.95 C209.35,915.95 209.59,915.95 209.84,915.96 C210.08,915.96 210.32,915.97 210.56,915.97 C210.8,915.97 211.04,915.98 211.28,915.98 C211.52,915.98 211.76,915.99 212,915.99 C212.24,916 212.48,916 212.72,916 C212.96,916.01 213.2,916.01 213.44,916.01 C213.68,916.02 213.92,916.02 214.16,916.03 C214.4,916.03 214.64,916.03 214.88,916.04 C215.12,916.04 215.36,916.04 215.6,916.05 C215.84,916.05 216.08,916.05 216.32,916.06 C216.56,916.06 216.8,916.06 217.04,916.07 C217.29,916.07 217.53,916.07 217.77,916.08 C218.01,916.08 218.25,916.08 218.49,916.09 C218.73,916.09 218.97,916.09 219.21,916.09 C219.45,916.1 219.69,916.1 219.93,916.1 C220.17,916.11 220.53,916.11 220.65,916.11" fill="none" stroke="#b12fd0" stroke-width="1.6"/>
<path d="M40.4,916.2 C40.52,916.2 40.88,916.2 41.12,916.2 C41.36,916.2 41.6,916.2 41.84,916.2 C42.08,916.2 42.32,916.2 42.56,916.2 C42.8,916.2 43.04,916.2 43.28,916.2 C43.52,916.2 43.76,916.2 44,916.2 C44.25,916.2 44.49,916.2 44.73,916.2 C44.97,916.2 45.21,916.2 45.45,916.2 C45.69,916.2 45.93,916.2 46.17,916.2 C46.41,916.2 46.65,916.2 46.89,916.2 C47.13,916.2 47.37,916.2 47.61,916.2 C47.85,916.2 48.09,916.2 48.33,916.2 C48.57,916.2 48.81,916.2 49.05,916.2 C49.29,916.2 49.53,916.2 49.77,916.2 C50.01,916.2 50.25,916.2 50.49,916.2 C50.73,916.2 50.97,916.2 51.21,916.2 C51.46,916.2 51.7,916.2 51.94,916.2 C52.18,916.2 52.42,916.2 52.66,916.2 C52.9,916.2 53.14,916.2 53.38,916.2 C53.62,916.2 53.86,916.2 54.1,916.2 C54.34,916.2 54.58,916.2 54.82,916.2 C55.06,916.2 55.3,916.2 55.54,916.2 C55.78,916.2 56.02,916.2 56.26,916.2 C56.5,916.2 56.74,916.2 56.98,916.2 C57.22,916.2 57.46,916.2 57.7,916.2 C57.94,916.2 58.18,916.2 58.42,916.2 C58.67,916.2 58.91,916.2 59.15,916.2 C59.39,916.2 59.63,916.2 59.87,916.2 C60.11,916.2 60.35,916.2 60.59,916.2 C60.83,916.2 61.07,916.2 61.31,916.2 C61.55,916.2 61.79,916.2 62.03,916.2 C62.27,916.2 62.51,916.2 62.75,916.2 C62.99,916.2 63.23,916.27 63.47,916.2 C63.71,916.13 63.95,916.02 64.19,915.78 C64.43,915.55 64.67,915.15 64.91,914.78 C65.15,914.41 65.39,914.02 65.63,913.58 C65.88,913.14 66.12,912.7 66.36,912.16 C66.6,911.62 66.84,911 67.08,910.34 C67.32,909.69 67.56,908.97 67.8,908.24 C68.04,907.52 68.28,906.76 68.52,905.99 C68.76,905.22 69,904.46 69.24,903.62 C69.48,902.79 69.72,901.9 69.96,900.97 C70.2,900.05 70.44,899.07 70.68,898.07 C70.92,897.08 71.16,896.04 71.4,895 C71.64,893.96 71.88,892.89 72.12,891.82 C72.36,890.75 72.6,889.67 72.84,888.6 C73.09,887.53 73.33,886.45 73.57,885.41 C73.81,884.36 74.05,883.32 74.29,882.32 C74.53,881.31 74.77,880.35 75.01,879.35 C75.25,878.35 75.49,877.34 75.73,876.32 C75.97,875.31 76.21,874.27 76.45,873.24 C76.69,872.22 76.93,871.18 77.17,870.17 C77.41,869.15 77.65,868.13 77.89,867.15 C78.13,866.16 78.37,865.18 78.61,864.24 C78.85,863.29 79.09,862.37 79.33,861.49 C79.57,860.61 79.81,859.76 80.06,858.97 C80.3,858.17 80.54,857.44 80.78,856.71 C81.02,855.97 81.26,855.26 81.5,854.56 C81.74,853.85 81.98,853.15 82.22,852.47 C82.46,851.79 82.7,851.12 82.94,850.47 C83.18,849.83 83.42,849.19 83.66,848.59 C83.9,847.99 84.14,847.4 84.38,846.85 C84.62,846.3 84.86,845.78 85.1,845.29 C85.34,844.8 85.58,844.34 85.82,843.92 C86.06,843.51 86.3,843.15 86.54,842.79 C86.78,842.43 87.02,842.09 87.26,841.75 C87.51,841.41 87.75,841.06 87.99,840.73 C88.23,840.39 88.47,840.07 88.71,839.77 C88.95,839.46 89.19,839.17 89.43,838.92 C89.67,838.67 89.91,838.43 90.15,838.24 C90.39,838.06 90.63,837.89 90.87,837.79 C91.11,837.68 91.35,837.61 91.59,837.6 C91.83,837.6 92.07,837.65 92.31,837.76 C92.55,837.87 92.79,838.06 93.03,838.27 C93.27,838.49 93.51,838.77 93.75,839.08 C93.99,839.38 94.23,839.73 94.47,840.1 C94.72,840.47 94.96,840.87 95.2,841.28 C95.44,841.69 95.68,842.12 95.92,842.55 C96.16,842.97 96.4,843.39 96.64,843.83 C96.88,844.28 97.12,844.69 97.36,845.21 C97.6,845.73 97.84,846.32 98.08,846.95 C98.32,847.58 98.56,848.27 98.8,848.98 C99.04,849.68 99.28,850.44 99.52,851.2 C99.76,851.96 100,852.75 100.24,853.53 C100.48,854.31 100.72,855.11 100.96,855.88 C101.2,856.65 101.44,857.43 101.69,858.17 C101.93,858.9 102.17,859.62 102.41,860.3 C102.65,860.97 102.89,861.59 103.13,862.22 C103.37,862.86 103.61,863.48 103.85,864.09 C104.09,864.71 104.33,865.32 104.57,865.93 C104.81,866.54 105.05,867.14 105.29,867.73 C105.53,868.33 105.77,868.92 106.01,869.5 C106.25,870.08 106.49,870.66 106.73,871.23 C106.97,871.79 107.21,872.35 107.45,872.91 C107.69,873.46 107.93,874.01 108.17,874.55 C108.41,875.09 108.65,875.62 108.9,876.14 C109.14,876.67 109.38,877.2 109.62,877.72 C109.86,878.24 110.1,878.76 110.34,879.27 C110.58,879.78 110.82,880.29 111.06,880.79 C111.3,881.29 111.54,881.79 111.78,882.27 C112.02,882.76 112.26,883.24 112.5,883.7 C112.74,884.17 112.98,884.63 113.22,885.08 C113.46,885.53 113.7,885.96 113.94,886.39 C114.18,886.81 114.42,887.22 114.66,887.62 C114.9,888.03 115.14,888.42 115.38,888.82 C115.62,889.21 115.86,889.6 116.1,889.99 C116.35,890.37 116.59,890.75 116.83,891.13 C117.07,891.5 117.31,891.87 117.55,892.24 C117.79,892.6 118.03,892.96 118.27,893.3 C118.51,893.65 118.75,893.99 118.99,894.33 C119.23,894.66 119.47,894.98 119.71,895.3 C119.95,895.61 120.19,895.92 120.43,896.22 C120.67,896.51 120.91,896.8 121.15,897.07 C121.39,897.34 121.63,897.61 121.87,897.86 C122.11,898.11 122.35,898.36 122.59,898.6 C122.83,898.84 123.07,899.08 123.31,899.31 C123.56,899.54 123.8,899.77 124.04,899.99 C124.28,900.21 124.52,900.43 124.76,900.64 C125,900.85 125.24,901.06 125.48,901.27 C125.72,901.47 125.96,901.67 126.2,901.86 C126.44,902.06 126.68,902.25 126.92,902.44 C127.16,902.62 127.4,902.81 127.64,902.99 C127.88,903.17 128.12,903.34 128.36,903.51 C128.6,903.68 128.84,903.85 129.08,904.01 C129.32,904.18 129.56,904.34 129.8,904.49 C130.04,904.65 130.28,904.8 130.53,904.95 C130.77,905.1 131.01,905.25 131.25,905.39 C131.49,905.54 131.73,905.68 131.97,905.82 C132.21,905.96 132.45,906.1 132.69,906.23 C132.93,906.37 133.17,906.5 133.41,906.63 C133.65,906.76 133.89,906.89 134.13,907.01 C134.37,907.14 134.61,907.26 134.85,907.38 C135.09,907.51 135.33,907.62 135.57,907.74 C135.81,907.86 136.05,907.97 136.29,908.08 C136.53,908.2 136.77,908.31 137.01,908.42 C137.25,908.52 137.49,908.63 137.73,908.73 C137.98,908.84 138.22,908.94 138.46,909.04 C138.7,909.14 138.94,909.23 139.18,909.33 C139.42,909.42 139.66,909.52 139.9,909.61 C140.14,909.7 140.38,909.79 140.62,909.88 C140.86,909.97 141.1,910.06 141.34,910.15 C141.58,910.23 141.82,910.32 142.06,910.41 C142.3,910.49 142.54,910.58 142.78,910.66 C143.02,910.74 143.26,910.82 143.5,910.9 C143.74,910.98 143.98,911.06 144.22,911.14 C144.46,911.22 144.7,911.29 144.94,911.36 C145.19,911.44 145.43,911.51 145.67,911.58 C145.91,911.64 146.15,911.71 146.39,911.77 C146.63,911.84 146.87,911.9 147.11,911.96 C147.35,912.01 147.59,912.07 147.83,912.12 C148.07,912.17 148.31,912.22 148.55,912.27 C148.79,912.32 149.03,912.36 149.27,912.41 C149.51,912.45 149.75,912.5 149.99,912.54 C150.23,912.58 150.47,912.63 150.71,912.67 C150.95,912.71 151.19,912.75 151.43,912.8 C151.67,912.84 151.91,912.88 152.16,912.92 C152.4,912.96 152.64,913 152.88,913.04 C153.12,913.07 153.36,913.11 153.6,913.15 C153.84,913.19 154.08,913.23 154.32,913.26 C154.56,913.3 154.8,913.33 155.04,913.37 C155.28,913.4 155.52,913.44 155.76,913.47 C156,913.51 156.24,913.54 156.48,913.57 C156.72,913.61 156.96,913.64 157.2,913.67 C157.44,913.7 157.68,913.73 157.92,913.76 C158.16,913.79 158.4,913.82 158.64,913.85 C158.88,913.88 159.12,913.91 159.36,913.94 C159.61,913.97 159.85,914 160.09,914.02 C160.33,914.05 160.57,914.08 160.81,914.1 C161.05,914.13 161.29,914.16 161.53,914.18 C161.77,914.21 162.01,914.23 162.25,914.25 C162.49,914.28 162.73,914.3 162.97,914.32 C163.21,914.35 163.45,914.37 163.69,914.39 C163.93,914.41 164.17,914.43 164.41,914.46 C164.65,914.48 164.89,914.5 165.13,914.52 C165.37,914.54 165.61,914.55 165.85,914.57 C166.09,914.59 166.33,914.61 166.57,914.63 C166.82,914.65 167.06,914.66 167.3,914.68 C167.54,914.7 167.78,914.71 168.02,914.73 C168.26,914.75 168.5,914.76 168.74,914.78 C168.98,914.8 169.22,914.81 169.46,914.83 C169.7,914.84 169.94,914.86 170.18,914.88 C170.42,914.89 170.66,914.91 170.9,914.92 C171.14,914.94 171.38,914.95 171.62,914.97 C171.86,914.98 172.1,915 172.34,915.01 C172.58,915.02 172.82,915.04 173.06,915.05 C173.3,915.07 173.54,915.08 173.78,915.09 C174.03,915.11 174.27,915.12 174.51,915.13 C174.75,915.14 174.99,915.16 175.23,915.17 C175.47,915.18 175.71,915.19 175.95,915.21 C176.19,915.22 176.43,915.23 176.67,915.24 C176.91,915.25 177.15,915.26 177.39,915.28 C177.63,915.29 177.87,915.3 178.11,915.31 C178.35,915.32 178.59,915.33 178.83,915.34 C179.07,915.35 179.31,915.36 179.55,915.37 C179.79,915.38 180.03,915.39 180.27,915.4 C180.51,915.41 180.75,915.42 181,915.43 C181.24,915.44 181.48,915.44 181.72,915.45 C181.96,915.46 182.2,915.47 182.44,915.48 C182.68,915.49 182.92,915.49 183.16,915.5 C183.4,915.51 183.64,915.52 183.88,915.52 C184.12,915.53 184.36,915.54 184.6,915.55 C184.84,915.55 185.08,915.56 185.32,915.57 C185.56,915.57 185.8,915.58 186.04,915.59 C186.28,915.59 186.52,915.6 186.76,915.61 C187,915.61 187.24,915.62 187.48,915.63 C187.72,915.63 187.96,915.64 188.21,915.65 C188.45,915.65 188.69,915.66 188.93,915.67 C189.17,915.67 189.41,915.68 189.65,915.69 C189.89,915.69 190.13,915.7 190.37,915.7 C190.61,915.71 190.85,915.72 191.09,915.72 C191.33,915.73 191.57,915.74 191.81,915.74 C192.05,915.75 192.29,915.76 192.53,915.76 C192.77,915.77 193.01,915.78 193.25,915.78 C193.49,915.79 193.73,915.79 193.97,915.8 C194.21,915.81 194.45,915.81 194.69,915.82 C194.93,915.82 195.17,915.83 195.41,915.84 C195.66,915.84 195.9,915.85 196.14,915.85 C196.38,915.86 196.62,915.87 196.86,915.87 C197.1,915.88 197.34,915.88 197.58,915.89 C197.82,915.89 198.06,915.9 198.3,915.91 C198.54,915.91 198.78,915.92 199.02,915.92 C199.26,915.93 199.5,915.93 199.74,915.94 C199.98,915.94 200.22,915.95 200.46,915.95 C200.7,915.96 200.94,915.96 201.18,915.97 C201.42,915.98 201.66,915.98 201.9,915.99 C202.14,915.99 202.38,916 202.62,916 C202.87,916 203.11,916.01 203.35,916.01 C203.59,916.02 203.83,916.02 204.07,916.03 C204.31,916.03 204.55,916.04 204.79,916.04 C205.03,916.05 205.27,916.05 205.51,916.05 C205.75,916.06 205.99,916.06 206.23,916.07 C206.47,916.07 206.71,916.08 206.95,916.08 C207.19,916.08 207.43,916.09 207.67,916.09 C207.91,916.09 208.15,916.1 208.39,916.1 C208.63,916.11 208.87,916.11 209.11,916.11 C209.35,916.12 209.59,916.12 209.84,916.12 C210.08,916.13 210.32,916.13 210.56,916.13 C210.8,916.14 211.04,916.14 211.28,916.14 C211.52,916.14 211.76,916.15 212,916.15 C212.24,916.15 212.48,916.15 212.72,916.16 C212.96,916.16 213.2,916.16 213.44,916.16 C213.68,916.17 213.92,916.17 214.16,916.17 C214.4,916.17 214.64,916.18 214.88,916.18 C215.12,916.18 215.36,916.18 215.6,916.18 C215.84,916.18 216.08,916.19 216.32,916.19 C216.56,916.19 216.8,916.19 217.04,916.19 C217.29,916.19 217.53,916.19 217.77,916.19 C218.01,916.2 218.25,916.2 218.49,916.2 C218.73,916.2 218.97,916.2 219.21,916.2 C219.45,916.2 219.69,916.2 219.93,916.2 C220.17,916.2 220.53,916.2 220.65,916.2" fill="none" stroke="#3bb07a" stroke-width="1.6"/>
</g>
<rect x="40.4" y="772.9" width="180.3" height="144.2" fill="none" stroke="#111" stroke-width="1.1"/>
<line x1="40.4" y1="917.1" x2="40.4" y2="919.9" stroke="#111" stroke-width="1"/>
<line x1="76.45" y1="917.1" x2="76.45" y2="919.9" stroke="#111" stroke-width="1"/>
<line x1="112.5" y1="917.1" x2="112.5" y2="919.9" stroke="#111" stroke-width="1"/>
<line x1="148.55" y1="917.1" x2="148.55" y2="919.9" stroke="#111" stroke-width="1"/>
<line x1="184.6" y1="917.1" x2="184.6" y2="919.9" stroke="#111" stroke-width="1"/>
<line x1="220.65" y1="917.1" x2="220.65" y2="919.9" stroke="#111" stroke-width="1"/>
<text x="40.4" y="932" font-size="10" text-anchor="middle" fill="#111">300</text>
<text x="76.45" y="932" font-size="10" text-anchor="middle" fill="#111">400</text>
<text x="112.5" y="932" font-size="10" text-anchor="middle" fill="#111">500</text>
<text x="148.55" y="932" font-size="10" text-anchor="middle" fill="#111">600</text>
<text x="184.6" y="932" font-size="10" text-anchor="middle" fill="#111">700</text>
<text x="220.65" y="932" font-size="10" text-anchor="middle" fill="#111">800</text>
<line x1="37.6" y1="916.2" x2="40.4" y2="916.2" stroke="#111" stroke-width="1"/>
<line x1="37.6" y1="890" x2="40.4" y2="890" stroke="#111" stroke-width="1"/>
<line x1="37.6" y1="863.8" x2="40.4" y2="863.8" stroke="#111" stroke-width="1"/>
<line x1="37.6" y1="837.6" x2="40.4" y2="837.6" stroke="#111" stroke-width="1"/>
<line x1="37.6" y1="811.4" x2="40.4" y2="811.4" stroke="#111" stroke-width="1"/>
<line x1="37.6" y1="785.2" x2="40.4" y2="785.2" stroke="#111" stroke-width="1"/>
<text x="33.6" y="919.8" font-size="10" text-anchor="end" fill="#111">0.0</text>
<text x="33.6" y="893.6" font-size="10" text-anchor="end" fill="#111">0.2</text>
<text x="33.6" y="867.4" font-size="10" text-anchor="end" fill="#111">0.4</text>
<text x="33.6" y="841.2" font-size="10" text-anchor="end" fill="#111">0.6</text>
<text x="33.6" y="815" font-size="10" text-anchor="end" fill="#111">0.8</text>
<text x="33.6" y="788.8" font-size="10" text-anchor="end" fill="#111">1.0</text>
<text x="10.2" y="845" font-size="10.2" text-anchor="middle" fill="#111" transform="rotate(-90 10.2 845)">Intensity (a.u.)</text>
<text x="130.3" y="946.6" font-size="10.2" text-anchor="middle" fill="#111">Wavelength (nm)</text>
<line x1="166.4" y1="783.4" x2="181.5" y2="783.4" stroke="#4b4b4b" stroke-width="1.5"/>
<text x="187.3" y="787.1" font-size="10.2" fill="#111">NaCl</text>
<line x1="166.4" y1="798.2" x2="181.5" y2="798.2" stroke="#e8333a" stroke-width="1.5"/>
<text x="187.3" y="801.9" font-size="10.2" fill="#111">KCl</text>
<line x1="166.4" y1="813.1" x2="181.5" y2="813.1" stroke="#2f7fe0" stroke-width="1.5"/>
<text x="187.3" y="816.8" font-size="10.2" fill="#111">CaCl2</text>
<line x1="166.4" y1="826.9" x2="181.5" y2="826.9" stroke="#f0a92a" stroke-width="1.5"/>
<text x="187.3" y="830.6" font-size="10.2" fill="#111">UA</text>
<line x1="166.4" y1="841.6" x2="181.5" y2="841.6" stroke="#e6d62a" stroke-width="1.5"/>
<text x="187.3" y="845.3" font-size="10.2" fill="#111">AA</text>
<line x1="166.4" y1="856.4" x2="181.5" y2="856.4" stroke="#b12fd0" stroke-width="1.5"/>
<text x="187.3" y="860.1" font-size="10.2" fill="#111">LA</text>
<line x1="166.4" y1="869" x2="181.5" y2="869" stroke="#3bb07a" stroke-width="1.5"/>
<text x="187.3" y="872.7" font-size="10.2" fill="#111">Glu</text>
<text x="257.1" y="763" font-size="16.5" font-weight="bold" fill="#000">h</text>
<filter id="bl2h"><feGaussianBlur stdDeviation="2.2"/></filter>
<filter id="bl1h"><feGaussianBlur stdDeviation="1"/></filter>
<filter id="semgrain" x="0" y="0" width="1" height="1"><feTurbulence type="fractalNoise" baseFrequency="0.75" numOctaves="2" seed="5" result="t"/><feColorMatrix in="t" type="matrix" values="0 0 0 0 0  0 0 0 0 0  0 0 0 0 0  0.85 0 0 0 -0.41" result="dk"/><feColorMatrix in="t" type="matrix" values="0 0 0 0 1  0 0 0 0 1  0 0 0 0 1  0 0.5 0 0 -0.27" result="lt"/><feComposite in="dk" in2="SourceAlpha" operator="in" result="dk2"/><feComposite in="lt" in2="SourceAlpha" operator="in" result="lt2"/><feMerge><feMergeNode in="SourceGraphic"/><feMergeNode in="dk2"/><feMergeNode in="lt2"/></feMerge></filter>
<clipPath id="ch1"><rect x="256.4" y="772.1" width="83.7" height="73.3"/></clipPath>
<g clip-path="url(#ch1)">
<rect x="256.4" y="772.1" width="83.7" height="73.3" fill="#ededed"/>
<g filter="url(#semgrain)">
<path d="M250,823 Q270,815 290,819 L300,810 Q320,800 345,803 L345,850 L250,850 Z" fill="#4a4a4a" filter="url(#bl2h)"/>
<path d="M302.5,780 L308,780 L309.5,805 L313,830 L325,846 L296,846 L301,820 Z" fill="#7c7c7c" filter="url(#bl1h)"/>
<path d="M322.3,787 L326.2,787 L327.5,806 L331,846 L318,846 L321.3,806 Z" fill="#606060" filter="url(#bl1h)"/>
<path d="M293.3,776.5 Q295.6,774.5 298,776.5 L299.6,805 Q301,825 306,835 Q312,843 318,846 L274,846 Q284,840 288,832 Q291.5,822 292,805 Z" fill="#a9a9a9"/>
</g>
<line x1="317" y1="838.7" x2="336" y2="838.7" stroke="#ffffff" stroke-width="1.9"/>
</g>
<rect x="256.4" y="772.1" width="83.7" height="73.3" fill="none" stroke="#1a1a1a" stroke-width="1.4"/>
<text x="336.4" y="786.2" font-size="10" text-anchor="end" fill="#111">0 min</text>
<clipPath id="ch2"><rect x="355.3" y="772.3" width="83.7" height="72.4"/></clipPath>
<g clip-path="url(#ch2)">
<rect x="355.3" y="772.3" width="83.7" height="72.4" fill="#fafafa"/>
<g filter="url(#semgrain)">
<path d="M350,818 Q365,812 378,814 L380,808 L420,808 Q430,803 445,804 L445,850 L350,850 Z" fill="#5e5e5e" filter="url(#bl2h)"/>
<rect x="355.3" y="836.5" width="83.7" height="10" fill="#b9b9b9" filter="url(#bl1h)"/>
<path d="M404,770 L409.5,770 L411,800 L414,825 L425,838 L398,838 L401.5,815 Z" fill="#8a8a8a" filter="url(#bl1h)"/>
<path d="M385.5,782 Q385.5,778.5 390.4,778.5 Q395.4,778.5 395.4,782 L397,805 Q399,822 405,830 L412,838 L372,838 Q380,830 382.5,820 Q384,810 384.5,800 Z" fill="#9e9e9e"/>
</g>
<line x1="413.8" y1="838.6" x2="432.8" y2="838.6" stroke="#ffffff" stroke-width="1.9"/>
</g>
<rect x="355.3" y="772.3" width="83.7" height="72.4" fill="none" stroke="#1a1a1a" stroke-width="1.4"/>
<text x="435.4" y="786" font-size="10" text-anchor="end" fill="#111">5 min</text>
<clipPath id="ch3"><rect x="256.4" y="860.2" width="83.7" height="73.1"/></clipPath>
<g clip-path="url(#ch3)">
<linearGradient id="gh3" x1="0" x2="0" y1="0" y2="1"><stop offset="0" stop-color="#f4f4f4"/><stop offset="0.7" stop-color="#ededed"/><stop offset="1" stop-color="#d6d6d6"/></linearGradient>
<rect x="256.4" y="860.2" width="83.7" height="73.1" fill="url(#gh3)"/>
<g filter="url(#semgrain)">
<circle cx="275" cy="872" r="6" fill="#dedede" filter="url(#bl2h)"/>
<rect x="256.4" y="925" width="83.7" height="9" fill="#9a9a9a"/>
<path d="M277,926 Q285,917 293,916.6 Q301,916.8 309,926 Z" fill="#5e5e5e"/>
</g>
<line x1="317" y1="925.9" x2="336" y2="925.9" stroke="#ffffff" stroke-width="1.9"/>
</g>
<rect x="256.4" y="860.2" width="83.7" height="73.1" fill="none" stroke="#1a1a1a" stroke-width="1.4"/>
<text x="334.8" y="873.8" font-size="10" text-anchor="end" fill="#111">60 min</text>
<clipPath id="ch4"><rect x="355.3" y="859.7" width="84.1" height="72.6"/></clipPath>
<g clip-path="url(#ch4)">
<rect x="355.3" y="859.7" width="84.1" height="72.6" fill="#fbfbfb"/>
<g filter="url(#semgrain)">
<path d="M350,899 Q370,895 390,898 L410,896 Q430,894 445,898 L445,935 L350,935 Z" fill="#4e4e4e" filter="url(#bl2h)"/>
<path d="M404,900 Q405,886 412,885.5 Q420,885.5 422,895 Q430,912 445,922 L445,927 L400,927 Z" fill="#8a8a8a" filter="url(#bl1h)"/>
<path d="M390,899 Q392,891 398,891 Q404,891 406,899 Q410,912 420,918 Q428,923 432,926 L358,926 Q372,921 380,914 Q387,907 390,899 Z" fill="#a5a5a5"/>
<rect x="355.3" y="925.6" width="84.1" height="7" fill="#c8c8c8"/>
</g>
<line x1="414.4" y1="925.9" x2="432.8" y2="925.9" stroke="#ffffff" stroke-width="1.9"/>
</g>
<rect x="355.3" y="859.7" width="84.1" height="72.6" fill="none" stroke="#1a1a1a" stroke-width="1.4"/>
<text x="434.8" y="873.8" font-size="10" text-anchor="end" fill="#111">30 min</text>
<path d="M343.5,807 L348.5,807 L348.5,803.5 L353.5,810 L348.5,816.5 L348.5,813 L343.5,813 Z" fill="#8f8f8f"/>
<path d="M394.4,847.5 L400.4,847.5 L400.4,851.5 L404,851.5 L397.4,857 L390.8,851.5 L394.4,851.5 Z" fill="#8f8f8f"/>
<path d="M352,893.5 L347,893.5 L347,890 L341.8,896.5 L347,903 L347,899.5 L352,899.5 Z" fill="#8f8f8f"/>
<text x="464.6" y="762.9" font-size="16.5" font-weight="bold" fill="#000">i</text>
<clipPath id="clipi"><rect x="504.3" y="770.2" width="181.7" height="145.5"/></clipPath>
<g clip-path="url(#clipi)">
<line x1="504.3" y1="902.6" x2="686" y2="902.6" stroke="#707070" stroke-width="1.6"/>
<path d="M501.79,902.48 C501.95,902.48 502.43,902.46 502.75,902.45 C503.07,902.44 503.39,902.43 503.71,902.42 C504.03,902.41 504.35,902.4 504.67,902.38 C504.99,902.37 505.31,902.36 505.63,902.34 C505.95,902.33 506.27,902.31 506.59,902.3 C506.91,902.28 507.23,902.27 507.55,902.25 C507.87,902.23 508.2,902.22 508.52,902.2 C508.84,902.18 509.16,902.17 509.48,902.15 C509.8,902.13 510.12,902.11 510.44,902.09 C510.76,902.08 511.08,902.06 511.4,902.04 C511.72,902.02 512.04,902.01 512.36,901.99 C512.68,901.98 513,901.96 513.32,901.94 C513.64,901.93 513.96,901.92 514.28,901.9 C514.6,901.89 514.92,901.88 515.24,901.87 C515.56,901.86 515.88,901.85 516.2,901.84 C516.52,901.83 516.84,901.83 517.16,901.82 C517.48,901.82 517.8,901.81 518.12,901.81 C518.44,901.81 518.76,901.81 519.08,901.81 C519.4,901.81 519.72,901.82 520.04,901.82 C520.36,901.83 520.68,901.83 521,901.84 C521.32,901.85 521.64,901.86 521.96,901.87 C522.28,901.88 522.6,901.89 522.92,901.9 C523.24,901.92 523.56,901.93 523.88,901.94 C524.21,901.96 524.53,901.97 524.85,901.99 C525.17,902.01 525.49,902.02 525.81,902.04 C526.13,902.06 526.45,902.07 526.77,902.09 C527.09,902.11 527.41,902.13 527.73,902.14 C528.05,902.16 528.37,902.18 528.69,902.19 C529.01,902.21 529.33,902.23 529.65,902.24 C529.97,902.26 530.29,902.27 530.61,902.29 C530.93,902.3 531.25,902.31 531.57,902.32 C531.89,902.34 532.21,902.35 532.53,902.36 C532.85,902.37 533.17,902.38 533.49,902.39 C533.81,902.4 534.13,902.4 534.45,902.41 C534.77,902.41 535.09,902.42 535.41,902.42 C535.73,902.43 536.05,902.43 536.37,902.43 C536.69,902.43 537.01,902.43 537.33,902.43 C537.65,902.42 537.97,902.42 538.29,902.41 C538.61,902.41 538.93,902.4 539.25,902.39 C539.57,902.39 539.89,902.38 540.22,902.36 C540.54,902.35 540.86,902.34 541.18,902.32 C541.5,902.3 541.82,902.29 542.14,902.27 C542.46,902.25 542.78,902.22 543.1,902.2 C543.42,902.18 543.74,902.15 544.06,902.12 C544.38,902.09 544.7,902.06 545.02,902.02 C545.34,901.99 545.66,901.95 545.98,901.91 C546.3,901.87 546.62,901.83 546.94,901.78 C547.26,901.74 547.58,901.69 547.9,901.64 C548.22,901.59 548.54,901.53 548.86,901.48 C549.18,901.42 549.5,901.36 549.82,901.3 C550.14,901.23 550.46,901.17 550.78,901.1 C551.1,901.03 551.42,900.96 551.74,900.89 C552.06,900.81 552.38,900.73 552.7,900.65 C553.02,900.57 553.34,900.49 553.66,900.41 C553.98,900.32 554.3,900.23 554.62,900.14 C554.94,900.05 555.26,899.95 555.58,899.85 C555.9,899.75 556.23,899.65 556.55,899.54 C556.87,899.43 557.19,899.32 557.51,899.2 C557.83,899.08 558.15,898.96 558.47,898.82 C558.79,898.69 559.11,898.54 559.43,898.39 C559.75,898.23 560.07,898.06 560.39,897.88 C560.71,897.69 561.03,897.5 561.35,897.28 C561.67,897.06 561.99,896.82 562.31,896.56 C562.63,896.3 562.95,896.01 563.27,895.7 C563.59,895.39 563.91,895.05 564.23,894.69 C564.55,894.33 564.87,893.93 565.19,893.52 C565.51,893.1 565.83,892.65 566.15,892.19 C566.47,891.72 566.79,891.23 567.11,890.72 C567.43,890.22 567.75,889.7 568.07,889.18 C568.39,888.65 568.71,888.12 569.03,887.6 C569.35,887.08 569.67,886.55 569.99,886.06 C570.31,885.57 570.63,885.08 570.95,884.64 C571.27,884.19 571.59,883.77 571.91,883.39 C572.24,883.01 572.56,882.67 572.88,882.36 C573.2,882.06 573.52,881.8 573.84,881.56 C574.16,881.32 574.48,881.13 574.8,880.94 C575.12,880.75 575.44,880.6 575.76,880.42 C576.08,880.25 576.4,880.09 576.72,879.88 C577.04,879.66 577.36,879.44 577.68,879.14 C578,878.83 578.32,878.49 578.64,878.04 C578.96,877.58 579.28,877.06 579.6,876.41 C579.92,875.77 580.24,875.02 580.56,874.15 C580.88,873.28 581.2,872.29 581.52,871.19 C581.84,870.09 582.16,868.86 582.48,867.56 C582.8,866.25 583.12,864.82 583.44,863.37 C583.76,861.92 584.08,860.37 584.4,858.85 C584.72,857.33 585.04,855.75 585.36,854.27 C585.68,852.79 586,851.3 586.32,849.97 C586.64,848.64 586.96,847.37 587.28,846.31 C587.6,845.25 587.92,844.3 588.25,843.6 C588.57,842.91 588.89,842.32 589.21,842.12 C589.53,841.92 589.85,842.12 590.17,842.42 C590.49,842.71 590.81,843.13 591.13,843.9 C591.45,844.66 591.77,845.73 592.09,847 C592.41,848.26 592.73,849.82 593.05,851.48 C593.37,853.15 593.69,855.05 594.01,856.99 C594.33,858.93 594.65,861.03 594.97,863.11 C595.29,865.18 595.61,867.34 595.93,869.42 C596.25,871.49 596.57,873.59 596.89,875.55 C597.21,877.51 597.53,879.43 597.85,881.2 C598.17,882.98 598.49,884.65 598.81,886.18 C599.13,887.71 599.45,889.11 599.77,890.37 C600.09,891.64 600.41,892.76 600.73,893.77 C601.05,894.77 601.37,895.64 601.69,896.41 C602.01,897.18 602.33,897.82 602.65,898.39 C602.97,898.96 603.29,899.42 603.61,899.82 C603.93,900.23 604.25,900.54 604.58,900.82 C604.9,901.1 605.22,901.31 605.54,901.5 C605.86,901.68 606.18,901.82 606.5,901.93 C606.82,902.05 607.14,902.14 607.46,902.21 C607.78,902.29 608.1,902.33 608.42,902.38 C608.74,902.42 609.06,902.45 609.38,902.48 C609.7,902.5 610.02,902.52 610.34,902.54 C610.66,902.55 610.98,902.56 611.3,902.57 C611.62,902.57 611.94,902.58 612.26,902.58 C612.58,902.59 612.9,902.59 613.22,902.59 C613.54,902.59 613.86,902.6 614.18,902.6 C614.5,902.6 614.82,902.6 615.14,902.6 C615.46,902.6 615.78,902.6 616.1,902.6 C616.42,902.6 616.74,902.6 617.06,902.6 C617.38,902.6 617.7,902.6 618.02,902.6 C618.34,902.6 618.66,902.6 618.98,902.6 C619.3,902.6 619.62,902.6 619.94,902.6 C620.26,902.6 620.59,902.6 620.91,902.6 C621.23,902.6 621.55,902.6 621.87,902.6 C622.19,902.6 622.51,902.6 622.83,902.6 C623.15,902.6 623.47,902.6 623.79,902.6 C624.11,902.6 624.43,902.6 624.75,902.6 C625.07,902.6 625.39,902.6 625.71,902.6 C626.03,902.6 626.35,902.6 626.67,902.6 C626.99,902.6 627.31,902.6 627.63,902.6 C627.95,902.6 628.27,902.6 628.59,902.6 C628.91,902.6 629.23,902.6 629.55,902.6 C629.87,902.6 630.19,902.6 630.51,902.6 C630.83,902.6 631.15,902.6 631.47,902.6 C631.79,902.6 632.11,902.6 632.43,902.6 C632.75,902.6 633.07,902.6 633.39,902.6 C633.71,902.6 634.03,902.6 634.35,902.6 C634.67,902.6 634.99,902.6 635.31,902.6 C635.63,902.6 635.95,902.6 636.28,902.6 C636.6,902.6 636.92,902.6 637.24,902.6 C637.56,902.6 637.88,902.6 638.2,902.6 C638.52,902.6 638.84,902.6 639.16,902.6 C639.48,902.6 639.8,902.6 640.12,902.6 C640.44,902.6 640.76,902.6 641.08,902.6 C641.4,902.6 641.72,902.6 642.04,902.6 C642.36,902.6 642.68,902.6 643,902.6 C643.32,902.6 643.64,902.6 643.96,902.6 C644.28,902.6 644.6,902.6 644.92,902.6 C645.24,902.6 645.56,902.6 645.88,902.6 C646.2,902.6 646.52,902.6 646.84,902.6 C647.16,902.6 647.48,902.6 647.8,902.6 C648.12,902.6 648.44,902.6 648.76,902.6 C649.08,902.6 649.4,902.6 649.72,902.6 C650.04,902.6 650.36,902.6 650.68,902.6 C651,902.6 651.32,902.6 651.64,902.6 C651.96,902.6 652.29,902.6 652.61,902.6 C652.93,902.6 653.25,902.6 653.57,902.6 C653.89,902.6 654.21,902.6 654.53,902.6 C654.85,902.6 655.17,902.6 655.49,902.6 C655.81,902.6 656.13,902.6 656.45,902.6 C656.77,902.6 657.09,902.6 657.41,902.6 C657.73,902.6 658.05,902.6 658.37,902.6 C658.69,902.6 659.01,902.6 659.33,902.6 C659.65,902.6 659.97,902.6 660.29,902.6 C660.61,902.6 660.93,902.6 661.25,902.6 C661.57,902.6 661.89,902.6 662.21,902.6 C662.53,902.6 662.85,902.6 663.17,902.6 C663.49,902.6 663.81,902.6 664.13,902.6 C664.45,902.6 664.77,902.6 665.09,902.6 C665.41,902.6 665.73,902.6 666.05,902.6 C666.37,902.6 666.69,902.6 667.01,902.6 C667.33,902.6 667.65,902.6 667.97,902.6 C668.3,902.6 668.62,902.6 668.94,902.6 C669.26,902.6 669.58,902.6 669.9,902.6 C670.22,902.6 670.54,902.6 670.86,902.6 C671.18,902.6 671.5,902.6 671.82,902.6 C672.14,902.6 672.46,902.6 672.78,902.6 C673.1,902.6 673.42,902.6 673.74,902.6 C674.06,902.6 674.38,902.6 674.7,902.6 C675.02,902.6 675.34,902.6 675.66,902.6 C675.98,902.6 676.3,902.6 676.62,902.6 C676.94,902.6 677.26,902.6 677.58,902.6 C677.9,902.6 678.22,902.6 678.54,902.6 C678.86,902.6 679.18,902.6 679.5,902.6 C679.82,902.6 680.14,902.6 680.46,902.6 C680.78,902.6 681.1,902.6 681.42,902.6 C681.74,902.6 682.06,902.6 682.38,902.6 C682.7,902.6 683.02,902.6 683.34,902.6 C683.66,902.6 683.98,902.6 684.31,902.6 C684.63,902.6 684.95,902.6 685.27,902.6 C685.59,902.6 685.91,902.6 686.23,902.6 C686.55,902.6 686.87,902.6 687.19,902.6 C687.51,902.6 687.99,902.6 688.15,902.6" fill="none" stroke="#f47ec6" stroke-width="1.6"/>
<path d="M501.79,902.16 C501.95,902.15 502.43,902.1 502.75,902.06 C503.07,902.02 503.39,901.98 503.71,901.94 C504.03,901.9 504.35,901.86 504.67,901.81 C504.99,901.76 505.31,901.71 505.63,901.66 C505.95,901.61 506.27,901.55 506.59,901.5 C506.91,901.44 507.23,901.38 507.55,901.32 C507.87,901.26 508.2,901.2 508.52,901.13 C508.84,901.07 509.16,901.01 509.48,900.94 C509.8,900.88 510.12,900.81 510.44,900.75 C510.76,900.68 511.08,900.62 511.4,900.55 C511.72,900.49 512.04,900.43 512.36,900.37 C512.68,900.31 513,900.25 513.32,900.2 C513.64,900.14 513.96,900.09 514.28,900.04 C514.6,900 514.92,899.95 515.24,899.92 C515.56,899.88 515.88,899.84 516.2,899.81 C516.52,899.79 516.84,899.76 517.16,899.74 C517.48,899.73 517.8,899.71 518.12,899.71 C518.44,899.7 518.76,899.7 519.08,899.71 C519.4,899.71 519.72,899.73 520.04,899.74 C520.36,899.76 520.68,899.79 521,899.81 C521.32,899.84 521.64,899.88 521.96,899.91 C522.28,899.95 522.6,900 522.92,900.04 C523.24,900.09 523.56,900.14 523.88,900.2 C524.21,900.25 524.53,900.31 524.85,900.37 C525.17,900.42 525.49,900.49 525.81,900.55 C526.13,900.61 526.45,900.67 526.77,900.74 C527.09,900.8 527.41,900.87 527.73,900.93 C528.05,900.99 528.37,901.06 528.69,901.12 C529.01,901.18 529.33,901.24 529.65,901.3 C529.97,901.36 530.29,901.41 530.61,901.47 C530.93,901.52 531.25,901.57 531.57,901.62 C531.89,901.67 532.21,901.71 532.53,901.76 C532.85,901.8 533.17,901.84 533.49,901.87 C533.81,901.91 534.13,901.94 534.45,901.97 C534.77,901.99 535.09,902.02 535.41,902.04 C535.73,902.06 536.05,902.07 536.37,902.09 C536.69,902.1 537.01,902.11 537.33,902.11 C537.65,902.12 537.97,902.12 538.29,902.11 C538.61,902.11 538.93,902.1 539.25,902.09 C539.57,902.08 539.89,902.06 540.22,902.04 C540.54,902.02 540.86,901.99 541.18,901.96 C541.5,901.93 541.82,901.9 542.14,901.86 C542.46,901.82 542.78,901.77 543.1,901.72 C543.42,901.67 543.74,901.62 544.06,901.55 C544.38,901.49 544.7,901.43 545.02,901.35 C545.34,901.28 545.66,901.2 545.98,901.12 C546.3,901.03 546.62,900.94 546.94,900.85 C547.26,900.75 547.58,900.65 547.9,900.54 C548.22,900.43 548.54,900.31 548.86,900.19 C549.18,900.07 549.5,899.94 549.82,899.81 C550.14,899.67 550.46,899.53 550.78,899.38 C551.1,899.24 551.42,899.08 551.74,898.92 C552.06,898.76 552.38,898.6 552.7,898.43 C553.02,898.26 553.34,898.08 553.66,897.89 C553.98,897.71 554.3,897.52 554.62,897.32 C554.94,897.12 555.26,896.92 555.58,896.7 C555.9,896.49 556.23,896.27 556.55,896.04 C556.87,895.8 557.19,895.56 557.51,895.3 C557.83,895.04 558.15,894.76 558.47,894.47 C558.79,894.17 559.11,893.86 559.43,893.51 C559.75,893.17 560.07,892.8 560.39,892.39 C560.71,891.99 561.03,891.55 561.35,891.06 C561.67,890.57 561.99,890.05 562.31,889.46 C562.63,888.88 562.95,888.25 563.27,887.55 C563.59,886.85 563.91,886.1 564.23,885.28 C564.55,884.47 564.87,883.59 565.19,882.65 C565.51,881.72 565.83,880.71 566.15,879.67 C566.47,878.62 566.79,877.51 567.11,876.38 C567.43,875.26 567.75,874.07 568.07,872.9 C568.39,871.73 568.71,870.52 569.03,869.36 C569.35,868.19 569.67,867.01 569.99,865.91 C570.31,864.81 570.63,863.72 570.95,862.73 C571.27,861.74 571.59,860.81 571.91,859.97 C572.24,859.14 572.56,858.39 572.88,857.74 C573.2,857.08 573.52,856.53 573.84,856.05 C574.16,855.57 574.48,855.19 574.8,854.84 C575.12,854.48 575.44,854.23 575.76,853.93 C576.08,853.63 576.4,853.4 576.72,853.06 C577.04,852.72 577.36,852.38 577.68,851.88 C578,851.38 578.32,850.82 578.64,850.04 C578.96,849.25 579.28,848.34 579.6,847.18 C579.92,846.01 580.24,844.65 580.56,843.04 C580.88,841.42 581.2,839.56 581.52,837.48 C581.84,835.4 582.16,833.05 582.48,830.55 C582.8,828.05 583.12,825.28 583.44,822.47 C583.76,819.65 584.08,816.62 584.4,813.65 C584.72,810.69 585.04,807.58 585.36,804.68 C585.68,801.77 586,798.84 586.32,796.23 C586.64,793.62 586.96,791.1 587.28,789.01 C587.6,786.92 587.92,785.05 588.25,783.68 C588.57,782.31 588.89,781.14 589.21,780.78 C589.53,780.41 589.85,780.87 590.17,781.49 C590.49,782.11 590.81,782.95 591.13,784.49 C591.45,786.04 591.77,788.21 592.09,790.75 C592.41,793.3 592.73,796.43 593.05,799.78 C593.37,803.13 593.69,806.97 594.01,810.86 C594.33,814.76 594.65,819.01 594.97,823.17 C595.29,827.34 595.61,831.7 595.93,835.87 C596.25,840.04 596.57,844.25 596.89,848.2 C597.21,852.15 597.53,856.01 597.85,859.57 C598.17,863.14 598.49,866.51 598.81,869.58 C599.13,872.65 599.45,875.47 599.77,878.01 C600.09,880.56 600.41,882.82 600.73,884.84 C601.05,886.86 601.37,888.6 601.69,890.15 C602.01,891.7 602.33,892.99 602.65,894.13 C602.97,895.28 603.29,896.2 603.61,897.02 C603.93,897.83 604.25,898.46 604.58,899.03 C604.9,899.59 605.22,900.01 605.54,900.38 C605.86,900.75 606.18,901.02 606.5,901.26 C606.82,901.5 607.14,901.67 607.46,901.82 C607.78,901.97 608.1,902.07 608.42,902.16 C608.74,902.25 609.06,902.3 609.38,902.36 C609.7,902.41 610.02,902.44 610.34,902.47 C610.66,902.5 610.98,902.52 611.3,902.53 C611.62,902.55 611.94,902.56 612.26,902.57 C612.58,902.57 612.9,902.58 613.22,902.58 C613.54,902.59 613.86,902.59 614.18,902.59 C614.5,902.59 614.82,902.6 615.14,902.6 C615.46,902.6 615.78,902.6 616.1,902.6 C616.42,902.6 616.74,902.6 617.06,902.6 C617.38,902.6 617.7,902.6 618.02,902.6 C618.34,902.6 618.66,902.6 618.98,902.6 C619.3,902.6 619.62,902.6 619.94,902.6 C620.26,902.6 620.59,902.6 620.91,902.6 C621.23,902.6 621.55,902.6 621.87,902.6 C622.19,902.6 622.51,902.6 622.83,902.6 C623.15,902.6 623.47,902.6 623.79,902.6 C624.11,902.6 624.43,902.6 624.75,902.6 C625.07,902.6 625.39,902.6 625.71,902.6 C626.03,902.6 626.35,902.6 626.67,902.6 C626.99,902.6 627.31,902.6 627.63,902.6 C627.95,902.6 628.27,902.6 628.59,902.6 C628.91,902.6 629.23,902.6 629.55,902.6 C629.87,902.6 630.19,902.6 630.51,902.6 C630.83,902.6 631.15,902.6 631.47,902.6 C631.79,902.6 632.11,902.6 632.43,902.6 C632.75,902.6 633.07,902.6 633.39,902.6 C633.71,902.6 634.03,902.6 634.35,902.6 C634.67,902.6 634.99,902.6 635.31,902.6 C635.63,902.6 635.95,902.6 636.28,902.6 C636.6,902.6 636.92,902.6 637.24,902.6 C637.56,902.6 637.88,902.6 638.2,902.6 C638.52,902.6 638.84,902.6 639.16,902.6 C639.48,902.6 639.8,902.6 640.12,902.6 C640.44,902.6 640.76,902.6 641.08,902.6 C641.4,902.6 641.72,902.6 642.04,902.6 C642.36,902.6 642.68,902.6 643,902.6 C643.32,902.6 643.64,902.6 643.96,902.6 C644.28,902.6 644.6,902.6 644.92,902.6 C645.24,902.6 645.56,902.6 645.88,902.6 C646.2,902.6 646.52,902.6 646.84,902.6 C647.16,902.6 647.48,902.6 647.8,902.6 C648.12,902.6 648.44,902.6 648.76,902.6 C649.08,902.6 649.4,902.6 649.72,902.6 C650.04,902.6 650.36,902.6 650.68,902.6 C651,902.6 651.32,902.6 651.64,902.6 C651.96,902.6 652.29,902.6 652.61,902.6 C652.93,902.6 653.25,902.6 653.57,902.6 C653.89,902.6 654.21,902.6 654.53,902.6 C654.85,902.6 655.17,902.6 655.49,902.6 C655.81,902.6 656.13,902.6 656.45,902.6 C656.77,902.6 657.09,902.6 657.41,902.6 C657.73,902.6 658.05,902.6 658.37,902.6 C658.69,902.6 659.01,902.6 659.33,902.6 C659.65,902.6 659.97,902.6 660.29,902.6 C660.61,902.6 660.93,902.6 661.25,902.6 C661.57,902.6 661.89,902.6 662.21,902.6 C662.53,902.6 662.85,902.6 663.17,902.6 C663.49,902.6 663.81,902.6 664.13,902.6 C664.45,902.6 664.77,902.6 665.09,902.6 C665.41,902.6 665.73,902.6 666.05,902.6 C666.37,902.6 666.69,902.6 667.01,902.6 C667.33,902.6 667.65,902.6 667.97,902.6 C668.3,902.6 668.62,902.6 668.94,902.6 C669.26,902.6 669.58,902.6 669.9,902.6 C670.22,902.6 670.54,902.6 670.86,902.6 C671.18,902.6 671.5,902.6 671.82,902.6 C672.14,902.6 672.46,902.6 672.78,902.6 C673.1,902.6 673.42,902.6 673.74,902.6 C674.06,902.6 674.38,902.6 674.7,902.6 C675.02,902.6 675.34,902.6 675.66,902.6 C675.98,902.6 676.3,902.6 676.62,902.6 C676.94,902.6 677.26,902.6 677.58,902.6 C677.9,902.6 678.22,902.6 678.54,902.6 C678.86,902.6 679.18,902.6 679.5,902.6 C679.82,902.6 680.14,902.6 680.46,902.6 C680.78,902.6 681.1,902.6 681.42,902.6 C681.74,902.6 682.06,902.6 682.38,902.6 C682.7,902.6 683.02,902.6 683.34,902.6 C683.66,902.6 683.98,902.6 684.31,902.6 C684.63,902.6 684.95,902.6 685.27,902.6 C685.59,902.6 685.91,902.6 686.23,902.6 C686.55,902.6 686.87,902.6 687.19,902.6 C687.51,902.6 687.99,902.6 688.15,902.6" fill="none" stroke="#a4206f" stroke-width="1.9"/>
</g>
<rect x="504.3" y="770.2" width="179.9" height="145.5" fill="none" stroke="#111" stroke-width="1.3"/>
<line x1="516.2" y1="915.7" x2="516.2" y2="918.3" stroke="#111" stroke-width="0.9"/>
<line x1="540.22" y1="915.7" x2="540.22" y2="917.3" stroke="#111" stroke-width="0.9"/>
<line x1="564.23" y1="915.7" x2="564.23" y2="918.3" stroke="#111" stroke-width="0.9"/>
<line x1="588.25" y1="915.7" x2="588.25" y2="917.3" stroke="#111" stroke-width="0.9"/>
<line x1="612.26" y1="915.7" x2="612.26" y2="918.3" stroke="#111" stroke-width="0.9"/>
<line x1="636.28" y1="915.7" x2="636.28" y2="917.3" stroke="#111" stroke-width="0.9"/>
<line x1="660.29" y1="915.7" x2="660.29" y2="918.3" stroke="#111" stroke-width="0.9"/>
<line x1="684.31" y1="915.7" x2="684.31" y2="917.3" stroke="#111" stroke-width="0.9"/>
<text x="516.2" y="931" font-size="10" text-anchor="middle" fill="#111">400</text>
<text x="564.23" y="931" font-size="10" text-anchor="middle" fill="#111">500</text>
<text x="612.26" y="931" font-size="10" text-anchor="middle" fill="#111">600</text>
<text x="660.29" y="931" font-size="10" text-anchor="middle" fill="#111">700</text>
<line x1="501.7" y1="902.6" x2="504.3" y2="902.6" stroke="#111" stroke-width="0.9"/>
<line x1="502.7" y1="869.7" x2="504.3" y2="869.7" stroke="#111" stroke-width="0.9"/>
<line x1="501.7" y1="836.8" x2="504.3" y2="836.8" stroke="#111" stroke-width="0.9"/>
<line x1="502.7" y1="803.9" x2="504.3" y2="803.9" stroke="#111" stroke-width="0.9"/>
<line x1="501.7" y1="771" x2="504.3" y2="771" stroke="#111" stroke-width="0.9"/>
<text x="496.6" y="906.2" font-size="10" text-anchor="end" fill="#111">0.0</text>
<text x="496.6" y="840.4" font-size="10" text-anchor="end" fill="#111">0.5</text>
<text x="496.6" y="774.6" font-size="10" text-anchor="end" fill="#111">1.0</text>
<text x="472.4" y="843" font-size="10.2" text-anchor="middle" fill="#111" transform="rotate(-90 472.4 843)">Intensity (a.u.)</text>
<text x="594" y="946.4" font-size="10.2" text-anchor="middle" fill="#111">Wavelength (nm)</text>
<line x1="506.6" y1="781.6" x2="522" y2="781.6" stroke="#444444" stroke-width="1.1"/>
<text x="527.2" y="785.1" font-size="10.2" fill="#111">0 min</text>
<line x1="506.6" y1="796.5" x2="522" y2="796.5" stroke="#f47ec6" stroke-width="1.6"/>
<text x="527.2" y="800" font-size="10.2" fill="#111">10 min</text>
<line x1="506.6" y1="811.4" x2="522" y2="811.4" stroke="#a4206f" stroke-width="1.9"/>
<text x="527.2" y="814.9" font-size="10.2" fill="#111">20 min</text>
<filter id="bl05"><feGaussianBlur stdDeviation="0.5"/></filter>
<radialGradient id="gp773" cx="0.5" cy="0.5" r="0.72"><stop offset="0.55" stop-color="#f3f0e8"/><stop offset="1" stop-color="#dcd3ba"/></radialGradient>
<rect x="608.5" y="773.7" width="31.9" height="31.1" fill="url(#gp773)" filter="url(#bl05)"/>
<radialGradient id="gp812" cx="0.5" cy="0.5" r="0.72"><stop offset="0.55" stop-color="#f7d6e8"/><stop offset="1" stop-color="#f2a2c8"/></radialGradient>
<rect x="608.5" y="812.2" width="31.9" height="30.3" fill="url(#gp812)" filter="url(#bl05)"/>
<radialGradient id="gp850" cx="0.5" cy="0.5" r="0.72"><stop offset="0.55" stop-color="#f2bcd9"/><stop offset="1" stop-color="#ec5aa6"/></radialGradient>
<rect x="608.5" y="850.5" width="31.9" height="30" fill="url(#gp850)" filter="url(#bl05)"/>
<text x="645.6" y="794.1" font-size="9.8" fill="#23a8e0">0 min</text>
<text x="645.6" y="831.8" font-size="9.8" fill="#23a8e0">10 min</text>
<text x="645.6" y="868.5" font-size="9.8" fill="#23a8e0">20 min</text>
</svg>
</body></html>
